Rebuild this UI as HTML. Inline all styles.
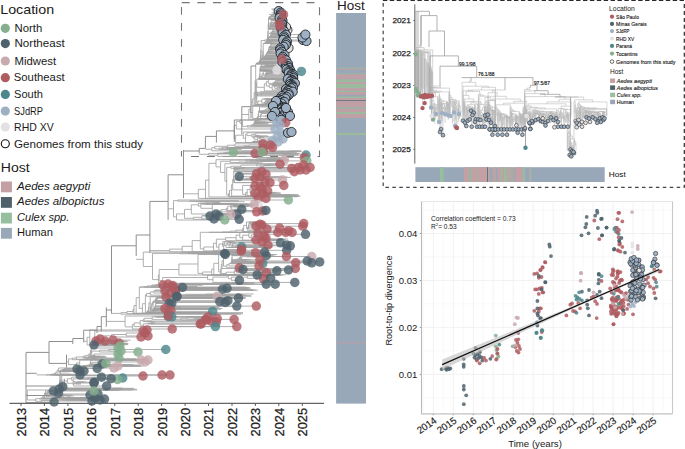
<!DOCTYPE html>
<html><head><meta charset="utf-8"><style>
html,body{margin:0;padding:0;background:#fff;overflow:hidden;width:685px;height:449px}
svg{display:block}
text{font-family:"Liberation Sans",sans-serif}
</style></head><body>
<svg width="685" height="449" viewBox="0 0 685 449">
<rect width="685" height="449" fill="#fff"/>
<text x="0.2" y="14" font-size="13.4" textLength="54" lengthAdjust="spacingAndGlyphs" fill="#1a1a1a">Location</text>
<circle cx="5.3" cy="28.3" r="4.6" fill="#84AE8E"/>
<text x="14.5" y="31.6" font-size="10.1" textLength="27.7" lengthAdjust="spacingAndGlyphs" fill="#1a1a1a">North</text>
<circle cx="5.3" cy="43.6" r="4.6" fill="#4E626C"/>
<text x="14.5" y="47.1" font-size="10.1" textLength="50.2" lengthAdjust="spacingAndGlyphs" fill="#1a1a1a">Northeast</text>
<circle cx="5.3" cy="61" r="4.6" fill="#C8A9AE"/>
<text x="14.5" y="64.5" font-size="10.1" textLength="41.6" lengthAdjust="spacingAndGlyphs" fill="#1a1a1a">Midwest</text>
<circle cx="5.3" cy="77.7" r="4.6" fill="#AF5C60"/>
<text x="13.8" y="81.3" font-size="10.1" textLength="50.9" lengthAdjust="spacingAndGlyphs" fill="#1a1a1a">Southeast</text>
<circle cx="5.3" cy="94.4" r="4.6" fill="#4D878C"/>
<text x="14.1" y="98.3" font-size="10.1" textLength="28.9" lengthAdjust="spacingAndGlyphs" fill="#1a1a1a">South</text>
<circle cx="5.3" cy="111.1" r="4.6" fill="#9DB0C4"/>
<text x="14.1" y="114.6" font-size="10.1" textLength="28.9" lengthAdjust="spacingAndGlyphs" fill="#1a1a1a">SJdRP</text>
<circle cx="5.3" cy="127" r="4.6" fill="#E4E1E5"/>
<text x="14.1" y="131.1" font-size="10.1" textLength="39.6" lengthAdjust="spacingAndGlyphs" fill="#1a1a1a">RHD XV</text>
<circle cx="5.3" cy="143.7" r="4.0" fill="none" stroke="#111" stroke-width="1.1"/>
<text x="14.1" y="147.6" font-size="10.1" textLength="128.9" lengthAdjust="spacingAndGlyphs" fill="#1a1a1a">Genomes from this study</text>
<text x="0.8" y="171.7" font-size="13.2" textLength="28.9" lengthAdjust="spacingAndGlyphs" fill="#1a1a1a">Host</text>
<rect x="0.9" y="181.5" width="11" height="10.8" fill="#C49FA3"/>
<text x="17" y="190.3" font-size="10.4" textLength="73.3" lengthAdjust="spacingAndGlyphs" font-style="italic" fill="#1a1a1a">Aedes aegypti</text>
<rect x="0.9" y="197" width="11" height="10.8" fill="#4E616B"/>
<text x="17" y="204.6" font-size="10.4" textLength="87.4" lengthAdjust="spacingAndGlyphs" font-style="italic" fill="#1a1a1a">Aedes albopictus</text>
<rect x="0.9" y="212.7" width="11" height="10.8" fill="#98BF9D"/>
<text x="17" y="221" font-size="10.4" textLength="52.3" lengthAdjust="spacingAndGlyphs" font-style="italic" fill="#1a1a1a">Culex spp.</text>
<rect x="0.9" y="227.9" width="11" height="10.8" fill="#98A8B8"/>
<text x="17" y="235.5" font-size="10.4" textLength="35.9" lengthAdjust="spacingAndGlyphs" fill="#1a1a1a">Human</text>
<text x="337" y="9.7" font-size="12.4" textLength="27.7" lengthAdjust="spacingAndGlyphs" fill="#1a1a1a">Host</text>
<rect x="336.1" y="13" width="29.9" height="390.6" fill="#98A8B8"/>
<rect x="336.1" y="67.6" width="29.9" height="1.1" fill="#9CBA9E"/>
<rect x="336.1" y="68.7" width="29.9" height="1.1" fill="#BEA0A6"/>
<rect x="336.1" y="73.4" width="29.9" height="0.9" fill="#9CBA9E"/>
<rect x="336.1" y="74.3" width="29.9" height="5.1" fill="#BEA0A6"/>
<rect x="336.1" y="79.4" width="29.9" height="2.6" fill="#9CBA9E"/>
<rect x="336.1" y="82" width="29.9" height="2" fill="#BEA0A6"/>
<rect x="336.1" y="84" width="29.9" height="4" fill="#9CBA9E"/>
<rect x="336.1" y="88" width="29.9" height="2.7" fill="#BEA0A6"/>
<rect x="336.1" y="90.7" width="29.9" height="1.3" fill="#9CBA9E"/>
<rect x="336.1" y="92" width="29.9" height="2.8" fill="#BEA0A6"/>
<rect x="336.1" y="96.5" width="29.9" height="1.5" fill="#9CBA9E"/>
<rect x="336.1" y="98" width="29.9" height="2" fill="#BEA0A6"/>
<rect x="336.1" y="100" width="29.9" height="0.9" fill="#6c727a"/>
<rect x="336.1" y="101" width="29.9" height="6.5" fill="#BEA0A6"/>
<rect x="336.1" y="107.5" width="29.9" height="1.3" fill="#9CBA9E"/>
<rect x="336.1" y="108.8" width="29.9" height="3.2" fill="#BEA0A6"/>
<rect x="336.1" y="112" width="29.9" height="2" fill="#9CBA9E"/>
<rect x="336.1" y="114" width="29.9" height="4" fill="#BEA0A6"/>
<rect x="336.1" y="132.8" width="29.9" height="2.4" fill="#9CBA9E"/>
<rect x="336.1" y="342.3" width="29.9" height="1" fill="#BEA0A6"/>
<path d="M9.5 403.4H324" stroke="#666" stroke-width="1.1" fill="none"/>
<path d="M21 403.4V405.9" stroke="#555" stroke-width="1" fill="none"/>
<text transform="translate(25.9 407.9) rotate(-90)" font-size="12.9" text-anchor="end" textLength="28.6" lengthAdjust="spacingAndGlyphs" fill="#1a1a1a" stroke="#1a1a1a" stroke-width="0.25">2013</text>
<path d="M44.4 403.4V405.9" stroke="#555" stroke-width="1" fill="none"/>
<text transform="translate(49.3 407.9) rotate(-90)" font-size="12.9" text-anchor="end" textLength="28.6" lengthAdjust="spacingAndGlyphs" fill="#1a1a1a" stroke="#1a1a1a" stroke-width="0.25">2014</text>
<path d="M67.9 403.4V405.9" stroke="#555" stroke-width="1" fill="none"/>
<text transform="translate(72.8 407.9) rotate(-90)" font-size="12.9" text-anchor="end" textLength="28.6" lengthAdjust="spacingAndGlyphs" fill="#1a1a1a" stroke="#1a1a1a" stroke-width="0.25">2015</text>
<path d="M91.3 403.4V405.9" stroke="#555" stroke-width="1" fill="none"/>
<text transform="translate(96.2 407.9) rotate(-90)" font-size="12.9" text-anchor="end" textLength="28.6" lengthAdjust="spacingAndGlyphs" fill="#1a1a1a" stroke="#1a1a1a" stroke-width="0.25">2016</text>
<path d="M114.8 403.4V405.9" stroke="#555" stroke-width="1" fill="none"/>
<text transform="translate(119.7 407.9) rotate(-90)" font-size="12.9" text-anchor="end" textLength="28.6" lengthAdjust="spacingAndGlyphs" fill="#1a1a1a" stroke="#1a1a1a" stroke-width="0.25">2017</text>
<path d="M138.2 403.4V405.9" stroke="#555" stroke-width="1" fill="none"/>
<text transform="translate(143.1 407.9) rotate(-90)" font-size="12.9" text-anchor="end" textLength="28.6" lengthAdjust="spacingAndGlyphs" fill="#1a1a1a" stroke="#1a1a1a" stroke-width="0.25">2018</text>
<path d="M161.6 403.4V405.9" stroke="#555" stroke-width="1" fill="none"/>
<text transform="translate(166.5 407.9) rotate(-90)" font-size="12.9" text-anchor="end" textLength="28.6" lengthAdjust="spacingAndGlyphs" fill="#1a1a1a" stroke="#1a1a1a" stroke-width="0.25">2019</text>
<path d="M185.1 403.4V405.9" stroke="#555" stroke-width="1" fill="none"/>
<text transform="translate(190 407.9) rotate(-90)" font-size="12.9" text-anchor="end" textLength="28.6" lengthAdjust="spacingAndGlyphs" fill="#1a1a1a" stroke="#1a1a1a" stroke-width="0.25">2020</text>
<path d="M208.5 403.4V405.9" stroke="#555" stroke-width="1" fill="none"/>
<text transform="translate(213.4 407.9) rotate(-90)" font-size="12.9" text-anchor="end" textLength="28.6" lengthAdjust="spacingAndGlyphs" fill="#1a1a1a" stroke="#1a1a1a" stroke-width="0.25">2021</text>
<path d="M232 403.4V405.9" stroke="#555" stroke-width="1" fill="none"/>
<text transform="translate(236.9 407.9) rotate(-90)" font-size="12.9" text-anchor="end" textLength="28.6" lengthAdjust="spacingAndGlyphs" fill="#1a1a1a" stroke="#1a1a1a" stroke-width="0.25">2022</text>
<path d="M255.4 403.4V405.9" stroke="#555" stroke-width="1" fill="none"/>
<text transform="translate(260.3 407.9) rotate(-90)" font-size="12.9" text-anchor="end" textLength="28.6" lengthAdjust="spacingAndGlyphs" fill="#1a1a1a" stroke="#1a1a1a" stroke-width="0.25">2023</text>
<path d="M278.8 403.4V405.9" stroke="#555" stroke-width="1" fill="none"/>
<text transform="translate(283.7 407.9) rotate(-90)" font-size="12.9" text-anchor="end" textLength="28.6" lengthAdjust="spacingAndGlyphs" fill="#1a1a1a" stroke="#1a1a1a" stroke-width="0.25">2024</text>
<path d="M302.3 403.4V405.9" stroke="#555" stroke-width="1" fill="none"/>
<text transform="translate(307.2 407.9) rotate(-90)" font-size="12.9" text-anchor="end" textLength="28.6" lengthAdjust="spacingAndGlyphs" fill="#1a1a1a" stroke="#1a1a1a" stroke-width="0.25">2025</text>
<path d="M181.7 2.6H320" stroke="#777" stroke-width="1.1" fill="none" stroke-dasharray="8 7.6"/>
<path d="M191.1 156.5H320" stroke="#777" stroke-width="1.1" fill="none" stroke-dasharray="7.9 7.9"/>
<path d="M181.5 6.9V156.5" stroke="#777" stroke-width="1.1" fill="none" stroke-dasharray="7.8 8.2"/>
<path d="M319.5 7.3V156.5" stroke="#777" stroke-width="1.1" fill="none" stroke-dasharray="8 7.9"/>
<path d="M278.4 9H271.4M278.4 9.9H272.3M278.4 9V9.9M278.1 9.5H278.4M278.1 10H282.6M278.1 9.5V10M277.8 9.7H278.1M277.8 10.2H278.2M277.8 9.7V10.2M277.5 9.9H277.8M277.5 10.6H277.6M277.5 9.9V10.6M277.2 10.3H277.5M277.2 10.7H275.4M277.2 10.3V10.7M276.9 10.5H277.2M276.9 11H278.2M276.9 10.5V11M276.6 10.7H276.9M276.6 11.1H283.4M276.6 10.7V11.1M276.3 10.9H276.6M276.3 12.7H280.4M276.3 10.9V12.7M276 11.8H276.3M276 12.8H271.7M276 11.8V12.8M275.7 12.3H276M275.7 13H278.1M275.7 12.3V13M275.4 12.7H275.7M275.4 13.1H276.7M275.4 12.7V13.1M275.1 12.9H275.4M275.1 13.4H278.2M275.1 12.9V13.4M274.8 13.2H275.1M274.8 13.6H280M274.8 13.2V13.6M274.5 13.4H274.8M274.5 13.8H273.3M274.5 13.4V13.8M274.2 13.6H274.5M274.2 14H277.3M274.2 13.6V14M273.9 13.8H274.2M273.9 14H281M273.9 13.8V14M273.6 13.9H273.9M273.6 14.2H272.9M273.6 13.9V14.2M273.3 14H273.6M273.3 14.4H280.4M273.3 14V14.4M273 14.2H273.3M273 14.5H283.8M273 14.2V14.5M272.7 14.4H273M272.7 14.6H269M272.7 14.4V14.6M272.4 14.5H272.7M272.4 14.7H283M272.4 14.5V14.7M272.1 14.6H272.4M272.1 15.4H274.7M272.1 14.6V15.4M271.8 15H272.1M271.8 15.5H271.9M271.8 15V15.5M271.5 15.2H271.8M271.5 16.1H280M271.5 15.2V16.1M271.2 15.7H271.5M271.2 16.2H278.3M271.2 15.7V16.2M270.9 15.9H271.2M270.9 16.5H275.9M270.9 15.9V16.5M270.6 16.2H270.9M270.6 16.7H268.6M270.6 16.2V16.7M270.3 16.5H270.6M270.3 17.7H268.2M270.3 16.5V17.7M270 17.1H270.3M270 17.8H279.1M270 17.1V17.8M269.7 17.4H270M269.7 18.6H279.5M269.7 17.4V18.6M269.4 18H269.7M269.4 18.7H273.9M269.4 18V18.7M269.1 18.4H269.4M269.1 19.1H270.5M269.1 18.4V19.1M268.8 18.7H269.1M268.8 19.2H276.2M268.8 18.7V19.2M272.1 19.5H271.9M272.1 19.5H279.7M272.1 19.5V19.5M271.8 19.5H272.1M271.8 19.5H281.6M271.8 19.5V19.5M271.5 19.5H271.8M271.5 19.8H283.2M271.5 19.5V19.8M277.8 19.9H274.9M277.8 20.1H270.7M277.8 19.9V20.1M277.5 20H277.8M277.5 20.6H274.3M277.5 20V20.6M277.2 20.3H277.5M277.2 20.7H272.3M277.2 20.3V20.7M276.9 20.5H277.2M276.9 20.7H272.1M276.9 20.5V20.7M276.6 20.6H276.9M276.6 20.8H274.6M276.6 20.6V20.8M276.3 20.7H276.6M276.3 21.2H282M276.3 20.7V21.2M276 20.9H276.3M276 22.1H279.3M276 20.9V22.1M275.7 21.5H276M275.7 22.4H277.6M275.7 21.5V22.4M275.4 21.9H275.7M275.4 22.7H271M275.4 21.9V22.7M275.1 22.3H275.4M275.1 22.9H281.3M275.1 22.3V22.9M274.8 22.6H275.1M274.8 23.1H268.2M274.8 22.6V23.1M274.5 22.8H274.8M274.5 23.1H281.2M274.5 22.8V23.1M274.2 23H274.5M274.2 23.4H278.9M274.2 23V23.4M273.9 23.2H274.2M273.9 24.2H270.7M273.9 23.2V24.2M273.6 23.7H273.9M273.6 24.6H281.7M273.6 23.7V24.6M273.3 24.2H273.6M273.3 24.9H269.1M273.3 24.2V24.9M273 24.5H273.3M273 25.3H269.2M273 24.5V25.3M272.7 24.9H273M272.7 25.6H278.9M272.7 24.9V25.6M272.4 25.2H272.7M272.4 25.7H282.2M272.4 25.2V25.7M272.1 25.5H272.4M272.1 26.3H281M272.1 25.5V26.3M271.8 25.9H272.1M271.8 26.3H271.7M271.8 25.9V26.3M271.5 26.1H271.8M271.5 26.3H281.4M271.5 26.1V26.3M271.2 19.6H271.5M271.2 26.2H271.5M271.2 19.6V26.2M270.9 22.9H271.2M270.9 26.5H279.5M270.9 22.9V26.5M270.6 24.7H270.9M270.6 26.5H284M270.6 24.7V26.5M270.3 25.6H270.6M270.3 27H278.7M270.3 25.6V27M270 26.3H270.3M270 27H285.5M270 26.3V27M269.7 26.7H270M269.7 28H280.5M269.7 26.7V28M269.4 27.3H269.7M269.4 28.4H279M269.4 27.3V28.4M269.1 27.8H269.4M269.1 28.9H282.3M269.1 27.8V28.9M268.8 28.4H269.1M268.8 29.4H275.3M268.8 28.4V29.4M268.5 18.9H268.8M268.5 28.9H268.8M268.5 18.9V28.9M273.3 29.7H282.4M273.3 30H286.9M273.3 29.7V30M273 29.8H273.3M273 31.4H283.7M273 29.8V31.4M272.7 30.6H273M272.7 31.9H280.6M272.7 30.6V31.9M272.4 31.3H272.7M272.4 32.2H269.7M272.4 31.3V32.2M272.1 31.7H272.4M272.1 33.1H282.1M272.1 31.7V33.1M271.8 32.4H272.1M271.8 33.2H281.4M271.8 32.4V33.2M273.6 33.2H281.5M273.6 33.3H282.3M273.6 33.2V33.3M273.3 33.3H273.6M273.3 33.5H269M273.3 33.3V33.5M273 33.4H273.3M273 33.8H272.4M273 33.4V33.8M272.7 33.6H273M272.7 33.9H277M272.7 33.6V33.9M272.4 33.7H272.7M272.4 34.2H272.5M272.4 33.7V34.2M272.1 33.9H272.4M272.1 34.6H304.9M272.1 33.9V34.6M271.8 34.3H272.1M271.8 34.8H285.4M271.8 34.3V34.8M271.5 32.8H271.8M271.5 34.5H271.8M271.5 32.8V34.5M271.2 33.7H271.5M271.2 35.5H271.7M271.2 33.7V35.5M270.9 34.6H271.2M270.9 35.5H279.7M270.9 34.6V35.5M270.6 35H270.9M270.6 36.5H278.6M270.6 35V36.5M270.3 35.8H270.6M270.3 36.5H283.4M270.3 35.8V36.5M270 36.1H270.3M270 36.9H277.4M270 36.1V36.9M269.7 36.5H270M269.7 37.5H302M269.7 36.5V37.5M269.4 37H269.7M269.4 37.6H278.2M269.4 37V37.6M269.1 37.3H269.4M269.1 38.1H269M269.1 37.3V38.1M268.8 37.7H269.1M268.8 38.2H283.4M268.8 37.7V38.2M268.5 37.9H268.8M268.5 39.8H275.2M268.5 37.9V39.8M268.2 23.9H268.5M268.2 38.8H268.5M268.2 23.9V38.8M267.9 31.4H268.2M267.9 39.8H281.6M267.9 31.4V39.8M267.6 35.6H267.9M267.6 39.9H282.7M267.6 35.6V39.9M267.3 37.7H267.6M267.3 40H302.5M267.3 37.7V40M267 38.9H267.3M267 40.5H270.1M267 38.9V40.5M266.7 39.7H267M266.7 40.6H281.9M266.7 39.7V40.6M264.2 40.1H266.7M264.2 41H306M264.2 40.1V41M267.1 41H277.7M267.1 41.1H273.1M267.1 41V41.1M266.8 41.1H267.1M266.8 41.6H286.5M266.8 41.1V41.6M266.5 41.3H266.8M266.5 41.8H272.7M266.5 41.3V41.8M266.2 41.6H266.5M266.2 42.8H272.5M266.2 41.6V42.8M265.9 42.2H266.2M265.9 42.8H282.7M265.9 42.2V42.8M265.6 42.5H265.9M265.6 43.3H285.5M265.6 42.5V43.3M265.3 42.9H265.6M265.3 43.4H274.1M265.3 42.9V43.4M263.7 43.1H265.3M263.7 43.4H275.9M263.7 43.1V43.4M271.3 43.6H280.7M271.3 45H277.8M271.3 43.6V45M271 44.3H271.3M271 45H285.3M271 44.3V45M270.7 44.7H271M270.7 46.7H283.2M270.7 44.7V46.7M270.4 45.7H270.7M270.4 47H277.4M270.4 45.7V47M270.1 46.3H270.4M270.1 47.1H268.7M270.1 46.3V47.1M269.8 46.7H270.1M269.8 47.4H276M269.8 46.7V47.4M269.5 47.1H269.8M269.5 47.6H283.4M269.5 47.1V47.6M269.2 47.3H269.5M269.2 48H288M269.2 47.3V48M271 48.1H283.2M271 48.4H279.7M271 48.1V48.4M270.7 48.3H271M270.7 49.1H274.2M270.7 48.3V49.1M270.4 48.7H270.7M270.4 49.4H277.3M270.4 48.7V49.4M270.1 49H270.4M270.1 49.5H282.4M270.1 49V49.5M269.8 49.3H270.1M269.8 49.5H279.3M269.8 49.3V49.5M269.8 49.7H283M269.8 50.1H279.8M269.8 49.7V50.1M269.5 49.4H269.8M269.5 49.9H269.8M269.5 49.4V49.9M269.2 49.6H269.5M269.2 51.1H274.4M269.2 49.6V51.1M268.9 47.7H269.2M268.9 50.4H269.2M268.9 47.7V50.4M268.6 49H268.9M268.6 51.5H273.3M268.6 49V51.5M268.3 50.3H268.6M268.3 51.8H281.1M268.3 50.3V51.8M268 51H268.3M268 51.8H272.3M268 51V51.8M267.7 51.4H268M267.7 52.6H282.6M267.7 51.4V52.6M267.4 52H267.7M267.4 52.8H270.8M267.4 52V52.8M267.1 52.4H267.4M267.1 53.3H282.6M267.1 52.4V53.3M266.8 52.9H267.1M266.8 53.5H280.1M266.8 52.9V53.5M266.5 53.2H266.8M266.5 55H281.6M266.5 53.2V55M266.2 54.1H266.5M266.2 55.2H284M266.2 54.1V55.2M265.9 54.7H266.2M265.9 55.2H279.3M265.9 54.7V55.2M265.6 54.9H265.9M265.6 55.6H274.2M265.6 54.9V55.6M265.3 55.2H265.6M265.3 56H278.3M265.3 55.2V56M265 55.6H265.3M265 56.5H277.2M265 55.6V56.5M264.7 56.1H265M264.7 56.9H282.2M264.7 56.1V56.9M264.4 56.5H264.7M264.4 57.4H274.2M264.4 56.5V57.4M264.1 56.9H264.4M264.1 57.5H277.7M264.1 56.9V57.5M263.8 57.2H264.1M263.8 58.5H281.9M263.8 57.2V58.5M263.5 57.9H263.8M263.5 58.6H281.9M263.5 57.9V58.6M263.2 43.3H263.7M263.2 58.2H263.5M263.2 43.3V58.2M262.9 50.8H263.2M262.9 58.8H278.6M262.9 50.8V58.8M262.6 54.8H262.9M262.6 59H281.1M262.6 54.8V59M262.3 56.9H262.6M262.3 59.1H275.5M262.3 56.9V59.1M262 58H262.3M262 59.3H281.5M262 58V59.3M261.7 58.6H262M261.7 59.5H271.3M261.7 58.6V59.5M261.4 59H261.7M261.4 59.8H275.5M261.4 59V59.8M261.1 40.6H264.2M261.1 59.4H261.4M261.1 40.6V59.4M260.8 50H261.1M260.8 60.3H285.6M260.8 50V60.3M260.5 55.2H260.8M260.5 61.7H281.6M260.5 55.2V61.7M260.2 58.4H260.5M260.2 61.8H275.7M260.2 58.4V61.8M259.9 60.1H260.2M259.9 62H282M259.9 60.1V62M259.6 61H259.9M259.6 62H280.1M259.6 61V62M259.3 61.5H259.6M259.3 62.4H280.9M259.3 61.5V62.4M259 62H259.3M259 62.9H274.4M259 62V62.9M258.7 62.4H259M258.7 62.9H278.5M258.7 62.4V62.9M258.4 62.7H258.7M258.4 63H275.2M258.4 62.7V63M257.2 62.8H258.4M257.2 63H283.4M257.2 62.8V63M256.9 62.9H257.2M256.9 63.6H282.1M256.9 62.9V63.6M256.6 63.3H256.9M256.6 63.7H287.4M256.6 63.3V63.7M256.3 63.5H256.6M256.3 63.9H283.9M256.3 63.5V63.9M256 63.7H256.3M266.2 64.5H268.8M266.2 64.7H266.4M266.2 64.5V64.7M266 64.6H266.2M266 65.1H276.1M266 64.6V65.1M265.9 64.8H266M265.9 65.4H285.2M265.9 64.8V65.4M272.4 65.4H275.4M272.4 65.7H274.3M272.4 65.4V65.7M270 65.6H272.4M270 65.7H274.4M270 65.6V65.7M268.3 65.6H270M268.3 66.2H287.8M268.3 65.6V66.2M265.3 65.1H265.9M265.3 65.9H268.3M265.3 65.1V65.9M264.6 65.5H265.3M264.6 66.6H285.5M264.6 65.5V66.6M262.8 66.1H264.6M262.8 66.7H263.8M262.8 66.1V66.7M262.5 66.4H262.8M262.5 66.7H291.2M262.5 66.4V66.7M261.9 64H274.6M261.9 66.5H262.5M261.9 64V66.5M261.5 65.3H261.9M261.5 66.9H265.8M261.5 65.3V66.9M260.5 67H260.5M260.5 67.1H285.3M260.5 67V67.1M279.7 67.9H288.2M279.7 68H286.1M279.7 67.9V68M278.1 67.9H279.7M278.1 68.3H282.7M278.1 67.9V68.3M277.3 68.7H284.5M277.3 68.8H285.1M277.3 68.7V68.8M272.9 68.1H278.1M272.9 68.7H277.3M272.9 68.1V68.7M262.5 68.4H272.9M262.5 69.2H263.6M262.5 68.4V69.2M261.9 68.8H262.5M261.9 69.6H286.2M261.9 68.8V69.6M261.1 67.3H291.8M261.1 69.2H261.9M261.1 67.3V69.2M260.5 67.1H260.5M260.5 68.3H261.1M260.5 67.1V68.3M264.6 69.7H267.3M264.6 70H276.5M264.6 69.7V70M261.3 69.7H266.5M261.3 69.9H264.6M261.3 69.7V69.9M260.5 67.7H260.5M260.5 69.8H261.3M260.5 67.7V69.8M260.4 68.7H260.5M260.4 70.2H269.3M260.4 68.7V70.2M260.4 69.4H260.4M260.4 70.5H268.1M260.4 69.4V70.5M260.3 66.1H261.5M260.3 70H260.4M260.3 66.1V70M260.2 68H260.3M260.2 70.5H289.8M260.2 68V70.5M260 69.3H260.2M260 71.3H288M260 69.3V71.3M268.9 71.5H276.6M268.9 71.5H275.2M268.9 71.5V71.5M270.8 72.1H274M270.8 72.2H289.7M270.8 72.1V72.2M268.2 71.5H268.9M268.2 72.1H270.8M268.2 71.5V72.1M270.6 72.9H272.5M270.6 73H271.8M270.6 72.9V73M269.5 72.9H272M269.5 72.9H270.6M269.5 72.9V72.9M267.1 73H288.3M267.1 73.1H267.2M267.1 73V73.1M267.1 73H267.1M267.1 73.5H270.3M267.1 73V73.5M267 72.9H269.5M267 73.3H267.1M267 72.9V73.3M266.9 73.1H267M266.9 73.9H291.3M266.9 73.1V73.9M266.5 73.5H266.9M266.5 74H266.9M266.5 73.5V74M266.4 71.8H268.2M266.4 73.8H266.5M266.4 71.8V73.8M265.9 72.8H266.4M265.9 74.3H268.6M265.9 72.8V74.3M265.9 74.3H267.7M265.9 74.7H292.8M265.9 74.3V74.7M265.5 73.5H265.9M265.5 74.5H265.9M265.5 73.5V74.5M265.3 74H265.5M265.3 75.6H290.4M265.3 74V75.6M264.7 74.8H265.3M264.7 76.4H292.5M264.7 74.8V76.4M263.4 71.4H300.9M263.4 75.6H264.7M263.4 71.4V75.6M262.2 73.5H263.4M262.2 77.3H289.8M262.2 73.5V77.3M261.8 75.4H262.2M261.8 78.1H292.7M261.8 75.4V78.1M260 70.3H260M260 76.8H261.8M260 70.3V76.8M259.8 73.5H260M259.8 78.1H267M259.8 73.5V78.1M259.4 75.8H259.8M259.4 78.3H264.7M259.4 75.8V78.3M259.3 77H259.4M259.3 78.7H273.6M259.3 77V78.7M271.7 78.7H288.8M271.7 78.8H288.9M271.7 78.7V78.8M264.9 78.8H271.7M264.9 79H287.4M264.9 78.8V79M259.1 77.9H259.3M259.1 78.9H264.9M259.1 77.9V78.9M258.8 78.4H259.1M258.8 79.4H287.2M258.8 78.4V79.4M258.3 78.9H258.8M258.3 79.4H288.4M258.3 78.9V79.4M282.5 79.8H291.5M282.5 80.2H285.3M282.5 79.8V80.2M282.1 80H282.5M282.1 80.3H286.5M282.1 80V80.3M278.2 80.2H282.1M278.2 80.4H279.5M278.2 80.2V80.4M278 80.3H278.2M278 80.7H291.8M278 80.3V80.7M286 81.5H292.9M286 81.5H290M286 81.5V81.5M282.2 81.5H286M282.2 82.2H286.8M282.2 81.5V82.2M277.5 80.5H278M277.5 81.9H282.2M277.5 80.5V81.9M276.3 79.8H280M276.3 81.2H277.5M276.3 79.8V81.2M275.7 80.5H276.3M275.7 82.4H292.6M275.7 80.5V82.4M274.8 81.4H275.7M274.8 82.8H278.1M274.8 81.4V82.8M274.4 82.1H274.8M274.4 83H276.7M274.4 82.1V83M273.8 82.5H274.4M273.8 83.2H294.4M273.8 82.5V83.2M272.5 82.9H273.8M272.5 83.7H282.9M272.5 82.9V83.7M268.3 79.6H278.5M268.3 83.3H272.5M268.3 79.6V83.3M277.7 84.2H285.2M277.7 84.6H281.7M277.7 84.2V84.6M276.5 84.1H289.7M276.5 84.4H277.7M276.5 84.1V84.4M271.8 84.2H276.5M271.8 84.9H275.7M271.8 84.2V84.9M276.9 84.9H291.5M276.9 85H278.7M276.9 84.9V85M275 84.9H276.9M275 85.4H284.5M275 84.9V85.4M276.7 85.8H277.2M276.7 85.8H290.2M276.7 85.8V85.8M276.2 85.8H276.7M276.2 85.8H282.1M276.2 85.8V85.8M275.4 85.8H276.2M275.4 86.2H276.4M275.4 85.8V86.2M278.8 86.6H291.8M278.8 86.7H279.8M278.8 86.6V86.7M278.3 86.7H278.8M278.3 87.5H292.5M278.3 86.7V87.5M277.4 87.1H278.3M277.4 88.3H290.8M277.4 87.1V88.3M276.8 87.7H277.4M276.8 89.2H285.5M276.8 87.7V89.2M274.8 86H275.4M274.8 88.4H276.8M274.8 86V88.4M274.6 85.6H275.9M274.6 87.2H274.8M274.6 85.6V87.2M273.8 85.2H275M273.8 86.4H274.6M273.8 85.2V86.4M272.8 84.9H276.4M272.8 85.8H273.8M272.8 84.9V85.8M272.2 85.3H272.8M272.2 90H287.9M272.2 85.3V90M269.3 84.6H271.8M269.3 87.7H272.2M269.3 84.6V87.7M266.3 81.5H268.3M266.3 86.1H269.3M266.3 81.5V86.1M264.3 83.8H266.3M264.3 90.9H288.5M264.3 83.8V90.9M256.8 79.1H258.3M256.8 87.3H264.3M256.8 79.1V87.3M260.4 91.7H292.2M260.4 92.6H286M260.4 91.7V92.6M257.3 92.2H260.4M257.3 92.7H258.5M257.3 92.2V92.7M261 94.3H285M261 94.7H262.1M261 94.3V94.7M259.7 93.4H288M259.7 94.5H261M259.7 93.4V94.5M258 93.9H259.7M258 95.1H288.1M258 93.9V95.1M257.6 93.3H257.9M257.6 94.5H258M257.6 93.3V94.5M257.5 93.9H257.6M257.5 96H281.6M257.5 93.9V96M257.1 92.4H257.3M257.1 95H257.5M257.1 92.4V95M279.5 97.7H282.3M279.5 98.5H284.7M279.5 97.7V98.5M278.3 96.8H286M278.3 98.1H279.5M278.3 96.8V98.1M276.7 97.5H278.3M276.7 98.8H283.8M276.7 97.5V98.8M274.2 98.1H276.7M274.2 98.8H289.3M274.2 98.1V98.8M265.9 98.5H274.2M265.9 99H285.8M265.9 98.5V99M263.9 98.7H265.9M263.9 99.3H288.8M263.9 98.7V99.3M274.6 99.6H284.5M274.6 100H278.5M274.6 99.6V100M272.4 99.5H278.3M272.4 99.8H274.6M272.4 99.5V99.8M270.6 99.4H278.7M270.6 99.6H272.4M270.6 99.4V99.6M274.2 100.3H282M274.2 100.9H281.1M274.2 100.3V100.9M270.7 101H275.5M270.7 101.1H278.3M270.7 101V101.1M268.1 101.1H270.7M268.1 101.9H268.2M268.1 101.1V101.9M268 101.5H268.1M268 101.9H283.8M268 101.5V101.9M268 101.7H268M268 102.1H270.6M268 101.7V102.1M267.9 101.9H268M267.9 102.7H272.6M267.9 101.9V102.7M267.6 100.6H274.2M267.6 102.3H267.9M267.6 100.6V102.3M267.2 100.2H280.6M267.2 101.5H267.6M267.2 100.2V101.5M267 100.8H267.2M267 102.8H277.7M267 100.8V102.8M266.4 99.5H270.6M266.4 101.8H267M266.4 99.5V101.8M265.4 100.7H266.4M265.4 103H272.1M265.4 100.7V103M264.6 101.8H265.4M264.6 103.2H269.1M264.6 101.8V103.2M266.5 103.3H272.2M266.5 103.4H267.2M266.5 103.3V103.4M266.2 103.4H266.5M266.2 103.5H268.2M266.2 103.4V103.5M265.6 103.4H266.2M265.6 103.6H281.2M265.6 103.4V103.6M265 103.5H265.6M265 104.1H271.7M265 103.5V104.1M264 102.5H264.6M264 103.8H265M264 102.5V103.8M261.9 99H263.9M261.9 103.2H264M261.9 99V103.2M257.8 101.1H261.9M257.8 104.4H275.1M257.8 101.1V104.4M256.8 93.7H257.1M256.8 102.7H257.8M256.8 93.7V102.7M256.3 83.2H256.8M256.3 98.2H256.8M256.3 83.2V98.2M256 90.7H256.3M256 104.4H272.1M256 90.7V104.4M255.7 64H272.8M255.7 97.6H256M255.7 64V97.6M255.1 80.8H255.7M255.1 104.5H277.8M255.1 80.8V104.5M254.1 92.6H255.1M254.1 105.3H278.5M254.1 92.6V105.3M252.3 99H254.1M252.3 105.3H271.3M252.3 99V105.3M251 102.2H252.3M274.7 107.9H281.1M274.7 108H285.5M274.7 107.9V108M273.4 108.7H280.7M273.4 109H274M273.4 108.7V109M272.9 108.4H278.2M272.9 108.9H273.4M272.9 108.4V108.9M272.7 108.6H272.9M272.7 109.3H273M272.7 108.6V109.3M272.3 108.9H272.7M272.3 109.4H278.9M272.3 108.9V109.4M272.1 109.2H272.3M272.1 109.4H277.7M272.1 109.2V109.4M271.5 109.3H272.1M271.5 109.6H280.9M271.5 109.3V109.6M271 108.3H272.4M271 109.5H271.5M271 108.3V109.5M269.7 108.9H271M269.7 109.6H271.3M269.7 108.9V109.6M273.7 109.7H275.4M273.7 109.9H275.1M273.7 109.7V109.9M271.6 109.8H273.7M271.6 110H274.2M271.6 109.8V110M271.4 109.9H271.6M271.4 110.4H282.8M271.4 109.9V110.4M269.4 110.2H271.4M269.4 110.5H270.5M269.4 110.2V110.5M268.4 109.2H269.7M268.4 110.3H269.4M268.4 109.2V110.3M267.8 108H274.7M267.8 109.8H268.4M267.8 108V109.8M266.1 108.9H267.8M266.1 110.6H280.9M266.1 108.9V110.6M264.9 109.7H266.1M264.9 111.1H272.3M264.9 109.7V111.1M261.8 110.4H264.9M261.8 111.3H282.4M261.8 110.4V111.3M259.7 110.9H261.8M259.7 111.5H259.9M259.7 110.9V111.5M259.7 111.2H259.7M259.7 112H274.5M259.7 111.2V112M259.7 111.6H259.7M259.7 112H287.5M259.7 111.6V112M259.5 107H283.1M259.5 111.8H259.7M259.5 107V111.8M259.4 109.4H259.5M259.4 112H269.2M259.4 109.4V112M259.1 110.7H259.4M259.1 112.1H284.8M259.1 110.7V112.1M258.7 111.4H259.1M258.7 112.1H263.9M258.7 111.4V112.1M262.1 113H279.8M262.1 113.6H267.1M262.1 113V113.6M261.5 112.3H263.5M261.5 113.3H262.1M261.5 112.3V113.3M267.3 114.7H283.2M267.3 116H271.5M267.3 114.7V116M273.3 116H289.5M273.3 116.4H282.3M273.3 116V116.4M273.5 117.1H274.5M273.5 117.6H277.7M273.5 117.1V117.6M272.5 117.4H273.5M272.5 117.9H276.8M272.5 117.4V117.9M274.2 118H284.6M274.2 118.1H279.4M274.2 118V118.1M272 117.6H272.5M272 118.1H274.2M272 117.6V118.1M269.8 116.2H273.3M269.8 117.9H272M269.8 116.2V117.9M265.5 115.4H267.3M265.5 117H269.8M265.5 115.4V117M261.2 112.8H261.5M261.2 116.2H265.5M261.2 112.8V116.2M260.5 114.5H261.2M260.5 118.5H276.9M260.5 114.5V118.5M258.6 111.8H258.7M258.6 116.5H260.5M258.6 111.8V116.5M258.2 114.1H258.6M258.2 118.6H276.8M258.2 114.1V118.6M257.8 116.3H258.2M257.8 118.7H281M257.8 116.3V118.7M257.2 117.5H257.8M257.2 118.8H283.2M257.2 117.5V118.8M256 118.1H257.2M256 118.9H279.1M256 118.1V118.9M253.3 118.5H256M253.3 119.1H285.9M253.3 118.5V119.1M252.7 106.2H276.6M252.7 118.8H253.3M252.7 106.2V118.8M250.3 106H272.5M250.3 112.5H252.7M250.3 106V112.5M248.8 109.3H250.3M248.8 119.8H280.8M248.8 109.3V119.8M242 114.5H248.8M256.5 120.1H259.4M256.5 121H275.5M256.5 120.1V121M255.8 120.6H256.5M255.8 121H258.7M255.8 120.6V121M255.4 120.8H255.8M255.4 121.2H257M255.4 120.8V121.2M254.9 121H255.4M254.9 121.2H255.9M254.9 121V121.2M254.8 121.1H254.9M254.8 121.7H255.1M254.8 121.1V121.7M255.6 122.1H256.9M255.6 122.3H270.6M255.6 122.1V122.3M259.4 122.6H285.2M259.4 122.6H267.9M259.4 122.6V122.6M256.5 122.6H259.4M256.5 122.9H264.3M256.5 122.6V122.9M255.4 122.2H255.6M255.4 122.8H256.5M255.4 122.2V122.8M255.2 121.8H265.5M255.2 122.5H255.4M255.2 121.8V122.5M255 122.1H255.2M255 123.3H268.1M255 122.1V123.3M254.7 121.4H254.8M254.7 122.7H255M254.7 121.4V122.7M254.4 122.1H254.7M254.4 123.4H260.9M254.4 122.1V123.4M254.3 122.7H254.4M254.3 124H268.5M254.3 122.7V124M253.7 123.4H254.3M253.7 125H279.5M253.7 123.4V125M253.2 124.2H253.7M253.2 125.1H283M253.2 124.2V125.1M252.1 124.6H253.2M252.1 125.9H282.4M252.1 124.6V125.9M250.8 125.2H252.1M250.8 126.2H283.2M250.8 125.2V126.2M247.2 125.7H250.8M247.2 127H277.6M247.2 125.7V127M242.3 120H261.5M242.3 126.3H247.2M242.3 120V126.3M240 120H256.2M240 123.2H242.3M240 120V123.2M236.3 121.6H240M236.3 129H274.5M236.3 121.6V129M234.3 125.3H236.3M255.8 133H280.5M255.8 135.6H259.7M255.8 133V135.6M257.5 136.3H261M257.5 136.6H259.3M257.5 136.3V136.6M256.4 135.9H257.8M256.4 136.5H257.5M256.4 135.9V136.5M256.3 136.2H256.4M256.3 136.7H268.9M256.3 136.2V136.7M254.7 136.4H256.3M254.7 137H258.3M254.7 136.4V137M260.5 137H263.3M260.5 137.4H264.1M260.5 137V137.4M259.9 137.2H260.5M259.9 138H261M259.9 137.2V138M259.5 137.6H259.9M259.5 139H282.5M259.5 137.6V139M259.1 137H276.5M259.1 138.3H259.5M259.1 137V138.3M259.1 141H260.8M259.1 141H271.5M259.1 141V141M257.7 137.7H259.1M257.7 141H259.1M257.7 137.7V141M254.2 136.7H254.7M254.2 139.3H257.7M254.2 136.7V139.3M253.2 135.8H267.7M253.2 138H254.2M253.2 135.8V138M251.8 134.3H255.8M251.8 136.9H253.2M251.8 134.3V136.9M246.9 132.8H287.5M246.9 135.6H251.8M246.9 132.8V135.6M253.7 141.2H264.6M253.7 141.4H254.3M253.7 141.2V141.4M253.4 141.3H253.7M253.4 141.6H253.5M253.4 141.3V141.6M253.4 141.4H253.4M253.4 141.6H264.2M253.4 141.4V141.6M253.2 141.5H253.4M253.2 141.7H256.2M253.2 141.5V141.7M253.1 141.6H253.2M253.1 142H259.3M253.1 141.6V142M255 142H255.6M255 142H277.5M255 142V142M255 142H255M255 142.1H267.1M255 142V142.1M254.6 142H255M254.6 142.1H261M254.6 142V142.1M254 142.1H254.6M254 142.2H259M254 142.1V142.2M252.9 141.8H253.1M252.9 142.1H254M252.9 141.8V142.1M252.7 142H252.9M252.7 142.3H258.6M252.7 142V142.3M252 142.1H252.7M252 142.5H254.4M252 142.1V142.5M251.8 142.3H252M251.8 142.5H254.8M251.8 142.3V142.5M251.2 142.4H251.8M251.2 142.5H258.3M251.2 142.4V142.5M248.9 142.5H251.2M248.9 142.5H260.3M248.9 142.5V142.5M246.6 142.5H248.9M246.6 142.5H262.1M246.6 142.5V142.5M245.6 134.2H246.9M245.6 142.5H246.6M245.6 134.2V142.5M243.3 132H291M243.3 138.3H245.6M243.3 132V138.3M235.6 135.2H243.3M235.6 142.5H264M235.6 135.2V142.5M234.3 138.8H235.6M248.8 145H269.9M248.8 146.5H255M248.8 145V146.5M244.1 145.7H248.8M244.1 146.5H261.4M244.1 145.7V146.5M236.7 146.1H244.1M236.7 147.2H259.3M236.7 146.1V147.2M235 143.8H262.5M235 146.7H236.7M235 143.8V146.7M236.6 147.3H254.7M236.6 147.4H272M236.6 147.3V147.4M227.4 145.2H235M227.4 147.4H236.6M227.4 145.2V147.4M228.7 147.8H257.2M228.7 147.8H235.3M228.7 147.8V147.8M238.9 148H262.5M238.9 148.4H260.9M238.9 148V148.4M235.2 148.2H238.9M235.2 148.5H241.4M235.2 148.2V148.5M231.6 148.3H235.2M231.6 148.5H235.4M231.6 148.3V148.5M231.1 148.4H231.6M231.1 148.6H238.2M231.1 148.4V148.6M227.4 148.5H231.1M227.4 149.4H230M227.4 148.5V149.4M227 147.9H239.7M227 148.9H227.4M227 147.9V148.9M226.5 147.8H228.7M226.5 148.4H227M226.5 147.8V148.4M222.6 148.1H226.5M222.6 149.4H241.7M222.6 148.1V149.4M221.5 147.7H237.8M221.5 148.8H222.6M221.5 147.7V148.8M218.8 148.2H221.5M218.8 149.5H230.6M218.8 148.2V149.5M214.8 146.3H227.4M214.8 148.9H218.8M214.8 146.3V148.9M211.8 147.6H214.8M211.8 150.8H262.9M211.8 147.6V150.8M205.4 149.2H211.8M290.4 151.1H301.8M290.4 151.2H299.3M290.4 151.1V151.2M288.2 151.2H290.4M288.2 151.4H301.5M288.2 151.2V151.4M272.8 151.3H288.2M272.8 151.8H295.5M272.8 151.3V151.8M256 151.1H300.8M256 151.5H272.8M256 151.1V151.5M241.7 151.3H256M241.7 152H261.5M241.7 151.3V152M232 151.6H241.7M232 152.4H296.8M232 151.6V152.4M228.9 152H232M228.9 152.5H232.8M228.9 152V152.5M225.6 152.3H228.9M225.6 153.3H292.8M225.6 152.3V153.3M224.3 152.8H225.6M224.3 153.3H300.5M224.3 152.8V153.3M223 153H224.3M223 153.3H254.5M223 153V153.3M219.8 153.2H223M219.8 153.4H291M219.8 153.2V153.4M217 153.3H219.8M217 153.4H298.9M217 153.3V153.4M284 154.8H298M284 154.9H298.5M284 154.8V154.9M281.9 154.8H284M281.9 155H305.5M281.9 154.8V155M260.6 154.9H281.9M260.6 155.6H294.7M260.6 154.9V155.6M252.6 155.3H260.6M252.6 157.5H303.8M252.6 155.3V157.5M217.7 154H293.7M217.7 156.4H252.6M217.7 154V156.4M208.6 153.4H217M208.6 155.2H217.7M208.6 153.4V155.2M199.2 154.3H208.6M271.9 158.7H285.7M271.9 159.1H273.7M271.9 158.7V159.1M271.6 158.9H271.9M271.6 159.5H288.2M271.6 158.9V159.5M270.5 159.2H271.6M270.5 159.9H289M270.5 159.2V159.9M268.1 159.5H270.5M268.1 160H273.6M268.1 159.5V160M267.5 158.3H285.3M267.5 159.7H268.1M267.5 158.3V159.7M266.7 159H267.5M266.7 160H282.5M266.7 159V160M258.3 158.3H281.7M258.3 159.5H266.7M258.3 158.3V159.5M256.1 158.9H258.3M256.1 160H283.8M256.1 158.9V160M245.3 159.4H256.1M245.3 160.1H287.1M245.3 159.4V160.1M268 160.4H274.9M268 160.5H272.1M268 160.4V160.5M265.1 160.3H280.6M265.1 160.4H268M265.1 160.3V160.4M263.3 160.9H306.3M263.3 160.9H263.9M263.3 160.9V160.9M262.8 160.9H263.3M262.8 161H282.4M262.8 160.9V161M262.3 160.8H271.7M262.3 161H262.8M262.3 160.8V161M262.1 160.6H277M262.1 160.9H262.3M262.1 160.6V160.9M261.7 160.7H262.1M261.7 161.2H278.9M261.7 160.7V161.2M261 161H261.7M261 161.3H275M261 161V161.3M257.4 160.4H265.1M257.4 161.2H261M257.4 160.4V161.2M250.3 160.8H257.4M250.3 161.6H264.6M250.3 160.8V161.6M246.3 161.2H250.3M246.3 162.8H262.5M246.3 161.2V162.8M238.5 162H246.3M238.5 162.9H258.7M238.5 162V162.9M230.3 160.1H279.5M230.3 162.5H238.5M230.3 160.1V162.5M265.9 164.9H274.1M265.9 165H303M265.9 164.9V165M264.1 164.9H265.9M264.1 165.4H271.6M264.1 164.9V165.4M263.8 165.8H275.3M263.8 167.5H297.9M263.8 165.8V167.5M260.6 165.2H264.1M260.6 166.6H263.8M260.6 165.2V166.6M256.6 164.2H279.5M256.6 165.9H260.6M256.6 164.2V165.9M240.9 165.1H256.6M240.9 167.5H309.6M240.9 165.1V167.5M234.4 167.7H235.3M234.4 167.9H245.1M234.4 167.7V167.9M235.4 168.1H244.1M235.4 168.2H236.1M235.4 168.1V168.2M234.8 168H240.6M234.8 168.1H235.4M234.8 168V168.1M234.1 167.8H234.4M234.1 168H234.8M234.1 167.8V168M233.8 167.9H234.1M233.8 168.4H291.3M233.8 167.9V168.4M232.8 168.2H233.8M232.8 168.4H235.1M232.8 168.2V168.4M230.9 166.3H240.9M230.9 168.3H232.8M230.9 166.3V168.3M235.8 168.6H239.5M235.8 169.3H239.2M235.8 168.6V169.3M234.9 168.9H235.8M234.9 170H299.6M234.9 168.9V170M234.3 168.5H234.6M234.3 169.5H234.9M234.3 168.5V169.5M234.3 169H234.3M234.3 170H305.5M234.3 169V170M234.2 169.5H234.3M234.2 171.7H261.2M234.2 169.5V171.7M234 170.6H234.2M234 171.7H293.8M234 170.6V171.7M243.2 173.4H256.2M243.2 174.2H265.4M243.2 173.4V174.2M238.4 173.8H243.2M238.4 176.4H238.7M238.4 173.8V176.4M260.5 177.4H290.9M260.5 177.8H267.2M260.5 177.4V177.8M257.1 177.6H260.5M257.1 178H286M257.1 177.6V178M252.3 177.8H257.1M252.3 178.4H254.5M252.3 177.8V178.4M251.7 177H259.5M251.7 178.1H252.3M251.7 177V178.1M251.1 177.6H251.7M251.1 178.9H262.3M251.1 177.6V178.9M250.1 177H287.5M250.1 178.2H251.1M250.1 177V178.2M249.5 177.6H250.1M249.5 179.3H267.8M249.5 177.6V179.3M245.7 178.4H249.5M245.7 179.3H263.4M245.7 178.4V179.3M241.6 176.7H282.2M241.6 178.9H245.7M241.6 176.7V178.9M238 175.1H238.4M238 177.8H241.6M238 175.1V177.8M237.5 176.5H238M237.5 179.4H262M237.5 176.5V179.4M236.6 177.9H237.5M236.6 179.8H270M236.6 177.9V179.8M235.3 178.8H236.6M235.3 180H282.1M235.3 178.8V180M234.4 179.4H235.3M234.4 182.6H264.5M234.4 179.4V182.6M233.8 171.1H234M233.8 181H234.4M233.8 171.1V181M233.6 176.1H233.8M233.6 182.6H269.5M233.6 176.1V182.6M257.5 189H261.5M257.5 190.9H267.1M257.5 189V190.9M267.5 192.4H277.2M267.5 192.6H274M267.5 192.4V192.6M265.8 192.5H267.5M265.8 192.8H280.6M265.8 192.5V192.8M255.6 189.9H257.5M255.6 192.6H265.8M255.6 189.9V192.6M254.1 191.3H255.6M254.1 193.4H254.5M254.1 191.3V193.4M254 192.3H254.1M254 193.4H262.1M254 192.3V193.4M253.7 192.9H254M253.7 193.4H273.7M253.7 192.9V193.4M253.4 193.1H253.7M253.4 193.6H280.7M253.4 193.1V193.6M267 194.2H274.2M267 194.6H298.4M267 194.2V194.6M263.4 194H273.5M263.4 194.4H267M263.4 194V194.4M272.4 195.2H290M272.4 195.2H295.8M272.4 195.2V195.2M256.3 194.2H263.4M256.3 195.2H272.4M256.3 194.2V195.2M253.1 193.4H253.4M253.1 194.7H256.3M253.1 193.4V194.7M252.6 194H253.1M252.6 195.3H290.4M252.6 194V195.3M252.1 186.7H259.5M252.1 194.7H252.6M252.1 186.7V194.7M268.2 195.4H298.8M268.2 195.4H291.1M268.2 195.4V195.4M250.9 190.7H252.1M250.9 195.4H268.2M250.9 190.7V195.4M250.2 186H254.5M250.2 193H250.9M250.2 186V193M247.2 189.5H250.2M247.2 195.6H297.8M247.2 189.5V195.6M245.6 192.6H247.2M245.6 196.1H299M245.6 192.6V196.1M242.6 185.4H283.3M242.6 194.3H245.6M242.6 185.4V194.3M232.7 179.3H233.6M232.7 189.9H242.6M232.7 179.3V189.9M231.6 184.6H232.7M231.6 196.1H300.6M231.6 184.6V196.1M229.5 190.4H231.6M229.5 196.5H298.7M229.5 190.4V196.5M228.6 193.4H229.5M228.6 196.8H297.1M228.6 193.4V196.8M226.7 167.3H230.9M226.7 195.1H228.6M226.7 167.3V195.1M224.9 163.7H277M224.9 181.2H226.7M224.9 163.7V181.2M220.6 161.3H230.3M220.6 172.5H224.9M220.6 161.3V172.5M216 159.7H245.3M216 166.9H220.6M216 159.7V166.9M208.9 163.3H216M208.9 197H290.4M208.9 163.3V197M205.5 180.2H208.9M205.5 198.4H257.9M205.5 180.2V198.4M198.3 189.3H205.5M198.3 198.4H265.4M198.3 189.3V198.4M183.5 193.8H198.3M200 201.1H238.4M200 201.6H215.4M200 201.1V201.6M195.7 201.4H200M195.7 201.7H244.7M195.7 201.4V201.7M189.8 200.8H238.8M189.8 201.5H195.7M189.8 200.8V201.5M177.7 200H287.9M177.7 201.2H189.8M177.7 200V201.2M215.2 202.1H220.3M215.2 202.4H218.8M215.2 202.1V202.4M213.4 203.1H220.2M213.4 203.4H219M213.4 203.1V203.4M212.8 202.3H215.2M212.8 203.2H213.4M212.8 202.3V203.2M205.3 202.8H212.8M205.3 203.6H211.4M205.3 202.8V203.6M200.2 203.2H205.3M200.2 203.6H212.9M200.2 203.2V203.6M215.2 203.9H217M215.2 204H247.7M215.2 203.9V204M214.6 203.9H235.8M214.6 204H215.2M214.6 203.9V204M211.7 203.9H214.6M211.7 204H238.5M211.7 203.9V204M210.9 204H211.7M210.9 204H236.4M210.9 204V204M206.3 203.9H234.8M206.3 204H210.9M206.3 203.9V204M239.1 204H255.7M239.1 204.3H249.2M239.1 204V204.3M228.3 204.1H239.1M228.3 204.3H253.7M228.3 204.1V204.3M215.6 204.2H228.3M215.6 204.4H243.8M215.6 204.2V204.4M203.4 203.9H206.3M203.4 204.3H215.6M203.4 203.9V204.3M244.5 204.6H248.3M244.5 204.6H253.4M244.5 204.6V204.6M239.9 204.6H244.5M239.9 204.8H246.1M239.9 204.6V204.8M234.7 204.7H239.9M234.7 204.8H246.6M234.7 204.7V204.8M237.9 205.1H257.9M237.9 205.1H241.5M237.9 205.1V205.1M234.8 205.5H246.6M234.8 205.5H234.8M234.8 205.5V205.5M234.8 205.5H234.8M234.8 205.6H251.4M234.8 205.5V205.6M234.8 205.6H234.8M234.8 205.7H250.8M234.8 205.6V205.7M234.8 205.4H238.2M234.8 205.6H234.8M234.8 205.4V205.6M234.8 205.5H234.8M234.8 205.7H242.5M234.8 205.5V205.7M234.7 205.6H234.8M234.7 206.3H253.2M234.7 205.6V206.3M234.6 205.1H237.9M234.6 205.9H234.7M234.6 205.1V205.9M234.4 205.5H234.6M234.4 206.5H247.3M234.4 205.5V206.5M234.1 206H234.4M234.1 206.7H244.7M234.1 206V206.7M233.6 204.9H247.5M233.6 206.4H234.1M233.6 204.9V206.4M232.6 204.9H240.1M232.6 205.6H233.6M232.6 204.9V205.6M231.8 205.2H232.6M231.8 206.9H245.6M231.8 205.2V206.9M231.2 206.1H231.8M231.2 209.3H241.2M231.2 206.1V209.3M230.8 204.7H234.7M230.8 207.7H231.2M230.8 204.7V207.7M227.7 206.2H230.8M227.7 210.4H265.4M227.7 206.2V210.4M226.3 208.3H227.7M226.3 210.9H262.1M226.3 208.3V210.9M221.2 209.6H226.3M221.2 211.8H256.2M221.2 209.6V211.8M217.1 210.7H221.2M217.1 213.5H228.5M217.1 210.7V213.5M212.3 204.5H240.1M212.3 212.1H217.1M212.3 204.5V212.1M200.9 204.1H203.4M200.9 208.3H212.3M200.9 204.1V208.3M198.4 203.4H200.2M198.4 206.2H200.9M198.4 203.4V206.2M191.3 204.8H198.4M191.3 214H215.5M191.3 204.8V214M218.1 214.3H236.2M218.1 214.5H219.9M218.1 214.3V214.5M217.5 214H224.2M217.5 214.4H218.1M217.5 214V214.4M216.7 214.2H217.5M216.7 214.5H230.3M216.7 214.2V214.5M216.4 214.3H216.7M216.4 214.6H224.6M216.4 214.3V214.6M213.8 214.5H216.4M213.8 214.8H226.4M213.8 214.5V214.8M211.7 214.6H213.8M211.7 214.9H230.5M211.7 214.6V214.9M205.9 214.8H211.7M205.9 216H209.5M205.9 214.8V216M202.7 215.4H205.9M202.7 216H218.5M202.7 215.4V216M201.9 215.7H202.7M201.9 219H213.5M201.9 215.7V219M193.3 217.3H201.9M193.3 219.3H238.7M193.3 217.3V219.3M184.5 209.4H191.3M184.5 218.3H193.3M184.5 209.4V218.3M176.5 213.9H184.5M176.5 220H224.3M176.5 213.9V220M173.5 200.6H177.7M173.5 216.9H176.5M173.5 200.6V216.9M168.1 208.8H173.5M252.4 223H252.7M252.4 223.1H260.2M252.4 223V223.1M252.1 222.9H264.7M252.1 223H252.4M252.1 222.9V223M251.3 223H252.1M251.3 223.1H262.8M251.3 223V223.1M250.4 223H251.3M250.4 223.1H250.5M250.4 223V223.1M250.4 223.1H250.4M250.4 223.1H259.7M250.4 223.1V223.1M250.3 222.5H259.7M250.3 223.1H250.4M250.3 222.5V223.1M255.5 223.6H303.2M255.5 223.9H266.3M255.5 223.6V223.9M253.4 223.8H255.5M253.4 224.1H257.3M253.4 223.8V224.1M252.9 223.2H253.7M252.9 223.9H253.4M252.9 223.2V223.9M252 223.6H252.9M252 224.3H259.5M252 223.6V224.3M257.4 224.6H260.6M257.4 224.7H263.2M257.4 224.6V224.7M252.7 224.7H257.4M252.7 225H261.5M252.7 224.7V225M251.8 223.9H252M251.8 224.8H252.7M251.8 223.9V224.8M251.4 224.4H251.8M251.4 226H255.5M251.4 224.4V226M250.1 222.8H250.3M250.1 225.2H251.4M250.1 222.8V225.2M249.9 222H261.1M249.9 224H250.1M249.9 222V224M249.7 222H257.2M249.7 223H249.9M249.7 222V223M255.7 226.2H302.3M255.7 228H279.1M255.7 226.2V228M249 222.5H249.7M249 227.1H255.7M249 222.5V227.1M248.5 224.8H249M248.5 229H266.5M248.5 224.8V229M247.7 226.9H248.5M247.7 230.7H288M247.7 226.9V230.7M246.5 222H250.5M246.5 228.8H247.7M246.5 222V228.8M243.6 225.4H246.5M243.6 231.8H277.5M243.6 225.4V231.8M242.4 228.6H243.6M242.4 231.9H271.5M242.4 228.6V231.9M235.9 230.2H242.4M235.9 232.1H275M235.9 230.2V232.1M230 231.2H235.9M230 232.4H271.8M230 231.2V232.4M222.3 231.8H230M222.3 232.5H277.3M222.3 231.8V232.5M209.1 232.1H222.3M209.1 232.5H285.3M209.1 232.1V232.5M262.2 236H263.5M262.2 237.8H264.5M262.2 236V237.8M261.8 236.9H262.2M261.8 238H265.5M261.8 236.9V238M259.5 237.5H261.8M259.5 238.3H259.8M259.5 237.5V238.3M259.4 237.9H259.5M259.4 238.9H270.3M259.4 237.9V238.9M259 238.4H259.4M259 238.9H268.2M259 238.4V238.9M258.9 238.7H259M258.9 239H288.1M258.9 238.7V239M257.8 238.9H258.9M257.8 239.4H285.9M257.8 238.9V239.4M256.6 239.1H257.8M256.6 239.4H280.2M256.6 239.1V239.4M255.8 234.3H305M255.8 239.3H256.6M255.8 234.3V239.3M254.4 233H257.5M254.4 236.8H255.8M254.4 233V236.8M251.3 234.9H254.4M251.3 240H255.5M251.3 234.9V240M248.9 232.9H270.3M248.9 237.4H251.3M248.9 232.9V237.4M242.7 235.2H248.9M242.7 240.3H278.2M242.7 235.2V240.3M239.8 232.5H291.6M239.8 237.7H242.7M239.8 232.5V237.7M236.1 235.1H239.8M236.1 240.3H278M236.1 235.1V240.3M225.6 237.7H236.1M225.6 240.7H280.2M225.6 237.7V240.7M228.4 241.8H229.1M228.4 241.8H234.5M228.4 241.8V241.8M228.3 241.8H228.4M228.3 241.9H234.9M228.3 241.8V241.9M227.9 241.8H228.3M227.9 242H232.1M227.9 241.8V242M233.1 243.3H233.4M233.1 243.4H236.8M233.1 243.3V243.4M232.6 243.3H233.1M232.6 245H267.5M232.6 243.3V245M250.1 245.8H289.8M250.1 246H265.9M250.1 245.8V246M239.6 246H263.9M239.6 246.8H241.1M239.6 246V246.8M239.3 246.4H239.6M239.3 246.9H271.5M239.3 246.4V246.9M238.7 245.9H250.1M238.7 246.7H239.3M238.7 245.9V246.7M236.9 245H286.2M236.9 246.3H238.7M236.9 245V246.3M235.8 245.6H236.9M235.8 247H272.9M235.8 245.6V247M232.5 244.2H232.6M232.5 246.3H235.8M232.5 244.2V246.3M232.1 245.2H232.5M232.1 247.2H268.4M232.1 245.2V247.2M230.9 242.8H280M230.9 246.2H232.1M230.9 242.8V246.2M230.4 242.4H231.5M230.4 244.5H230.9M230.4 242.4V244.5M230.1 242H261.5M230.1 243.5H230.4M230.1 242V243.5M229.2 242.7H230.1M229.2 247.5H271.2M229.2 242.7V247.5M227.6 241.9H227.9M227.6 245.1H229.2M227.6 241.9V245.1M226.1 243.5H227.6M226.1 247.5H268.7M226.1 243.5V247.5M224.4 241.7H228M224.4 245.5H226.1M224.4 241.7V245.5M223.7 243.6H224.4M223.7 249.5H241.1M223.7 243.6V249.5M222.7 241.7H231.3M222.7 246.6H223.7M222.7 241.7V246.6M218.9 244.1H222.7M218.9 250.3H286.2M218.9 244.1V250.3M216.4 239.2H225.6M216.4 247.2H218.9M216.4 239.2V247.2M213.5 243.2H216.4M213.5 250.8H241.8M213.5 243.2V250.8M203.8 247H213.5M203.8 250.9H240.7M203.8 247V250.9M200.3 232.3H209.1M200.3 248.9H203.8M200.3 232.3V248.9M192.2 240.6H200.3M192.2 251.9H243.5M192.2 240.6V251.9M182.2 246.3H192.2M182.2 252H250.7M182.2 246.3V252M169.7 249.1H182.2M169.7 252H250.3M169.7 249.1V252M149.9 250.6H169.7M224.5 252.7H255M224.5 252.8H231.2M224.5 252.7V252.8M215.7 252.5H260.2M215.7 252.8H224.5M215.7 252.5V252.8M220.9 253.5H224.3M220.9 253.6H225M220.9 253.5V253.6M218.9 253.2H263.8M218.9 253.5H220.9M218.9 253.2V253.5M211.5 253.2H261.7M211.5 253.4H218.9M211.5 253.2V253.4M191.6 253.3H211.5M191.6 253.7H227.2M191.6 253.3V253.7M187.8 252.6H215.7M187.8 253.5H191.6M187.8 252.6V253.5M179.9 253.1H187.8M179.9 253.8H260.6M179.9 253.1V253.8M217.9 254.1H260.1M217.9 254.5H224.7M217.9 254.1V254.5M213.3 254.3H217.9M213.3 254.6H277.2M213.3 254.3V254.6M232.1 255H268.4M232.1 255.1H232.1M232.1 255V255.1M232 255H232.1M232 255.1H232.6M232 255V255.1M232.1 255.1H232.1M232.1 255.4H271M232.1 255.1V255.4M232.1 255.2H232.1M232.1 255.7H273.8M232.1 255.2V255.7M232 255.1H232M232 255.5H232.1M232 255.1V255.5M261.2 256.5H285.9M261.2 256.5H311.2M261.2 256.5V256.5M251.5 256.5H261.2M251.5 256.6H272M251.5 256.5V256.6M246.7 256.5H251.5M246.7 256.9H269.2M246.7 256.5V256.9M241.6 256.7H246.7M241.6 259.4H242.5M241.6 256.7V259.4M241.4 258H241.6M241.4 259.5H251.1M241.4 258V259.5M240.5 255.7H265.7M240.5 258.8H241.4M240.5 255.7V258.8M239.5 257.2H240.5M239.5 259.8H259.4M239.5 257.2V259.8M237.9 258.5H239.5M237.9 260H248.3M237.9 258.5V260M235.2 259.3H237.9M235.2 260.2H245.8M235.2 259.3V260.2M232 255.3H232M232 259.7H235.2M232 255.3V259.7M232 257.5H232M232 260.3H242.5M232 257.5V260.3M232 258.9H232M232 261H306.7M232 258.9V261M232 259.9H232M232 261.3H252.8M232 259.9V261.3M231.9 260.6H232M231.9 261.8H265.6M231.9 260.6V261.8M231.7 261.2H231.9M231.7 261.9H319.2M231.7 261.2V261.9M231.7 261.6H231.7M231.7 262H250.2M231.7 261.6V262M243.9 262H267.5M243.9 262.8H295.2M243.9 262V262.8M241 262.4H243.9M241 262.8H311.2M241 262.4V262.8M231.7 261.8H231.7M231.7 262.6H241M231.7 261.8V262.6M231.3 262.2H231.7M231.3 262.9H266M231.3 262.2V262.9M230.9 262.6H231.3M230.9 263.6H259.9M230.9 262.6V263.6M230.5 263.1H230.9M230.5 263.7H262.2M230.5 263.1V263.7M229 263.4H230.5M229 266H258.5M229 263.4V266M226.8 264.7H229M226.8 267.8H238.9M226.8 264.7V267.8M223.5 254.9H224.8M223.5 266.2H226.8M223.5 254.9V266.2M222.1 260.6H223.5M222.1 268.5H294.8M222.1 260.6V268.5M240.9 269.6H242.5M240.9 269.7H279.3M240.9 269.6V269.7M239.9 269.6H240.9M239.9 269.9H288M239.9 269.6V269.9M239.5 269.8H239.9M239.5 270.5H283.9M239.5 269.8V270.5M237.3 270.1H239.5M237.3 270.6H270.9M237.3 270.1V270.6M274.4 270.8H276.4M274.4 271H280.1M274.4 270.8V271M272.7 270.9H274.4M272.7 271.2H278.9M272.7 270.9V271.2M265.5 271.1H272.7M265.5 271.5H267.6M265.5 271.1V271.5M264 271.3H265.5M264 272.2H277M264 271.3V272.2M262 270.6H266.6M262 271.8H264M262 270.6V271.8M259.9 271.2H262M259.9 272.4H272.3M259.9 271.2V272.4M258.4 271.8H259.9M258.4 272.6H265.7M258.4 271.8V272.6M252.9 272.2H258.4M252.9 272.6H273.6M252.9 272.2V272.6M236.4 270.3H237.3M236.4 272.4H252.9M236.4 270.3V272.4M235.3 269H285.2M235.3 271.4H236.4M235.3 269V271.4M246.9 273.6H263.1M246.9 274.7H259.9M246.9 273.6V274.7M234.3 270.2H235.3M234.3 274.2H246.9M234.3 270.2V274.2M226.1 272.2H234.3M226.1 274.8H269M226.1 272.2V274.8M221.3 264.5H222.1M221.3 273.5H226.1M221.3 264.5V273.5M220.3 269H221.3M220.3 274.8H283.6M220.3 269V274.8M218.6 254.8H274.8M218.6 271.9H220.3M218.6 254.8V271.9M213.8 263.3H218.6M213.8 274.8H286.3M213.8 263.3V274.8M211.7 269.1H213.8M211.7 274.9H256.7M211.7 269.1V274.9M202.6 272H211.7M202.6 274.9H261.7M202.6 272V274.9M198 254.5H213.3M198 273.4H202.6M198 254.5V273.4M178.9 264H198M178.9 275H269.8M178.9 264V275M261.6 275.8H269.1M261.6 275.9H268.4M261.6 275.8V275.9M256.2 277.9H270.2M256.2 278.8H263.1M256.2 277.9V278.8M247.3 275.8H261.6M247.3 278.4H256.2M247.3 275.8V278.4M231.3 277.1H247.3M231.3 280.3H238.9M231.3 277.1V280.3M228.3 275.5H281.4M228.3 278.7H231.3M228.3 275.5V278.7M212.9 277.1H228.3M212.9 282.4H294.3M212.9 277.1V282.4M207.6 275.3H259M207.6 279.7H212.9M207.6 275.3V279.7M231.9 283H253M231.9 283H248.5M231.9 283V283M220.3 283H231.9M220.3 283.4H254.9M220.3 283V283.4M167 283.9H253.4M167 284H167.5M167 283.9V284M166.9 284H167M166.9 284.1H247.1M166.9 284V284.1M166.4 284H166.9M166.4 284.2H265.7M166.4 284V284.2M164.4 283.2H220.3M164.4 284.1H166.4M164.4 283.2V284.1M162.7 277.5H207.6M162.7 283.7H164.4M162.7 277.5V283.7M159.2 269.5H178.9M159.2 280.6H162.7M159.2 269.5V280.6M158.4 275H159.2M158.4 284.2H274.7M158.4 275V284.2M152.5 253.4H179.9M152.5 279.6H158.4M152.5 253.4V279.6M143.3 252.1H264M143.3 266.5H152.5M143.3 252.1V266.5M136.2 259.3H143.3M155.6 285H162.5M155.6 285H203.3M155.6 285V285M154.9 285H155.6M154.9 285H201.9M154.9 285V285M152 285H154.9M152 285.6H172.2M152 285V285.6M151.4 285.3H152M151.4 286.5H197.2M151.4 285.3V286.5M147.5 285.9H151.4M147.5 287H172.5M147.5 285.9V287M144.3 286.5H147.5M144.3 287.2H245.4M144.3 286.5V287.2M140.2 286.8H144.3M140.2 287.3H246.7M140.2 286.8V287.3M182.4 287.5H230.6M182.4 287.6H249.5M182.4 287.5V287.6M179.3 287.4H182M179.3 287.6H182.4M179.3 287.4V287.6M178.5 287.5H179.3M178.5 288H247.1M178.5 287.5V288M177.9 287.7H178.5M177.9 288H247.5M177.9 287.7V288M177.2 287.9H177.9M177.2 288H250.8M177.2 287.9V288M176.3 288H177.2M176.3 288.1H248.5M176.3 288V288.1M175.8 288H176.3M175.8 288.2H232.5M175.8 288V288.2M175.1 288.1H175.8M175.1 288.3H226.5M175.1 288.1V288.3M174.1 288.2H175.1M174.1 288.8H240.5M174.1 288.2V288.8M196 288.9H249.9M196 289.2H222M196 288.9V289.2M191.5 289H196M191.5 289.4H252.6M191.5 289V289.4M180.2 289.2H191.5M180.2 289.4H247.8M180.2 289.2V289.4M172.9 288.5H174.1M172.9 289.3H180.2M172.9 288.5V289.3M170.3 288.9H172.9M170.3 290H253.1M170.3 288.9V290M169.4 290H175.5M169.4 290.1H253.5M169.4 290V290.1M168.1 289.4H170.3M168.1 290H169.4M168.1 289.4V290M165.5 289.7H168.1M165.5 290.1H255.7M165.5 289.7V290.1M161.4 289.9H165.5M161.4 290.2H257.9M161.4 289.9V290.2M155.1 290H161.4M155.1 291H164.5M155.1 290V291M154.6 290.5H155.1M154.6 291H174.8M154.6 290.5V291M153.9 290.8H154.6M153.9 293H169.5M153.9 290.8V293M206 294H253.6M206 294.6H243.3M206 294V294.6M185.4 294.3H206M185.4 295.1H246.4M185.4 294.3V295.1M188.1 295.2H242.8M188.1 295.7H251.1M188.1 295.2V295.7M163.3 294.7H185.4M163.3 295.5H188.1M163.3 294.7V295.5M150.3 291.9H153.9M150.3 295.1H163.3M150.3 291.9V295.1M161.1 296.2H251.7M161.1 296.3H176.6M161.1 296.2V296.3M158 296.2H161.1M158 296.3H216.7M158 296.2V296.3M146.5 293.5H150.3M146.5 296.3H158M146.5 293.5V296.3M159.6 297H165.5M159.6 297.4H239.9M159.6 297V297.4M156.5 297.2H159.6M156.5 297.5H245.6M156.5 297.2V297.5M172 297.5H242.7M172 297.9H241.3M172 297.5V297.9M200.7 298.1H241.8M200.7 298.2H245.8M200.7 298.1V298.2M175.4 298.1H238M175.4 298.2H200.7M175.4 298.1V298.2M194.8 298.4H236.4M194.8 298.5H244.5M194.8 298.4V298.5M168.5 298.1H175.4M168.5 298.4H194.8M168.5 298.1V298.4M157 298.3H168.5M157 300.3H157.9M157 298.3V300.3M156.9 297.7H172M156.9 299.3H157M156.9 297.7V299.3M156.6 298.5H156.9M156.6 300.7H165.3M156.6 298.5V300.7M156.4 299.6H156.6M156.4 300.7H227.4M156.4 299.6V300.7M156.3 300.1H156.4M156.3 300.9H159.5M156.3 300.1V300.9M156 297.4H156.5M156 300.5H156.3M156 297.4V300.5M155.5 299H156M155.5 300.9H159.8M155.5 299V300.9M154.8 299.9H155.5M154.8 301.6H219.3M154.8 299.9V301.6M153.7 300.8H154.8M153.7 302.2H155.9M153.7 300.8V302.2M157.9 302.5H224.7M157.9 302.6H161.6M157.9 302.5V302.6M156.5 302.6H157.9M156.5 302.7H156.9M156.5 302.6V302.7M156.3 302.6H156.5M156.3 303.3H168.8M156.3 302.6V303.3M156.2 302.4H160.6M156.2 303H156.3M156.2 302.4V303M156.1 302.7H156.2M156.1 303.4H171.3M156.1 302.7V303.4M155.7 303H156.1M155.7 306.1H236.3M155.7 303V306.1M155.6 304.6H155.7M155.6 306.1H255.8M155.6 304.6V306.1M155.3 305.3H155.6M155.3 307H218.8M155.3 305.3V307M164.9 307.7H181M164.9 307.9H173.9M164.9 307.7V307.9M161.8 307.3H219.4M161.8 307.8H164.9M161.8 307.3V307.8M162 308.2H173.5M162 308.5H222.4M162 308.2V308.5M161.2 307.6H161.8M161.2 308.3H162M161.2 307.6V308.3M154.9 306.2H155.3M154.9 307.9H161.2M154.9 306.2V307.9M154.7 307.1H154.9M154.7 308.6H213.4M154.7 307.1V308.6M154.3 307.8H154.7M154.3 308.6H164.4M154.3 307.8V308.6M154.1 308.2H154.3M154.1 308.6H170.5M154.1 308.2V308.6M153.8 308.4H154.1M153.8 308.7H170.5M153.8 308.4V308.7M153 302.3H162.7M153 308.6H153.8M153 302.3V308.6M152.8 301.5H153.7M152.8 305.4H153M152.8 301.5V305.4M160.3 309.1H217M160.3 309.3H220.9M160.3 309.1V309.3M163.6 309.3H215M163.6 309.6H180.7M163.6 309.3V309.6M158.6 309.2H160.3M158.6 309.4H163.6M158.6 309.2V309.4M154.2 309.6H169.9M154.2 309.8H155.3M154.2 309.6V309.8M153.9 309.7H154.2M153.9 309.9H170.2M153.9 309.7V309.9M153.5 309.8H153.9M153.5 310.2H159M153.5 309.8V310.2M153.3 310H153.5M153.3 310.2H157.8M153.3 310V310.2M152.2 309.3H158.6M152.2 310.1H153.3M152.2 309.3V310.1M151.8 309.7H152.2M151.8 310.5H170.4M151.8 309.7V310.5M151.6 303.5H152.8M151.6 310.1H151.8M151.6 303.5V310.1M150.5 306.8H151.6M150.5 311.1H155.5M150.5 306.8V311.1M150.2 296.7H176M150.2 309H150.5M150.2 296.7V309M148.9 302.8H150.2M148.9 311.4H212.2M148.9 302.8V311.4M148.7 307.1H148.9M148.7 312.4H211.3M148.7 307.1V312.4M147.9 309.8H148.7M147.9 312.5H206.8M147.9 309.8V312.5M147.6 311.1H147.9M147.6 312.6H243M147.6 311.1V312.6M146.2 311.9H147.6M146.2 313H167.9M146.2 311.9V313M145.4 294.9H146.5M145.4 312.4H146.2M145.4 294.9V312.4M142.4 303.7H145.4M142.4 313.2H204.6M142.4 303.7V313.2M139.3 287H140.2M139.3 308.4H142.4M139.3 287V308.4M136.2 297.7H139.3M136.2 313.3H209.1M136.2 297.7V313.3M134 305.5H136.2M134 313.4H206.5M134 305.5V313.4M133.1 309.4H134M133.1 313.7H243.1M133.1 309.4V313.7M127 311.5H133.1M127 313.7H237.6M127 311.5V313.7M121 312.6H127M121 314.2H241M121 312.6V314.2M111.5 313.4H121M163.1 316.6H209.5M163.1 316.6H167.9M163.1 316.6V316.6M157.9 316.6H163.1M157.9 316.8H171.3M157.9 316.6V316.8M156.4 316.7H157.9M156.4 317H207.5M156.4 316.7V317M154.4 316.8H156.4M154.4 317H209.8M154.4 316.8V317M203.8 317.6H212.8M203.8 317.8H216.1M203.8 317.6V317.8M202.7 317.3H214.3M202.7 317.7H203.8M202.7 317.3V317.7M200.4 317.5H202.7M200.4 318.5H216.7M200.4 317.5V318.5M193.3 317.1H204.4M193.3 318H200.4M193.3 317.1V318M204.9 318.7H212.6M204.9 318.8H207.9M204.9 318.7V318.8M203.1 318.7H204.9M203.1 318.9H204.3M203.1 318.7V318.9M202.8 318.8H203.1M202.8 318.9H207M202.8 318.8V318.9M202.5 318.9H202.8M202.5 319.1H204.4M202.5 318.9V319.1M204.9 319.4H205.1M204.9 319.4H233.6M204.9 319.4V319.4M204.6 319.4H204.9M204.6 319.4H207.4M204.6 319.4V319.4M204.1 319.4H204.6M204.1 319.5H206.7M204.1 319.4V319.5M203.9 319.4H204.1M203.9 319.6H209.5M203.9 319.4V319.6M202.9 319.5H203.9M202.9 319.8H209M202.9 319.5V319.8M201 319H202.5M201 319.7H202.9M201 319V319.7M197.9 319.3H201M197.9 320H205.7M197.9 319.3V320M194.8 318.6H209.1M194.8 319.7H197.9M194.8 318.6V319.7M186.8 317.6H193.3M186.8 319.1H194.8M186.8 317.6V319.1M180.8 318.3H186.8M180.8 320H212.6M180.8 318.3V320M169.1 319.2H180.8M169.1 320.2H211.9M169.1 319.2V320.2M152.2 316.9H154.4M152.2 319.7H169.1M152.2 316.9V319.7M144.1 318.3H152.2M144.1 321H152.3M144.1 318.3V321M150.9 322H154.6M150.9 322.1H215.8M150.9 322V322.1M148.5 321.6H151.6M148.5 322H150.9M148.5 321.6V322M146.5 321.2H210.5M146.5 321.8H148.5M146.5 321.2V321.8M143.1 319.7H144.1M143.1 321.5H146.5M143.1 319.7V321.5M151 323.1H155.3M151 323.4H153.2M151 323.1V323.4M150.6 323.3H151M150.6 323.9H200.7M150.6 323.3V323.9M147.5 323.6H150.6M147.5 324H199.7M147.5 323.6V324M143.6 323.8H147.5M143.6 326.6H214.9M143.6 323.8V326.6M140.1 320.6H143.1M140.1 325.2H143.6M140.1 320.6V325.2M134.1 322.9H140.1M134.1 326.6H236.3M134.1 322.9V326.6M132.4 324.7H134.1M132.4 329H171.7M132.4 324.7V329M125.1 316H167.7M125.1 326.9H132.4M125.1 316V326.9M106.3 321.4H125.1M126.2 333H144.5M126.2 336H147.5M126.2 333V336M111.5 334.5H126.2M111.5 337H140.5M111.5 334.5V337M98.9 335.8H111.5M98.9 339H99.5M98.9 335.8V339M98.3 337.4H98.9M98.3 340H112.5M98.3 337.4V340M97.2 338.7H98.3M97.2 340.2H130.6M97.2 338.7V340.2M100.7 340.7H124.3M100.7 340.8H106.5M100.7 340.7V340.8M95.5 340.8H100.7M95.5 341H95.5M95.5 340.8V341M95.5 340.9H95.5M95.5 341H104.5M95.5 340.9V341M95.5 340.9H95.5M95.5 341.1H112.9M95.5 340.9V341.1M103.8 341.7H122.6M103.8 342.3H105.5M103.8 341.7V342.3M103.6 341.6H127.8M103.6 342H103.8M103.6 341.6V342M103.4 341.8H103.6M103.4 342.3H105.2M103.4 341.8V342.3M103 341.3H125.7M103 342.1H103.4M103 341.3V342.1M100.9 341.2H111.1M100.9 341.7H103M100.9 341.2V341.7M95.5 341H95.5M95.5 341.5H100.9M95.5 341V341.5M95.5 341.2H95.5M95.5 342.9H102.1M95.5 341.2V342.9M95.5 342.1H95.5M95.5 343H118.5M95.5 342.1V343M95.4 342.5H95.5M95.4 343.2H107.4M95.4 342.5V343.2M95.4 342.9H95.4M95.4 343.3H127M95.4 342.9V343.3M104.9 343.5H128.4M104.9 343.6H123M104.9 343.5V343.6M95.3 343.1H95.4M95.3 343.5H104.9M95.3 343.1V343.5M95.3 343.3H95.3M95.3 343.6H124M95.3 343.3V343.6M95.2 343.5H95.3M95.2 343.7H113.9M95.2 343.5V343.7M95.2 343.6H95.2M95.2 343.8H126.3M95.2 343.6V343.8M95 339.4H97.2M95 343.7H95.2M95 339.4V343.7M95 341.6H95M95 344.3H128M95 341.6V344.3M94.8 331H142.5M94.8 342.9H95M94.8 331V342.9M94.7 337H94.8M94.7 344.6H122.6M94.7 337V344.6M94.5 340.8H94.7M94.5 344.6H128.2M94.5 340.8V344.6M93.9 342.7H94.5M93.9 344.8H123.3M93.9 342.7V344.8M93.3 343.8H93.9M93.3 345H122.4M93.3 343.8V345M91.6 344.4H93.3M91.6 345H118.3M91.6 344.4V345M89.8 330H146.5M89.8 344.7H91.6M89.8 330V344.7M87.1 337.3H89.8M87.1 345H123.1M87.1 337.3V345M83.7 341.2H87.1M92.5 345H93.5M92.5 346H119.5M92.5 345V346M92.2 345.5H92.5M92.2 348H117.5M92.2 345.5V348M108.7 349.5H165.3M108.7 351H120.5M108.7 349.5V351M99.6 350.2H108.7M99.6 352H137.5M99.6 350.2V352M94.4 355.5H95M94.4 356H95.2M94.4 355.5V356M94.1 354H117.5M94.1 355.8H94.4M94.1 354V355.8M93.3 354.9H94.1M93.3 356H95.2M93.3 354.9V356M91.7 351.1H99.6M91.7 355.5H93.3M91.7 351.1V355.5M91.4 346.8H92.2M91.4 353.3H91.7M91.4 346.8V353.3M90.5 350H91.4M90.5 356.2H100M90.5 350V356.2M89.9 353.1H90.5M89.9 356.3H106.1M89.9 353.1V356.3M88.1 354.7H89.9M88.1 356.4H104.3M88.1 354.7V356.4M84.9 355.6H88.1M84.9 357.3H103.2M84.9 355.6V357.3M83 356.4H84.9M83 357.4H106.6M83 356.4V357.4M94.5 357.6H96M94.5 357.9H98.2M94.5 357.6V357.9M92.8 357.8H94.5M92.8 358H118.5M92.8 357.8V358M91.4 357.9H92.8M91.4 358.4H95.6M91.4 357.9V358.4M88.6 358.1H91.4M88.6 358.9H135.7M88.6 358.1V358.9M93.5 359.1H95.5M93.5 359.2H137.2M93.5 359.1V359.2M93.2 359.2H93.5M93.2 359.2H136M93.2 359.2V359.2M90.3 359.2H93.2M90.3 359.3H96.3M90.3 359.2V359.3M85.1 358.5H88.6M85.1 359.3H90.3M85.1 358.5V359.3M82.8 358.9H85.1M82.8 359.5H143.9M82.8 358.9V359.5M76.4 356.9H83M76.4 359.2H82.8M76.4 356.9V359.2M72.4 358.1H76.4M72.4 359.7H140.4M72.4 358.1V359.7M106.1 360H140.5M106.1 360H147.5M106.1 360V360M94.3 360H106.1M94.3 360.2H141M94.3 360V360.2M90.8 360.4H91.3M90.8 360.4H92.8M90.8 360.4V360.4M109.4 360.6H141.1M109.4 362H144.5M109.4 360.6V362M97.7 361.3H109.4M97.7 363.4H105.4M97.7 361.3V363.4M92.1 362.3H97.7M92.1 364H101.8M92.1 362.3V364M90.7 360.4H90.8M90.7 363.2H92.1M90.7 360.4V363.2M90.5 361.8H90.7M90.5 364.5H133.2M90.5 361.8V364.5M90.2 363.1H90.5M90.2 364.9H141.1M90.2 363.1V364.9M89.8 364H90.2M89.8 365.4H133.5M89.8 364V365.4M88.9 364.7H89.8M88.9 365.6H140.1M88.9 364.7V365.6M97.6 365.9H137M97.6 366H117.5M97.6 365.9V366M86.3 365.2H88.9M86.3 365.9H97.6M86.3 365.2V365.9M82.8 365.5H86.3M82.8 366H143.6M82.8 365.5V366M79.7 360.1H94.3M79.7 365.8H82.8M79.7 360.1V365.8M76.4 362.9H79.7M76.4 366.4H141.1M76.4 362.9V366.4M68.6 358.9H72.4M68.6 364.7H76.4M68.6 358.9V364.7M66.5 361.8H68.6M65.2 369H76.5M65.2 369.7H65.8M65.2 369V369.7M64.7 368.5H96.7M64.7 369.4H65.2M64.7 368.5V369.4M65.7 369.8H70M65.7 370H81.3M65.7 369.8V370M63.9 368.9H64.7M63.9 369.9H65.7M63.9 368.9V369.9M62.7 369.4H63.9M62.7 370.2H74.5M62.7 369.4V370.2M62.6 370.3H63.1M62.6 370.3H65.2M62.6 370.3V370.3M62.1 370.3H62.6M62.1 370.3H75.2M62.1 370.3V370.3M61.7 369.8H62.7M61.7 370.3H62.1M61.7 369.8V370.3M61.3 370.1H61.7M61.3 370.4H62.3M61.3 370.1V370.4M60.3 370.2H61.3M60.3 370.8H76.8M60.3 370.2V370.8M70.5 370.9H71.7M70.5 371H79.5M70.5 370.9V371M70.2 370.9H70.5M70.2 371H83.5M70.2 370.9V371M68.6 371H70.2M68.6 371.1H69.1M68.6 371V371.1M68.2 371H68.6M68.2 371.2H79.9M68.2 371V371.2M67.1 371.1H68.2M67.1 371.3H68.5M67.1 371.1V371.3M66.2 371.2H67.1M66.2 371.3H82.2M66.2 371.2V371.3M64.6 371.3H66.2M64.6 371.4H76.6M64.6 371.3V371.4M63.9 371.3H64.6M63.9 371.4H78.8M63.9 371.3V371.4M61.9 371.4H63.9M61.9 371.5H64.1M61.9 371.4V371.5M59.8 370.5H60.3M59.8 371.5H61.9M59.8 370.5V371.5M62.1 371.7H65.4M62.1 371.8H69.4M62.1 371.7V371.8M60.5 371.7H62.1M60.5 374.2H70.7M60.5 371.7V374.2M59.5 371H59.8M59.5 373H60.5M59.5 371V373M58.6 368H113.5M58.6 372H59.5M58.6 368V372M57.2 370H58.6M57.2 374.2H82.7M57.2 370V374.2M55.7 372.1H57.2M55.7 374.9H67.1M55.7 372.1V374.9M53.6 373.5H55.7M53.6 375H64.6M53.6 373.5V375M51.2 374.2H53.6M51.2 375H71.8M51.2 374.2V375M49.9 374.6H51.2M49.9 375H76.5M49.9 374.6V375M46.1 374.8H49.9M46.1 375H85M46.1 374.8V375M36.6 374.9H46.1M97.1 375H169.5M97.1 376H142.5M97.1 375V376M87.3 378H122.2M87.3 378.7H110.5M87.3 378V378.7M82.1 378.4H87.3M82.1 379.4H117.1M82.1 378.4V379.4M73.2 378.9H82.1M73.2 381.7H75.3M73.2 378.9V381.7M71.7 377.2H101M71.7 380.3H73.2M71.7 377.2V380.3M77.5 381.8H86.1M77.5 382H83.7M77.5 381.8V382M78 382.3H93.7M78 382.4H79.2M78 382.3V382.4M76.2 382.4H78M76.2 382.9H78M76.2 382.4V382.9M76.1 382.7H76.2M76.1 383H93.5M76.1 382.7V383M75.6 383.7H80.8M75.6 384H81.1M75.6 383.7V384M74.6 382.8H76.1M74.6 383.8H75.6M74.6 382.8V383.8M73.7 383.3H74.6M73.7 386H106.1M73.7 383.3V386M73 381.9H77.5M73 384.7H73.7M73 381.9V384.7M67.4 378.7H71.7M67.4 383.3H73M67.4 378.7V383.3M62.2 381H67.4M62.2 386.7H62.3M62.2 381V386.7M62 383.9H62.2M62 388.1H122.6M62 383.9V388.1M61.8 375.5H97.1M61.8 386H62M61.8 375.5V386M61.6 380.7H61.8M61.6 388.3H133.5M61.6 380.7V388.3M61.4 384.5H61.6M61.4 388.4H121.8M61.4 384.5V388.4M60.8 375H161.5M60.8 386.5H61.4M60.8 375V386.5M58.8 389H58.7M58.8 389.3H136.9M58.8 389V389.3M58.8 389.1H58.8M58.8 389.4H123.5M58.8 389.1V389.4M58.9 389H119.9M58.9 389.3H58.8M58.9 389V389.3M59.1 388.9H134.5M59.1 389.1H58.9M59.1 388.9V389.1M59.5 380.7H60.8M59.5 389H59.1M59.5 380.7V389M59.8 375H79.5M59.8 384.9H59.5M59.8 375V384.9M60.5 379.9H59.8M60.5 389.6H120.7M60.5 379.9V389.6M61 384.8H60.5M61 389.9H119.3M61 384.8V389.9M62 387.3H61M62 390H117.6M62 387.3V390M98.8 390H118.7M98.8 390H132.5M98.8 390V390M89.1 390H98.8M89.1 390H137.1M89.1 390V390M62.4 388.6H62M62.4 390H89.1M62.4 388.6V390M64.3 389.3H62.4M48.5 390.6H57.5M48.5 390.8H48.7M48.5 390.6V390.8M48.3 390.7H48.5M48.3 391H52.1M48.3 390.7V391M48.1 390.8H48.3M48.1 391H52.9M48.1 390.8V391M47.5 390.9H48.1M47.5 391H93.5M47.5 390.9V391M47.3 391H47.5M47.3 391.9H47.9M47.3 391V391.9M49 391.9H51.4M49 393.3H58M49 391.9V393.3M47.8 392.6H49M47.8 394H97.5M47.8 392.6V394M47.2 391.4H47.3M47.2 393.3H47.8M47.2 391.4V393.3M46.9 392.4H47.2M46.9 395H89.5M46.9 392.4V395M46.1 393.7H46.9M46.1 395.1H68.4M46.1 393.7V395.1M67.4 396.8H70.7M67.4 397.6H99.2M67.4 396.8V397.6M67 397.2H67.4M67 397.8H92.9M67 397.2V397.8M66.3 397.5H67M66.3 398H102M66.3 397.5V398M63.6 395.9H73.8M63.6 397.7H66.3M63.6 395.9V397.7M62.6 396.8H63.6M62.6 398H94.5M62.6 396.8V398M61.8 397.4H62.6M61.8 398.1H100M61.8 397.4V398.1M54.5 395.3H72.2M54.5 397.8H61.8M54.5 395.3V397.8M45.9 394.4H46.1M45.9 396.5H54.5M45.9 394.4V396.5M45.5 390.5H46.6M45.5 395.5H45.9M45.5 390.5V395.5M44.5 393H45.5M44.5 398.1H89M44.5 393V398.1M43.6 395.6H44.5M43.6 398.1H93.3M43.6 395.6V398.1M42.3 396.8H43.6M42.3 398.6H101M42.3 396.8V398.6M41.5 397.7H42.3M41.5 398.8H97.3M41.5 397.7V398.8M39.7 398.3H41.5M39.7 399.1H104M39.7 398.3V399.1M92.1 399.1H100.2M92.1 399.2H96.6M92.1 399.1V399.2M89.3 399.2H92.1M89.3 399.4H95.3M89.3 399.2V399.4M81.8 399.3H89.3M81.8 399.4H93.7M81.8 399.3V399.4M83.8 399.8H103.3M83.8 400H105.7M83.8 399.8V400M79.3 399.4H81.8M79.3 399.9H83.8M79.3 399.4V399.9M69.1 399.6H79.3M69.1 400H99.5M69.1 399.6V400M66.5 399.8H69.1M66.5 400.1H99.1M66.5 399.8V400.1M61.9 399.9H66.5M61.9 400.1H106.1M61.9 399.9V400.1M58.3 400H61.9M58.3 401H91.5M58.3 400V401M41 400.5H58.3M41 402H53.6M41 400.5V402M35.6 398.7H39.7M35.6 401.3H41M35.6 398.7V401.3M27.3 390H52.2M27.3 400H35.6M27.3 390V400M26 395H27.3" stroke="#a2a2a2" stroke-width="0.85" fill="none"/>
<path d="M26 352.4V403M26 352.4H49M26 373.3H36.6M26 395.5H50.4M26 402.5H52M49 341.5V363.4M49 341.5H72.8M49 363.4H66.5M66.5 354.6V367.7M72.8 338.5V344M72.8 338.5H83.7M83.7 330.2V342.4M83.7 330.2H97M97 326.5V333M97 326.5H101.3M101.3 316.7V331.5M101.3 316.7H106.3M106.3 307.3V326.8M106.3 310H111.5M111.5 245.8V313.5M111.5 245.8H136.2M136.2 235V256M136.2 235H149.9M149.9 201.4V253M149.9 201.4H168.1M168.1 174.8V219.7M168.1 174.8H183.5M183.5 150V198M183.5 151H199.2M199.2 148.4V153.4M199.2 148.4H205.4M205.4 136.4V148.4M205.4 136.4H216.4M216.4 130.9V142.6M216.4 130.9H234.3M234.3 120V141.8M234.3 120H241.8M241.8 106.7V134.2M241.8 106.7H250.1M251 66V118.4M251 66H256M64.3 378.7V386.7M26 386H64.3M256 63.7V63.7M251 102.2V102.2M242 114.5V114.5M234.3 125.3V138.8M205.4 149.2V149.2M199.2 154.3V154.3M183.5 193.8V193.8M168.1 208.8V208.8M149.9 250.6V250.6M136.2 259.3V259.3M111.5 313.4V313.4M106.3 321.4V321.4M83.7 341.2V341.2M66.5 361.8V361.8M36.6 374.9V374.9M64.3 389.3V389.3M26 395V395" stroke="#8f8f8f" stroke-width="1" fill="none"/>
<circle cx="287.4" cy="30" r="4.6" fill="#E4E1E5" stroke="#111" stroke-width="0.8"/>
<circle cx="288.5" cy="48" r="4.6" fill="#E4E1E5" stroke="#111" stroke-width="0.8"/>
<circle cx="286" cy="27" r="4.6" fill="#E4E1E5" stroke="#111" stroke-width="0.8"/>
<circle cx="278.7" cy="11" r="4.6" fill="#9DB0C4" stroke="#111" stroke-width="0.8"/>
<circle cx="280.9" cy="12.7" r="4.6" fill="#9DB0C4" stroke="#111" stroke-width="0.8"/>
<circle cx="280.9" cy="14.4" r="4.6" fill="#9DB0C4" stroke="#111" stroke-width="0.8"/>
<circle cx="280.5" cy="16.1" r="4.6" fill="#9DB0C4" stroke="#111" stroke-width="0.8"/>
<circle cx="279.6" cy="17.8" r="4.6" fill="#9DB0C4" stroke="#111" stroke-width="0.8"/>
<circle cx="282.1" cy="19.5" r="4.6" fill="#9DB0C4" stroke="#111" stroke-width="0.8"/>
<circle cx="282.5" cy="21.2" r="4.6" fill="#9DB0C4" stroke="#111" stroke-width="0.8"/>
<circle cx="281.8" cy="22.9" r="4.6" fill="#9DB0C4" stroke="#111" stroke-width="0.8"/>
<circle cx="282.2" cy="24.6" r="4.6" fill="#9DB0C4" stroke="#111" stroke-width="0.8"/>
<circle cx="281.5" cy="26.3" r="4.6" fill="#9DB0C4" stroke="#111" stroke-width="0.8"/>
<circle cx="281" cy="28" r="4.6" fill="#9DB0C4" stroke="#111" stroke-width="0.8"/>
<circle cx="282.9" cy="29.7" r="4.6" fill="#9DB0C4" stroke="#111" stroke-width="0.8"/>
<circle cx="284.2" cy="31.4" r="4.6" fill="#9DB0C4" stroke="#111" stroke-width="0.8"/>
<circle cx="282.6" cy="33.1" r="4.6" fill="#9DB0C4" stroke="#111" stroke-width="0.8"/>
<circle cx="285.9" cy="34.8" r="4.6" fill="#9DB0C4" stroke="#111" stroke-width="0.8"/>
<circle cx="283.9" cy="36.5" r="4.6" fill="#9DB0C4" stroke="#111" stroke-width="0.8"/>
<circle cx="283.9" cy="38.2" r="4.6" fill="#9DB0C4" stroke="#111" stroke-width="0.8"/>
<circle cx="283.2" cy="39.9" r="4.6" fill="#9DB0C4" stroke="#111" stroke-width="0.8"/>
<circle cx="287" cy="41.6" r="4.6" fill="#9DB0C4" stroke="#111" stroke-width="0.8"/>
<circle cx="286" cy="43.3" r="4.6" fill="#9DB0C4" stroke="#111" stroke-width="0.8"/>
<circle cx="285.8" cy="45" r="4.6" fill="#9DB0C4" stroke="#111" stroke-width="0.8"/>
<circle cx="283.7" cy="46.7" r="4.6" fill="#9DB0C4" stroke="#111" stroke-width="0.8"/>
<circle cx="280.2" cy="48.4" r="4.6" fill="#9DB0C4" stroke="#111" stroke-width="0.8"/>
<circle cx="280.3" cy="50.1" r="4.6" fill="#9DB0C4" stroke="#111" stroke-width="0.8"/>
<circle cx="281.6" cy="51.8" r="4.6" fill="#9DB0C4" stroke="#111" stroke-width="0.8"/>
<circle cx="280.6" cy="53.5" r="4.6" fill="#9DB0C4" stroke="#111" stroke-width="0.8"/>
<circle cx="284.5" cy="55.2" r="4.6" fill="#9DB0C4" stroke="#111" stroke-width="0.8"/>
<circle cx="282.7" cy="56.9" r="4.6" fill="#9DB0C4" stroke="#111" stroke-width="0.8"/>
<circle cx="282.4" cy="58.6" r="4.6" fill="#9DB0C4" stroke="#111" stroke-width="0.8"/>
<circle cx="286.1" cy="60.3" r="4.6" fill="#9DB0C4" stroke="#111" stroke-width="0.8"/>
<circle cx="282.5" cy="62" r="4.6" fill="#9DB0C4" stroke="#111" stroke-width="0.8"/>
<circle cx="287.9" cy="63.7" r="4.6" fill="#9DB0C4" stroke="#111" stroke-width="0.8"/>
<circle cx="285.7" cy="65.4" r="4.6" fill="#9DB0C4" stroke="#111" stroke-width="0.8"/>
<circle cx="288.3" cy="66.2" r="4.6" fill="#9DB0C4" stroke="#111" stroke-width="0.8"/>
<circle cx="285.8" cy="67.1" r="4.6" fill="#9DB0C4" stroke="#111" stroke-width="0.8"/>
<circle cx="288.7" cy="67.9" r="4.6" fill="#9DB0C4" stroke="#111" stroke-width="0.8"/>
<circle cx="285.6" cy="68.8" r="4.6" fill="#9DB0C4" stroke="#111" stroke-width="0.8"/>
<circle cx="286.7" cy="69.6" r="4.6" fill="#9DB0C4" stroke="#111" stroke-width="0.8"/>
<circle cx="290.3" cy="70.5" r="4.6" fill="#9DB0C4" stroke="#111" stroke-width="0.8"/>
<circle cx="288.5" cy="71.3" r="4.6" fill="#9DB0C4" stroke="#111" stroke-width="0.8"/>
<circle cx="290.2" cy="72.2" r="4.6" fill="#9DB0C4" stroke="#111" stroke-width="0.8"/>
<circle cx="288.8" cy="73" r="4.6" fill="#9DB0C4" stroke="#111" stroke-width="0.8"/>
<circle cx="291.8" cy="73.9" r="4.6" fill="#9DB0C4" stroke="#111" stroke-width="0.8"/>
<circle cx="293.3" cy="74.7" r="4.6" fill="#9DB0C4" stroke="#111" stroke-width="0.8"/>
<circle cx="290.9" cy="75.6" r="4.6" fill="#9DB0C4" stroke="#111" stroke-width="0.8"/>
<circle cx="293" cy="76.4" r="4.6" fill="#9DB0C4" stroke="#111" stroke-width="0.8"/>
<circle cx="290.3" cy="77.3" r="4.6" fill="#9DB0C4" stroke="#111" stroke-width="0.8"/>
<circle cx="293.2" cy="78.1" r="4.6" fill="#9DB0C4" stroke="#111" stroke-width="0.8"/>
<circle cx="287.9" cy="79" r="4.6" fill="#9DB0C4" stroke="#111" stroke-width="0.8"/>
<circle cx="292" cy="79.8" r="4.6" fill="#9DB0C4" stroke="#111" stroke-width="0.8"/>
<circle cx="292.3" cy="80.7" r="4.6" fill="#9DB0C4" stroke="#111" stroke-width="0.8"/>
<circle cx="290.5" cy="81.5" r="4.6" fill="#9DB0C4" stroke="#111" stroke-width="0.8"/>
<circle cx="293.1" cy="82.4" r="4.6" fill="#9DB0C4" stroke="#111" stroke-width="0.8"/>
<circle cx="294.9" cy="83.2" r="4.6" fill="#9DB0C4" stroke="#111" stroke-width="0.8"/>
<circle cx="290.2" cy="84.1" r="4.6" fill="#9DB0C4" stroke="#111" stroke-width="0.8"/>
<circle cx="292" cy="84.9" r="4.6" fill="#9DB0C4" stroke="#111" stroke-width="0.8"/>
<circle cx="290.7" cy="85.8" r="4.6" fill="#9DB0C4" stroke="#111" stroke-width="0.8"/>
<circle cx="292.3" cy="86.6" r="4.6" fill="#9DB0C4" stroke="#111" stroke-width="0.8"/>
<circle cx="293" cy="87.5" r="4.6" fill="#9DB0C4" stroke="#111" stroke-width="0.8"/>
<circle cx="291.3" cy="88.3" r="4.6" fill="#9DB0C4" stroke="#111" stroke-width="0.8"/>
<circle cx="286" cy="89.2" r="4.6" fill="#9DB0C4" stroke="#111" stroke-width="0.8"/>
<circle cx="288.4" cy="90" r="4.6" fill="#9DB0C4" stroke="#111" stroke-width="0.8"/>
<circle cx="289" cy="90.9" r="4.6" fill="#9DB0C4" stroke="#111" stroke-width="0.8"/>
<circle cx="292.7" cy="91.7" r="4.6" fill="#9DB0C4" stroke="#111" stroke-width="0.8"/>
<circle cx="286.5" cy="92.6" r="4.6" fill="#9DB0C4" stroke="#111" stroke-width="0.8"/>
<circle cx="288.5" cy="93.4" r="4.6" fill="#9DB0C4" stroke="#111" stroke-width="0.8"/>
<circle cx="285.5" cy="94.3" r="4.6" fill="#9DB0C4" stroke="#111" stroke-width="0.8"/>
<circle cx="288.6" cy="95.1" r="4.6" fill="#9DB0C4" stroke="#111" stroke-width="0.8"/>
<circle cx="282.1" cy="96" r="4.6" fill="#9DB0C4" stroke="#111" stroke-width="0.8"/>
<circle cx="286.5" cy="96.8" r="4.6" fill="#9DB0C4" stroke="#111" stroke-width="0.8"/>
<circle cx="282.8" cy="97.7" r="4.6" fill="#9DB0C4" stroke="#111" stroke-width="0.8"/>
<circle cx="285.2" cy="98.5" r="4.6" fill="#9DB0C4" stroke="#111" stroke-width="0.8"/>
<circle cx="279.2" cy="99.4" r="4.6" fill="#9DB0C4" stroke="#111" stroke-width="0.8"/>
<circle cx="281.1" cy="100.2" r="4.6" fill="#9DB0C4" stroke="#111" stroke-width="0.8"/>
<circle cx="278.8" cy="101.1" r="4.6" fill="#9DB0C4" stroke="#111" stroke-width="0.8"/>
<circle cx="284.3" cy="101.9" r="4.6" fill="#9DB0C4" stroke="#111" stroke-width="0.8"/>
<circle cx="278.2" cy="102.8" r="4.6" fill="#9DB0C4" stroke="#111" stroke-width="0.8"/>
<circle cx="281.7" cy="103.6" r="4.6" fill="#9DB0C4" stroke="#111" stroke-width="0.8"/>
<circle cx="278.3" cy="104.5" r="4.6" fill="#9DB0C4" stroke="#111" stroke-width="0.8"/>
<circle cx="279" cy="105.3" r="4.6" fill="#9DB0C4" stroke="#111" stroke-width="0.8"/>
<circle cx="277.1" cy="106.2" r="4.6" fill="#9DB0C4" stroke="#111" stroke-width="0.8"/>
<circle cx="283.6" cy="107" r="4.6" fill="#9DB0C4" stroke="#111" stroke-width="0.8"/>
<circle cx="281.6" cy="107.9" r="4.6" fill="#9DB0C4" stroke="#111" stroke-width="0.8"/>
<circle cx="281.2" cy="108.7" r="4.6" fill="#9DB0C4" stroke="#111" stroke-width="0.8"/>
<circle cx="281.4" cy="109.6" r="4.6" fill="#9DB0C4" stroke="#111" stroke-width="0.8"/>
<circle cx="283.3" cy="110.4" r="4.6" fill="#9DB0C4" stroke="#111" stroke-width="0.8"/>
<circle cx="282.9" cy="111.3" r="4.6" fill="#9DB0C4" stroke="#111" stroke-width="0.8"/>
<circle cx="285.3" cy="112.1" r="4.6" fill="#9DB0C4" stroke="#111" stroke-width="0.8"/>
<circle cx="280.3" cy="113" r="4.6" fill="#9DB0C4" stroke="#111" stroke-width="0.8"/>
<circle cx="283.7" cy="114.7" r="4.6" fill="#9DB0C4" stroke="#111" stroke-width="0.8"/>
<circle cx="282.8" cy="116.4" r="4.6" fill="#9DB0C4" stroke="#111" stroke-width="0.8"/>
<circle cx="279.9" cy="118.1" r="4.6" fill="#9DB0C4" stroke="#111" stroke-width="0.8"/>
<circle cx="281.3" cy="119.8" r="4.6" fill="#9DB0C4" stroke="#111" stroke-width="0.8"/>
<circle cx="276" cy="101" r="4.6" fill="#9DB0C4" stroke="#111" stroke-width="0.8"/>
<circle cx="273" cy="106" r="4.6" fill="#9DB0C4" stroke="#111" stroke-width="0.8"/>
<circle cx="275" cy="112" r="4.6" fill="#9DB0C4" stroke="#111" stroke-width="0.8"/>
<circle cx="272" cy="116" r="4.6" fill="#9DB0C4" stroke="#111" stroke-width="0.8"/>
<circle cx="288" cy="112" r="4.6" fill="#9DB0C4" stroke="#111" stroke-width="0.8"/>
<circle cx="290" cy="116" r="4.6" fill="#9DB0C4" stroke="#111" stroke-width="0.8"/>
<circle cx="286" cy="108" r="4.6" fill="#9DB0C4" stroke="#111" stroke-width="0.8"/>
<circle cx="283.5" cy="14.7" r="4.75" fill="#AF5C60" fill-opacity="0.82"/>
<circle cx="279.4" cy="23.4" r="4.75" fill="#AF5C60" fill-opacity="0.82"/>
<circle cx="280" cy="26.5" r="4.75" fill="#AF5C60" fill-opacity="0.82"/>
<circle cx="282" cy="59.3" r="4.75" fill="#AF5C60" fill-opacity="0.82"/>
<circle cx="285.7" cy="122.6" r="4.75" fill="#AF5C60" fill-opacity="0.82"/>
<circle cx="303" cy="40" r="4.6" fill="#9DB0C4" stroke="#111" stroke-width="0.8"/>
<circle cx="306.5" cy="41" r="4.6" fill="#9DB0C4" stroke="#111" stroke-width="0.8"/>
<circle cx="302.5" cy="37.5" r="4.6" fill="#9DB0C4" stroke="#111" stroke-width="0.8"/>
<circle cx="305.4" cy="34.6" r="4.6" fill="#9DB0C4" stroke="#111" stroke-width="0.8"/>
<circle cx="301.4" cy="71.4" r="4.75" fill="#4D878C" fill-opacity="0.82"/>
<circle cx="277" cy="70" r="4.75" fill="#E4E1E5" fill-opacity="0.82"/>
<circle cx="276" cy="121" r="4.75" fill="#9DB0C4" fill-opacity="0.82"/>
<circle cx="280" cy="125" r="4.75" fill="#9DB0C4" fill-opacity="0.82"/>
<circle cx="275" cy="129" r="4.75" fill="#9DB0C4" fill-opacity="0.82"/>
<circle cx="281" cy="133" r="4.75" fill="#9DB0C4" fill-opacity="0.82"/>
<circle cx="277" cy="137" r="4.75" fill="#9DB0C4" fill-opacity="0.82"/>
<circle cx="283" cy="139" r="4.75" fill="#9DB0C4" fill-opacity="0.82"/>
<circle cx="272" cy="141" r="4.75" fill="#9DB0C4" fill-opacity="0.82"/>
<circle cx="278" cy="142" r="4.75" fill="#9DB0C4" fill-opacity="0.82"/>
<circle cx="288" cy="132.8" r="4.6" fill="#9DB0C4" stroke="#111" stroke-width="0.8"/>
<circle cx="291.5" cy="132" r="4.6" fill="#9DB0C4" stroke="#111" stroke-width="0.8"/>
<circle cx="263" cy="143.8" r="4.75" fill="#AF5C60" fill-opacity="0.82"/>
<circle cx="263" cy="148" r="4.75" fill="#AF5C60" fill-opacity="0.82"/>
<circle cx="270.4" cy="145" r="4.75" fill="#AF5C60" fill-opacity="0.82"/>
<circle cx="272.5" cy="147.4" r="4.75" fill="#AF5C60" fill-opacity="0.82"/>
<circle cx="255" cy="153.3" r="4.75" fill="#AF5C60" fill-opacity="0.82"/>
<circle cx="263.4" cy="150.8" r="4.75" fill="#AF5C60" fill-opacity="0.82"/>
<circle cx="233.3" cy="152.5" r="4.75" fill="#84AE8E" fill-opacity="0.82"/>
<circle cx="262" cy="152" r="4.75" fill="#84AE8E" fill-opacity="0.82"/>
<circle cx="306" cy="155" r="4.75" fill="#4D878C" fill-opacity="0.82"/>
<circle cx="304.3" cy="157.5" r="4.75" fill="#AF5C60" fill-opacity="0.82"/>
<circle cx="306.8" cy="160.9" r="4.75" fill="#84AE8E" fill-opacity="0.82"/>
<circle cx="284.3" cy="160" r="4.75" fill="#C8A9AE" fill-opacity="0.82"/>
<circle cx="280" cy="164.2" r="4.75" fill="#AF5C60" fill-opacity="0.82"/>
<circle cx="291.8" cy="168.4" r="4.75" fill="#AF5C60" fill-opacity="0.82"/>
<circle cx="298.4" cy="167.5" r="4.75" fill="#AF5C60" fill-opacity="0.82"/>
<circle cx="303.5" cy="165" r="4.75" fill="#AF5C60" fill-opacity="0.82"/>
<circle cx="310.1" cy="167.5" r="4.75" fill="#AF5C60" fill-opacity="0.82"/>
<circle cx="294.3" cy="171.7" r="4.75" fill="#AF5C60" fill-opacity="0.82"/>
<circle cx="300.1" cy="170" r="4.75" fill="#AF5C60" fill-opacity="0.82"/>
<circle cx="306" cy="170" r="4.75" fill="#AF5C60" fill-opacity="0.82"/>
<circle cx="239.2" cy="176.4" r="4.75" fill="#4E626C" fill-opacity="0.82"/>
<circle cx="256.7" cy="173.4" r="4.75" fill="#AF5C60" fill-opacity="0.82"/>
<circle cx="261.7" cy="171.7" r="4.75" fill="#AF5C60" fill-opacity="0.82"/>
<circle cx="265.9" cy="174.2" r="4.75" fill="#AF5C60" fill-opacity="0.82"/>
<circle cx="255" cy="178.4" r="4.75" fill="#AF5C60" fill-opacity="0.82"/>
<circle cx="260" cy="177" r="4.75" fill="#AF5C60" fill-opacity="0.82"/>
<circle cx="282.6" cy="180" r="4.75" fill="#C8A9AE" fill-opacity="0.82"/>
<circle cx="283.8" cy="185.4" r="4.75" fill="#AF5C60" fill-opacity="0.82"/>
<circle cx="265" cy="182.6" r="4.75" fill="#AF5C60" fill-opacity="0.82"/>
<circle cx="270" cy="182.6" r="4.75" fill="#AF5C60" fill-opacity="0.82"/>
<circle cx="260" cy="186.7" r="4.75" fill="#AF5C60" fill-opacity="0.82"/>
<circle cx="267.6" cy="190.9" r="4.75" fill="#AF5C60" fill-opacity="0.82"/>
<circle cx="255" cy="193.4" r="4.75" fill="#AF5C60" fill-opacity="0.82"/>
<circle cx="262.6" cy="193.4" r="4.75" fill="#AF5C60" fill-opacity="0.82"/>
<circle cx="258.4" cy="198.4" r="4.75" fill="#AF5C60" fill-opacity="0.82"/>
<circle cx="265.9" cy="198.4" r="4.75" fill="#AF5C60" fill-opacity="0.82"/>
<circle cx="255" cy="186" r="4.75" fill="#AF5C60" fill-opacity="0.82"/>
<circle cx="262" cy="189" r="4.75" fill="#AF5C60" fill-opacity="0.82"/>
<circle cx="288.4" cy="200" r="4.75" fill="#84AE8E" fill-opacity="0.82"/>
<circle cx="258.4" cy="205.1" r="4.75" fill="#E4E1E5" fill-opacity="0.82"/>
<circle cx="254.2" cy="204.3" r="4.75" fill="#C8A9AE" fill-opacity="0.82"/>
<circle cx="256.7" cy="211.8" r="4.75" fill="#AF5C60" fill-opacity="0.82"/>
<circle cx="262.6" cy="210.9" r="4.75" fill="#AF5C60" fill-opacity="0.82"/>
<circle cx="265.9" cy="210.4" r="4.75" fill="#4E626C" fill-opacity="0.82"/>
<circle cx="241.7" cy="209.3" r="4.75" fill="#4E626C" fill-opacity="0.82"/>
<circle cx="236.7" cy="214.3" r="4.75" fill="#4E626C" fill-opacity="0.82"/>
<circle cx="239.2" cy="219.3" r="4.75" fill="#4E626C" fill-opacity="0.82"/>
<circle cx="230.8" cy="214.5" r="4.75" fill="#C8A9AE" fill-opacity="0.82"/>
<circle cx="210" cy="216" r="4.75" fill="#4E626C" fill-opacity="0.82"/>
<circle cx="214" cy="219" r="4.75" fill="#4E626C" fill-opacity="0.82"/>
<circle cx="219" cy="216" r="4.75" fill="#4E626C" fill-opacity="0.82"/>
<circle cx="216" cy="214" r="4.75" fill="#4E626C" fill-opacity="0.82"/>
<circle cx="224.8" cy="220" r="4.75" fill="#84AE8E" fill-opacity="0.82"/>
<circle cx="303.7" cy="223.6" r="4.75" fill="#AF5C60" fill-opacity="0.82"/>
<circle cx="302.8" cy="226.2" r="4.75" fill="#AF5C60" fill-opacity="0.82"/>
<circle cx="279.6" cy="228" r="4.75" fill="#AF5C60" fill-opacity="0.82"/>
<circle cx="277.8" cy="232.5" r="4.75" fill="#AF5C60" fill-opacity="0.82"/>
<circle cx="285.8" cy="232.5" r="4.75" fill="#AF5C60" fill-opacity="0.82"/>
<circle cx="288.5" cy="230.7" r="4.75" fill="#AF5C60" fill-opacity="0.82"/>
<circle cx="292.1" cy="232.5" r="4.75" fill="#AF5C60" fill-opacity="0.82"/>
<circle cx="305.5" cy="234.3" r="4.75" fill="#4E626C" fill-opacity="0.82"/>
<circle cx="256" cy="226" r="4.75" fill="#AF5C60" fill-opacity="0.82"/>
<circle cx="262" cy="225" r="4.75" fill="#AF5C60" fill-opacity="0.82"/>
<circle cx="267" cy="229" r="4.75" fill="#AF5C60" fill-opacity="0.82"/>
<circle cx="258" cy="233" r="4.75" fill="#AF5C60" fill-opacity="0.82"/>
<circle cx="264" cy="236" r="4.75" fill="#AF5C60" fill-opacity="0.82"/>
<circle cx="256" cy="240" r="4.75" fill="#AF5C60" fill-opacity="0.82"/>
<circle cx="262" cy="242" r="4.75" fill="#AF5C60" fill-opacity="0.82"/>
<circle cx="268" cy="245" r="4.75" fill="#AF5C60" fill-opacity="0.82"/>
<circle cx="260" cy="224.3" r="4.75" fill="#AF5C60" fill-opacity="0.82"/>
<circle cx="266" cy="238" r="4.75" fill="#AF5C60" fill-opacity="0.82"/>
<circle cx="280.5" cy="242.8" r="4.75" fill="#4E626C" fill-opacity="0.82"/>
<circle cx="286.7" cy="245" r="4.75" fill="#4E626C" fill-opacity="0.82"/>
<circle cx="290.3" cy="245.8" r="4.75" fill="#4E626C" fill-opacity="0.82"/>
<circle cx="286.7" cy="250.3" r="4.75" fill="#4E626C" fill-opacity="0.82"/>
<circle cx="224.8" cy="253.5" r="4.75" fill="#4E626C" fill-opacity="0.82"/>
<circle cx="241.6" cy="246.8" r="4.75" fill="#4D878C" fill-opacity="0.82"/>
<circle cx="241.6" cy="249.5" r="4.75" fill="#AF5C60" fill-opacity="0.82"/>
<circle cx="264.5" cy="252.1" r="4.75" fill="#4E626C" fill-opacity="0.82"/>
<circle cx="266.2" cy="255.7" r="4.75" fill="#4E626C" fill-opacity="0.82"/>
<circle cx="241.2" cy="250.9" r="4.75" fill="#AF5C60" fill-opacity="0.82"/>
<circle cx="255.5" cy="252.7" r="4.75" fill="#AF5C60" fill-opacity="0.82"/>
<circle cx="286.4" cy="256.5" r="4.75" fill="#AF5C60" fill-opacity="0.82"/>
<circle cx="311.7" cy="256.5" r="4.75" fill="#C8A9AE" fill-opacity="0.82"/>
<circle cx="307.2" cy="261" r="4.75" fill="#4E626C" fill-opacity="0.82"/>
<circle cx="311.7" cy="262.8" r="4.75" fill="#4E626C" fill-opacity="0.82"/>
<circle cx="319.7" cy="261.9" r="4.75" fill="#4E626C" fill-opacity="0.82"/>
<circle cx="295.7" cy="262.8" r="4.75" fill="#AF5C60" fill-opacity="0.82"/>
<circle cx="295.3" cy="268.5" r="4.75" fill="#AF5C60" fill-opacity="0.82"/>
<circle cx="276.9" cy="270.8" r="4.75" fill="#4E626C" fill-opacity="0.82"/>
<circle cx="288.5" cy="269.9" r="4.75" fill="#4E626C" fill-opacity="0.82"/>
<circle cx="266.2" cy="272.6" r="4.75" fill="#AF5C60" fill-opacity="0.82"/>
<circle cx="263.6" cy="278.8" r="4.75" fill="#AF5C60" fill-opacity="0.82"/>
<circle cx="270.7" cy="277.9" r="4.75" fill="#4E626C" fill-opacity="0.82"/>
<circle cx="266.2" cy="284.2" r="4.75" fill="#4E626C" fill-opacity="0.82"/>
<circle cx="275.2" cy="284.2" r="4.75" fill="#4E626C" fill-opacity="0.82"/>
<circle cx="294.8" cy="282.4" r="4.75" fill="#4E626C" fill-opacity="0.82"/>
<circle cx="262.7" cy="263.7" r="4.75" fill="#4D878C" fill-opacity="0.82"/>
<circle cx="259.9" cy="259.8" r="4.75" fill="#AF5C60" fill-opacity="0.82"/>
<circle cx="259" cy="266" r="4.75" fill="#AF5C60" fill-opacity="0.82"/>
<circle cx="239.4" cy="267.8" r="4.75" fill="#AF5C60" fill-opacity="0.82"/>
<circle cx="243" cy="269.6" r="4.75" fill="#4E626C" fill-opacity="0.82"/>
<circle cx="257.2" cy="274.9" r="4.75" fill="#4E626C" fill-opacity="0.82"/>
<circle cx="239.4" cy="280.3" r="4.75" fill="#4E626C" fill-opacity="0.82"/>
<circle cx="225.2" cy="254.5" r="4.75" fill="#4E626C" fill-opacity="0.82"/>
<circle cx="222.5" cy="289.2" r="4.75" fill="#4E626C" fill-opacity="0.82"/>
<circle cx="227" cy="288.3" r="4.75" fill="#4E626C" fill-opacity="0.82"/>
<circle cx="217.2" cy="296.3" r="4.75" fill="#C8A9AE" fill-opacity="0.82"/>
<circle cx="219.8" cy="301.6" r="4.75" fill="#4E626C" fill-opacity="0.82"/>
<circle cx="225.2" cy="302.5" r="4.75" fill="#4E626C" fill-opacity="0.82"/>
<circle cx="227.9" cy="300.7" r="4.75" fill="#4E626C" fill-opacity="0.82"/>
<circle cx="238.5" cy="298.1" r="4.75" fill="#4E626C" fill-opacity="0.82"/>
<circle cx="236.8" cy="306.1" r="4.75" fill="#4E626C" fill-opacity="0.82"/>
<circle cx="256.3" cy="306.1" r="4.75" fill="#AF5C60" fill-opacity="0.82"/>
<circle cx="212.7" cy="311.4" r="4.75" fill="#4D878C" fill-opacity="0.82"/>
<circle cx="205.6" cy="319.4" r="4.75" fill="#AF5C60" fill-opacity="0.82"/>
<circle cx="201.2" cy="323.9" r="4.75" fill="#AF5C60" fill-opacity="0.82"/>
<circle cx="211" cy="321.2" r="4.75" fill="#AF5C60" fill-opacity="0.82"/>
<circle cx="217.2" cy="318.5" r="4.75" fill="#AF5C60" fill-opacity="0.82"/>
<circle cx="216.3" cy="322.1" r="4.75" fill="#AF5C60" fill-opacity="0.82"/>
<circle cx="208" cy="317" r="4.75" fill="#AF5C60" fill-opacity="0.82"/>
<circle cx="215.4" cy="326.6" r="4.75" fill="#4D878C" fill-opacity="0.82"/>
<circle cx="234.1" cy="319.4" r="4.75" fill="#AF5C60" fill-opacity="0.82"/>
<circle cx="236.8" cy="326.6" r="4.75" fill="#AF5C60" fill-opacity="0.82"/>
<circle cx="163" cy="285" r="4.75" fill="#AF5C60" fill-opacity="0.82"/>
<circle cx="168" cy="284" r="4.75" fill="#AF5C60" fill-opacity="0.82"/>
<circle cx="173" cy="287" r="4.75" fill="#AF5C60" fill-opacity="0.82"/>
<circle cx="165" cy="291" r="4.75" fill="#AF5C60" fill-opacity="0.82"/>
<circle cx="170" cy="293" r="4.75" fill="#AF5C60" fill-opacity="0.82"/>
<circle cx="176" cy="290" r="4.75" fill="#AF5C60" fill-opacity="0.82"/>
<circle cx="166" cy="297" r="4.75" fill="#AF5C60" fill-opacity="0.82"/>
<circle cx="172.7" cy="285.6" r="4.75" fill="#AF5C60" fill-opacity="0.82"/>
<circle cx="175.3" cy="291" r="4.75" fill="#AF5C60" fill-opacity="0.82"/>
<circle cx="182.5" cy="287.4" r="4.75" fill="#4E626C" fill-opacity="0.82"/>
<circle cx="177.1" cy="296.3" r="4.75" fill="#4E626C" fill-opacity="0.82"/>
<circle cx="176.5" cy="296.7" r="4.75" fill="#4E626C" fill-opacity="0.82"/>
<circle cx="171.8" cy="303.4" r="4.75" fill="#4E626C" fill-opacity="0.82"/>
<circle cx="169.3" cy="303.3" r="4.75" fill="#4E626C" fill-opacity="0.82"/>
<circle cx="170.9" cy="310.5" r="4.75" fill="#AF5C60" fill-opacity="0.82"/>
<circle cx="164.9" cy="308.6" r="4.75" fill="#AF5C60" fill-opacity="0.82"/>
<circle cx="168.4" cy="313" r="4.75" fill="#AF5C60" fill-opacity="0.82"/>
<circle cx="168.4" cy="316.6" r="4.75" fill="#4D878C" fill-opacity="0.82"/>
<circle cx="171.8" cy="316.8" r="4.75" fill="#4D878C" fill-opacity="0.82"/>
<circle cx="168.2" cy="316" r="4.75" fill="#AF5C60" fill-opacity="0.82"/>
<circle cx="200.2" cy="324" r="4.75" fill="#AF5C60" fill-opacity="0.82"/>
<circle cx="206.2" cy="320" r="4.75" fill="#AF5C60" fill-opacity="0.82"/>
<circle cx="143" cy="331" r="4.75" fill="#AF5C60" fill-opacity="0.82"/>
<circle cx="147" cy="330" r="4.75" fill="#AF5C60" fill-opacity="0.82"/>
<circle cx="141" cy="337" r="4.75" fill="#AF5C60" fill-opacity="0.82"/>
<circle cx="148" cy="336" r="4.75" fill="#AF5C60" fill-opacity="0.82"/>
<circle cx="145" cy="333" r="4.75" fill="#AF5C60" fill-opacity="0.82"/>
<circle cx="172.2" cy="329" r="4.75" fill="#AF5C60" fill-opacity="0.82"/>
<circle cx="96" cy="341" r="4.75" fill="#AF5C60" fill-opacity="0.82"/>
<circle cx="105" cy="341" r="4.75" fill="#AF5C60" fill-opacity="0.82"/>
<circle cx="113" cy="340" r="4.75" fill="#AF5C60" fill-opacity="0.82"/>
<circle cx="119" cy="343" r="4.75" fill="#AF5C60" fill-opacity="0.82"/>
<circle cx="100" cy="339" r="4.75" fill="#AF5C60" fill-opacity="0.82"/>
<circle cx="94" cy="345" r="4.75" fill="#4E626C" fill-opacity="0.82"/>
<circle cx="118" cy="348" r="4.75" fill="#84AE8E" fill-opacity="0.82"/>
<circle cx="118" cy="354" r="4.75" fill="#84AE8E" fill-opacity="0.82"/>
<circle cx="119" cy="358" r="4.75" fill="#84AE8E" fill-opacity="0.82"/>
<circle cx="121" cy="351" r="4.75" fill="#84AE8E" fill-opacity="0.82"/>
<circle cx="120" cy="346" r="4.75" fill="#84AE8E" fill-opacity="0.82"/>
<circle cx="138" cy="352" r="4.75" fill="#84AE8E" fill-opacity="0.82"/>
<circle cx="165.8" cy="349.5" r="4.75" fill="#4D878C" fill-opacity="0.82"/>
<circle cx="141" cy="360" r="4.75" fill="#C8A9AE" fill-opacity="0.82"/>
<circle cx="148" cy="360" r="4.75" fill="#C8A9AE" fill-opacity="0.82"/>
<circle cx="145" cy="362" r="4.75" fill="#C8A9AE" fill-opacity="0.82"/>
<circle cx="118" cy="366" r="4.75" fill="#C8A9AE" fill-opacity="0.82"/>
<circle cx="114" cy="368" r="4.75" fill="#C8A9AE" fill-opacity="0.82"/>
<circle cx="97.2" cy="368.5" r="4.75" fill="#4E626C" fill-opacity="0.82"/>
<circle cx="102.3" cy="364" r="4.75" fill="#4E626C" fill-opacity="0.82"/>
<circle cx="105.9" cy="363.4" r="4.75" fill="#84AE8E" fill-opacity="0.82"/>
<circle cx="80" cy="371" r="4.75" fill="#4E626C" fill-opacity="0.82"/>
<circle cx="84" cy="371" r="4.75" fill="#4E626C" fill-opacity="0.82"/>
<circle cx="80" cy="375" r="4.75" fill="#4E626C" fill-opacity="0.82"/>
<circle cx="77" cy="369" r="4.75" fill="#4E626C" fill-opacity="0.82"/>
<circle cx="143" cy="376" r="4.75" fill="#AF5C60" fill-opacity="0.82"/>
<circle cx="162" cy="375" r="4.75" fill="#AF5C60" fill-opacity="0.82"/>
<circle cx="170" cy="375" r="4.75" fill="#AF5C60" fill-opacity="0.82"/>
<circle cx="122.7" cy="378" r="4.75" fill="#4D878C" fill-opacity="0.82"/>
<circle cx="117.6" cy="379.4" r="4.75" fill="#84AE8E" fill-opacity="0.82"/>
<circle cx="111" cy="378.7" r="4.75" fill="#4E626C" fill-opacity="0.82"/>
<circle cx="94.2" cy="382.3" r="4.75" fill="#4E626C" fill-opacity="0.82"/>
<circle cx="101.5" cy="377.2" r="4.75" fill="#4E626C" fill-opacity="0.82"/>
<circle cx="106.6" cy="386" r="4.75" fill="#4E626C" fill-opacity="0.82"/>
<circle cx="94" cy="383" r="4.75" fill="#4E626C" fill-opacity="0.82"/>
<circle cx="53.4" cy="391" r="4.75" fill="#4E626C" fill-opacity="0.82"/>
<circle cx="59.2" cy="389" r="4.75" fill="#4E626C" fill-opacity="0.82"/>
<circle cx="62.8" cy="386.7" r="4.75" fill="#4E626C" fill-opacity="0.82"/>
<circle cx="58.5" cy="393.3" r="4.75" fill="#4E626C" fill-opacity="0.82"/>
<circle cx="54.1" cy="402" r="4.75" fill="#4E626C" fill-opacity="0.82"/>
<circle cx="90" cy="395" r="4.75" fill="#4E626C" fill-opacity="0.82"/>
<circle cx="95" cy="398" r="4.75" fill="#4E626C" fill-opacity="0.82"/>
<circle cx="92" cy="401" r="4.75" fill="#4E626C" fill-opacity="0.82"/>
<circle cx="98" cy="394" r="4.75" fill="#4E626C" fill-opacity="0.82"/>
<circle cx="100" cy="400" r="4.75" fill="#4E626C" fill-opacity="0.82"/>
<circle cx="104.5" cy="399.1" r="4.75" fill="#4E626C" fill-opacity="0.82"/>
<circle cx="94" cy="391" r="4.75" fill="#84AE8E" fill-opacity="0.82"/>
<path d="M382.9 0.5H684.5" stroke="#2a2a2a" stroke-width="1.2" fill="none" stroke-dasharray="4.4 2.5"/>
<path d="M383.2 3.1V187.4" stroke="#444" stroke-width="1.2" fill="none" stroke-dasharray="3.6 3.3"/>
<path d="M385.4 187.4H684.5" stroke="#444" stroke-width="1.2" fill="none" stroke-dasharray="3.5 3.435"/>
<path d="M684.3 4V187.4" stroke="#2a2a2a" stroke-width="1.2" fill="none" stroke-dasharray="4 2.95"/>
<path d="M414.8 4.3V163.6" stroke="#555" stroke-width="0.9" fill="none"/>
<path d="M413.3 20.5H414.8" stroke="#444" stroke-width="0.8" fill="none"/>
<text x="410.8" y="23.4" font-size="8.1" textLength="18.4" lengthAdjust="spacingAndGlyphs" text-anchor="end" fill="#1a1a1a" stroke="#1a1a1a" stroke-width="0.25">2021</text>
<path d="M413.3 53.5H414.8" stroke="#444" stroke-width="0.8" fill="none"/>
<text x="410.8" y="56.4" font-size="8.1" textLength="18.4" lengthAdjust="spacingAndGlyphs" text-anchor="end" fill="#1a1a1a" stroke="#1a1a1a" stroke-width="0.25">2022</text>
<path d="M413.3 85.5H414.8" stroke="#444" stroke-width="0.8" fill="none"/>
<text x="410.8" y="88.4" font-size="8.1" textLength="18.4" lengthAdjust="spacingAndGlyphs" text-anchor="end" fill="#1a1a1a" stroke="#1a1a1a" stroke-width="0.25">2023</text>
<path d="M413.3 117.5H414.8" stroke="#444" stroke-width="0.8" fill="none"/>
<text x="410.8" y="120.4" font-size="8.1" textLength="18.4" lengthAdjust="spacingAndGlyphs" text-anchor="end" fill="#1a1a1a" stroke="#1a1a1a" stroke-width="0.25">2024</text>
<path d="M413.3 149.3H414.8" stroke="#444" stroke-width="0.8" fill="none"/>
<text x="410.8" y="152.2" font-size="8.1" textLength="18.4" lengthAdjust="spacingAndGlyphs" text-anchor="end" fill="#1a1a1a" stroke="#1a1a1a" stroke-width="0.25">2025</text>
<rect x="415.4" y="167.2" width="189.3" height="14.8" fill="#98A8B8"/>
<rect x="439.8" y="167.2" width="3.9" height="14.8" fill="#98BF9D"/>
<rect x="463.8" y="167.2" width="4.6" height="14.8" fill="#C49FA3"/>
<rect x="468.4" y="167.2" width="1.2" height="14.8" fill="#98BF9D"/>
<rect x="469.6" y="167.2" width="1.2" height="14.8" fill="#C49FA3"/>
<rect x="470.8" y="167.2" width="1.1" height="14.8" fill="#98BF9D"/>
<rect x="471.9" y="167.2" width="5.3" height="14.8" fill="#C49FA3"/>
<rect x="477.2" y="167.2" width="0.9" height="14.8" fill="#98BF9D"/>
<rect x="478.1" y="167.2" width="9" height="14.8" fill="#C49FA3"/>
<rect x="487.1" y="167.2" width="0.8" height="14.8" fill="#4E616B"/>
<rect x="487.9" y="167.2" width="1.6" height="14.8" fill="#C49FA3"/>
<rect x="489.5" y="167.2" width="0.5" height="14.8" fill="#98BF9D"/>
<rect x="492.4" y="167.2" width="1.7" height="14.8" fill="#C49FA3"/>
<rect x="494.1" y="167.2" width="0.6" height="14.8" fill="#98BF9D"/>
<rect x="494.7" y="167.2" width="1.3" height="14.8" fill="#C49FA3"/>
<rect x="497.6" y="167.2" width="3.3" height="14.8" fill="#C49FA3"/>
<rect x="500.9" y="167.2" width="1.4" height="14.8" fill="#98BF9D"/>
<rect x="502.3" y="167.2" width="1.7" height="14.8" fill="#C49FA3"/>
<rect x="504" y="167.2" width="2" height="14.8" fill="#98BF9D"/>
<rect x="506" y="167.2" width="1.3" height="14.8" fill="#C49FA3"/>
<rect x="507.3" y="167.2" width="1.4" height="14.8" fill="#98BF9D"/>
<rect x="508.7" y="167.2" width="1.8" height="14.8" fill="#C49FA3"/>
<rect x="510.5" y="167.2" width="0.6" height="14.8" fill="#98BF9D"/>
<rect x="511.1" y="167.2" width="1.7" height="14.8" fill="#C49FA3"/>
<rect x="512.8" y="167.2" width="0.6" height="14.8" fill="#98BF9D"/>
<rect x="515.1" y="167.2" width="1.8" height="14.8" fill="#C49FA3"/>
<rect x="516.9" y="167.2" width="5.8" height="14.8" fill="#C49FA3"/>
<rect x="522.7" y="167.2" width="2.1" height="14.8" fill="#98BF9D"/>
<rect x="529.2" y="167.2" width="0.8" height="14.8" fill="#C49FA3"/>
<rect x="530" y="167.2" width="1" height="14.8" fill="#98BF9D"/>
<text x="608.7" y="176.7" font-size="7.9" textLength="17" lengthAdjust="spacingAndGlyphs" fill="#111">Host</text>
<text x="609.1" y="10.7" font-size="6.8" textLength="25.7" lengthAdjust="spacingAndGlyphs" fill="#222">Location</text>
<circle cx="612" cy="16.7" r="2.1" fill="#AF5C60"/>
<text x="616.1" y="18.8" font-size="5.8" textLength="22.8" lengthAdjust="spacingAndGlyphs" fill="#111" stroke="#111" stroke-width="0.12">S&#227;o Paulo</text>
<circle cx="612" cy="23.9" r="2.1" fill="#4E626C"/>
<text x="616.1" y="26" font-size="5.8" textLength="30.4" lengthAdjust="spacingAndGlyphs" fill="#111" stroke="#111" stroke-width="0.12">Minas Gerais</text>
<circle cx="612" cy="31.1" r="2.1" fill="#9DB0C4"/>
<text x="616.1" y="33.2" font-size="5.8" textLength="13.4" lengthAdjust="spacingAndGlyphs" fill="#111" stroke="#111" stroke-width="0.12">SJdRP</text>
<circle cx="612" cy="38.5" r="2.1" fill="#E4E1E5"/>
<text x="616.1" y="40.6" font-size="5.8" textLength="18.1" lengthAdjust="spacingAndGlyphs" fill="#111" stroke="#111" stroke-width="0.12">RHD XV</text>
<circle cx="612" cy="45.9" r="2.1" fill="#4D878C"/>
<text x="616.1" y="48" font-size="5.8" textLength="15.8" lengthAdjust="spacingAndGlyphs" fill="#111" stroke="#111" stroke-width="0.12">Paran&#225;</text>
<circle cx="612" cy="53.6" r="2.1" fill="#84AE8E"/>
<text x="616.1" y="55.7" font-size="5.8" textLength="21.4" lengthAdjust="spacingAndGlyphs" fill="#111" stroke="#111" stroke-width="0.12">Tocantins</text>
<circle cx="612" cy="61.6" r="1.8" fill="none" stroke="#111" stroke-width="0.6"/>
<text x="616.1" y="63.7" font-size="5.8" textLength="59.4" lengthAdjust="spacingAndGlyphs" fill="#111" stroke="#111" stroke-width="0.12">Genomes from this study</text>
<text x="609.9" y="74" font-size="6.5" textLength="13.5" lengthAdjust="spacingAndGlyphs" fill="#222">Host</text>
<rect x="610.1" y="78.5" width="5" height="4.5" fill="#C49FA3"/>
<text x="616.8" y="82.8" font-size="5.8" textLength="35.2" lengthAdjust="spacingAndGlyphs" font-style="italic" fill="#111" stroke="#111" stroke-width="0.12">Aedes aegypti</text>
<rect x="610.1" y="85.4" width="5" height="4.5" fill="#4E616B"/>
<text x="616.8" y="89.7" font-size="5.8" textLength="41.2" lengthAdjust="spacingAndGlyphs" font-style="italic" fill="#111" stroke="#111" stroke-width="0.12">Aedes albopictus</text>
<rect x="610.1" y="92.7" width="5" height="4.5" fill="#98BF9D"/>
<text x="616.8" y="97" font-size="5.8" textLength="24.9" lengthAdjust="spacingAndGlyphs" font-style="italic" fill="#111" stroke="#111" stroke-width="0.12">Culex spp.</text>
<rect x="610.1" y="99.7" width="5" height="4.5" fill="#98A8B8"/>
<text x="616.8" y="104" font-size="5.8" textLength="17.3" lengthAdjust="spacingAndGlyphs" fill="#111" stroke="#111" stroke-width="0.12">Human</text>
<text x="459" y="66.3" font-size="5.4" textLength="16.5" lengthAdjust="spacingAndGlyphs" fill="#111" stroke="#111" stroke-width="0.15">99.1/98</text>
<text x="478" y="76.2" font-size="5.4" textLength="16.5" lengthAdjust="spacingAndGlyphs" fill="#111" stroke="#111" stroke-width="0.15">76.1/88</text>
<text x="533.9" y="85" font-size="5.4" textLength="16" lengthAdjust="spacingAndGlyphs" fill="#111" stroke="#111" stroke-width="0.15">97.5/87</text>
<path d="M416.9 52.2V94.2M417 52.2V90M416.9 52.2H417M416 52V87.5M417 52V52.2M416 52H417M415.8 51.8V52.7M416.5 51.8V52M415.8 51.8H416.5M416.1 51.6V51.8M417.6 51.6V86.7M416.1 51.6H417.6M415.7 51.4V96.4M416.9 51.4V51.6M415.7 51.4H416.9M418 51.4V94M418.3 51.4V96.5M418 51.4H418.3M416.3 51.2V51.4M418.1 51.2V51.4M416.3 51.2H418.1M415.5 51V91.1M417.2 51V51.2M415.5 51H417.2M415.3 50.8V94.7M416.4 50.8V51M415.3 50.8H416.4M415.2 50.6V88.4M415.8 50.6V50.8M415.2 50.6H415.8M421.6 54.7V92.4M422.5 54.7V94.5M421.6 54.7H422.5M423.4 56.9V88.7M424 56.9V95.8M423.4 56.9H424M422.5 54.7V106.6M423.7 54.7V56.9M422.5 54.7H423.7M422 54.5V54.7M423.1 54.5V54.7M422 54.5H423.1M424.7 58.9V101.6M424.7 58.9V93.5M424.7 58.9H424.7M424.4 58.7V94.5M424.7 58.7V58.9M424.4 58.7H424.7M422.6 54.3V54.5M424.6 54.3V58.7M422.6 54.3H424.6M426.1 61.2V87.4M426.2 61.2V94.2M426.1 61.2H426.2M425 59.5V93.5M426.2 59.5V61.2M425 59.5H426.2M424.8 59.3V92.3M425.6 59.3V59.5M424.8 59.3H425.6M423.6 54V54.3M425.2 54V59.3M423.6 54H425.2M421.5 53.6V87.8M424.4 53.6V54M421.5 53.6H424.4M421.2 53.4V89.9M422.9 53.4V53.6M421.2 53.4H422.9M421.1 53.2V89.4M422.1 53.2V53.4M421.1 53.2H422.1M421 53V95M421.6 53V53.2M421 53H421.6M428.3 63.8V96.1M428.5 63.8V95.3M428.3 63.8H428.5M427.7 63.2V86.6M428.4 63.2V63.8M427.7 63.2H428.4M427.4 63V96.6M428 63V63.2M427.4 63H428M427 62.8V95.5M427.7 62.8V63M427 62.8H427.7M421.3 52.8V53M427.4 52.8V62.8M421.3 52.8H427.4M428.5 64.8V94M428.8 64.8V87.8M428.5 64.8H428.8M424.3 52.6V52.8M428.6 52.6V64.8M424.3 52.6H428.6M429.4 67.6V95.5M429.7 67.6V91.3M429.4 67.6H429.7M429.3 67.4V87.5M429.5 67.4V67.6M429.3 67.4H429.5M429.3 66.6V96.4M429.4 66.6V67.4M429.3 66.6H429.4M426.5 52.4V52.6M429.4 52.4V66.6M426.5 52.4H429.4M420.7 52.2V91.3M427.9 52.2V52.4M420.7 52.2H427.9M420.4 52V92.6M424.3 52V52.2M420.4 52H424.3M420.2 51.8V96.6M422.4 51.8V52M420.2 51.8H422.4M420 51.6V96.1M421.3 51.6V51.8M420 51.6H421.3M419 51.4V92M420.7 51.4V51.6M419 51.4H420.7M432 72.2V94.3M432.6 72.2V86.3M432 72.2H432.6M432 72V93.1M432.3 72V72.2M432 72H432.3M431.7 71.2V96.4M432.1 71.2V72M431.7 71.2H432.1M431.6 71V114.5M431.9 71V71.2M431.6 71H431.9M431.2 70.7V87.2M431.8 70.7V71M431.2 70.7H431.8M431.1 69.4V89.3M431.5 69.4V70.7M431.1 69.4H431.5M431 68V106.1M431.3 68V69.4M431 68H431.3M430 66.5V94.8M431.1 66.5V68M430 66.5H431.1M419.8 51.2V51.4M430.6 51.2V66.5M419.8 51.2H430.6M418.8 51V88.4M425.2 51V51.2M418.8 51H425.2M418.7 50.8V96.4M422 50.8V51M418.7 50.8H422M418.5 50.6V94.3M420.3 50.6V50.8M418.5 50.6H420.3M415.5 50.4V50.6M419.4 50.4V50.6M415.5 50.4H419.4M415.2 50.2V86.5M417.5 50.2V50.4M415.2 50.2H417.5M415.1 50V93.5M416.3 50V50.2M415.1 50H416.3M415.7 49.8V50M432.7 49.8V95.6M415.7 49.8H432.7M415 47.7V95.6M424.2 47.7V49.8M415 47.7H424.2M421 45H419.6M419.6 45V47.7M434.4 110.6V116.6M434.4 110.6V113.6M434.4 110.6H434.4M434.8 112.3V123.8M435 112.3V116.4M434.8 112.3H435M434.4 109.1V110.6M434.9 109.1V112.3M434.4 109.1H434.9M434.2 108.6V109.8M434.6 108.6V109.1M434.2 108.6H434.6M434.4 107.8V108.6M435.6 107.8V118.3M434.4 107.8H435.6M434.2 106.9V112.6M435 106.9V107.8M434.2 106.9H435M436 107.7V112.5M436.1 107.7V109.9M436 107.7H436.1M434.6 106.3V106.9M436 106.3V107.7M434.6 106.3H436M434.1 105.7V108.7M435.3 105.7V106.3M434.1 105.7H435.3M434.7 104.6V105.7M436.8 104.6V116.9M434.7 104.6H436.8M433.7 104V119.2M435.8 104V104.6M433.7 104H435.8M433 103.7V118M434.7 103.7V104M433 103.7H434.7M432.1 100.8V108.6M433.9 100.8V103.7M432.1 100.8H433.9M437.8 104.1V113.1M438.1 104.1V123.6M437.8 104.1H438.1M437.6 97.8V109.4M437.9 97.8V104.1M437.6 97.8H437.9M433 96.7V100.8M437.8 96.7V97.8M433 96.7H437.8M432 93V94.3M435.4 93V96.7M432 93H435.4M431.8 92.7V115.5M433.7 92.7V93M431.8 92.7H433.7M439.1 100.6V119.6M439.1 100.6V116.2M439.1 100.6H439.1M439 98.9V123.4M439.1 98.9V100.6M439 98.9H439.1M443 107.6V133.7M443.4 107.6V108.5M443 107.6H443.4M442.1 107.3V121M443.2 107.3V107.6M442.1 107.3H443.2M442.7 107.1V107.3M443.4 107.1V109.7M442.7 107.1H443.4M442 106.1V111.5M443 106.1V107.1M442 106.1H443M441.8 105.6V123.2M442.5 105.6V106.1M441.8 105.6H442.5M441.8 104.9V105.4M442.1 104.9V105.6M441.8 104.9H442.1M441.6 104.5V105.1M442 104.5V104.9M441.6 104.5H442M445.2 108.4V109.7M445.4 108.4V112.3M445.2 108.4H445.4M445.2 107.5V122.8M445.3 107.5V108.4M445.2 107.5H445.3M445 107V112.5M445.2 107V107.5M445 107H445.2M444.8 105.4V106.4M445.1 105.4V107M444.8 105.4H445.1M444.7 104.7V116.9M445 104.7V105.4M444.7 104.7H445M441.8 104.3V104.5M444.8 104.3V104.7M441.8 104.3H444.8M441.5 104.3V118.7M443.3 104.3V104.3M441.5 104.3H443.3M441.2 104V118.9M442.4 104V104.3M441.2 104H442.4M441 103.9V127.6M441.8 103.9V104M441 103.9H441.8M441.4 103.5V103.9M446.4 103.5V113.3M441.4 103.5H446.4M440.4 102.9V109.9M443.9 102.9V103.5M440.4 102.9H443.9M440.3 102.7V107.1M442.2 102.7V102.9M440.3 102.7H442.2M440 102.1V130.5M441.2 102.1V102.7M440 102.1H441.2M448.3 104.3V104.7M448.7 104.3V118.9M448.3 104.3H448.7M448.2 104.1V120.2M448.5 104.1V104.3M448.2 104.1H448.5M448 103.8V113.5M448.3 103.8V104.1M448 103.8H448.3M447.8 103.2V118.2M448.2 103.2V103.8M447.8 103.2H448.2M447.5 102.8V116.3M448 102.8V103.2M447.5 102.8H448M447.1 102.4V109.1M447.8 102.4V102.8M447.1 102.4H447.8M447 102.2V114M447.4 102.2V102.4M447 102.2H447.4M446.9 101.8V104.3M447.2 101.8V102.2M446.9 101.8H447.2M446.5 101.6V109.5M447.1 101.6V101.8M446.5 101.6H447.1M440.6 101.3V102.1M446.8 101.3V101.6M440.6 101.3H446.8M439.9 100.5V123.7M443.7 100.5V101.3M439.9 100.5H443.7M439.8 99.4V116M441.8 99.4V100.5M439.8 99.4H441.8M439.3 98.4V114.7M440.8 98.4V99.4M439.3 98.4H440.8M439.1 96.1V98.9M440 96.1V98.4M439.1 96.1H440M439 95.2V120.5M439.6 95.2V96.1M439 95.2H439.6M432.7 92.4V92.7M439.3 92.4V95.2M432.7 92.4H439.3M431.6 92.2V114.5M436 92.2V92.4M431.6 92.2H436M433.8 91.9V92.2M448.9 91.9V112.3M433.8 91.9H448.9M431.5 91.3V120.8M441.4 91.3V91.9M431.5 91.3H441.4M431.4 90.3V106.2M436.4 90.3V91.3M431.4 90.3H436.4M431 89.6V106.1M433.9 89.6V90.3M431 89.6H433.9M454.1 106.2V112.6M454.2 106.2V122.2M454.1 106.2H454.2M455.4 104V119.8M455.6 104V104.3M455.4 104H455.6M455 103.9V124.2M455.5 103.9V104M455 103.9H455.5M454.2 103.7V106.2M455.3 103.7V103.9M454.2 103.7H455.3M454 103.5V111M454.7 103.5V103.7M454 103.5H454.7M453.3 103.1V114.3M454.4 103.1V103.5M453.3 103.1H454.4M457 109.1V126.5M457.6 109.1V111.5M457 109.1H457.6M456.3 107.6V125.9M457.3 107.6V109.1M456.3 107.6H457.3M455.9 106.8V117.9M456.8 106.8V107.6M455.9 106.8H456.8M458.2 109.8V115.1M458.3 109.8V111.7M458.2 109.8H458.3M458.2 109.3V109.8M458.3 109.3V115.9M458.2 109.3H458.3M458.3 107.7V109.3M458.4 107.7V121.8M458.3 107.7H458.4M456.4 105.3V106.8M458.3 105.3V107.7M456.4 105.3H458.3M455.7 103.5V105.3M457.4 103.5V105.3M455.7 103.5H457.4M453.8 102.5V103.1M456.5 102.5V103.5M453.8 102.5H456.5M453 102.3V121.6M455.2 102.3V102.5M453 102.3H455.2M454.1 102V102.3M458.5 102V107M454.1 102H458.5M452.4 101.3V123.6M456.3 101.3V102M452.4 101.3H456.3M451.6 101V107M454.3 101V101.3M451.6 101H454.3M459.5 111.3V118.2M460.9 111.3V118M459.5 111.3H460.9M459 106.1V112.5M460.2 106.1V111.3M459 106.1H460.2M459 105.2V119.6M459.6 105.2V106.1M459 105.2H459.6M453 100.8V101M459.3 100.8V105.2M453 100.8H459.3M450.6 99.5V104.5M456.1 99.5V100.8M450.6 99.5H456.1M450.5 99.2V114.5M453.4 99.2V99.5M450.5 99.2H453.4M449.6 97.5V113.6M451.9 97.5V99.2M449.6 97.5H451.9M449.6 95.5V114.1M450.8 95.5V97.5M449.6 95.5H450.8M449.3 95V112.9M450.2 95V95.5M449.3 95H450.2M449.2 91.8V109.3M449.7 91.8V95M449.2 91.8H449.7M432.4 88.1V89.6M449.5 88.1V91.8M432.4 88.1H449.5M430 87.6V106.2M441 87.6V88.1M430 87.6H441M430 87.3V94.8M435.5 87.3V87.6M430 87.3H435.5M441 86H432.7M432.7 86V87.3M464.1 108.8V115.3M464.5 108.8V112.9M464.1 108.8H464.5M463.9 106.2V116M464.3 106.2V108.8M463.9 106.2H464.3M464.1 104V106.2M464.6 104V111.5M464.1 104H464.6M463.3 102.5V113.1M464.4 102.5V104M463.3 102.5H464.4M463.8 99.9V102.5M464.7 99.9V121.4M463.8 99.9H464.7M466.5 108V111.4M466.9 108V119.5M466.5 108H466.9M466.3 107.7V119.2M466.7 107.7V108M466.3 107.7H466.7M466.3 107.1V124.5M466.5 107.1V107.7M466.3 107.1H466.5M465.1 106.7V119M466.4 106.7V107.1M465.1 106.7H466.4M467.4 109.7V112.9M467.5 109.7V115.8M467.4 109.7H467.5M467.5 107.2V109.7M467.7 107.2V119.2M467.5 107.2H467.7M469.7 109.8V117.9M470.8 109.8V119.1M469.7 109.8H470.8M470.9 108.5V111.2M471 108.5V109.2M470.9 108.5H471M471.7 113.4V125.2M471.9 113.4V115.7M471.7 113.4H471.9M471.7 111.7V114M471.8 111.7V113.4M471.7 111.7H471.8M471.4 110.1V115.1M471.8 110.1V111.7M471.4 110.1H471.8M471.4 109.6V111.8M471.6 109.6V110.1M471.4 109.6H471.6M471 108.3V108.5M471.5 108.3V109.6M471 108.3H471.5M470.3 108.1V109.8M471.2 108.1V108.3M470.3 108.1H471.2M469 108V120.5M470.7 108V108.1M469 108H470.7M468.3 107.4V117.8M469.9 107.4V108M468.3 107.4H469.9M474.1 108.8V116.9M474.2 108.8V110.2M474.1 108.8H474.2M474.1 108.7V120.3M474.1 108.7V108.8M474.1 108.7H474.1M473.7 108.6V111.2M474.1 108.6V108.7M473.7 108.6H474.1M473.7 108.2V118.9M473.9 108.2V108.6M473.7 108.2H473.9M472.4 107.9V113.5M473.8 107.9V108.2M472.4 107.9H473.8M472.1 107.7V122.8M473.1 107.7V107.9M472.1 107.7H473.1M472.1 107.1V110.4M472.6 107.1V107.7M472.1 107.1H472.6M469.1 106.8V107.4M472.4 106.8V107.1M469.1 106.8H472.4M467.6 106.7V107.2M470.7 106.7V106.8M467.6 106.7H470.7M465.8 105.8V106.7M469.2 105.8V106.7M465.8 105.8H469.2M467.5 104.7V105.8M474.4 104.7V114.4M467.5 104.7H474.4M474.8 108.5V110M475 108.5V124.7M474.8 108.5H475M474.7 107.9V112.7M474.9 107.9V108.5M474.7 107.9H474.9M474.8 107.7V107.9M475 107.7V120.5M474.8 107.7H475M475.9 114.3V117.9M477 114.3V125.2M475.9 114.3H477M475.7 111.8V117.9M476.4 111.8V114.3M475.7 111.8H476.4M474.9 107.2V107.7M476.1 107.2V111.8M474.9 107.2H476.1M474.5 105.4V111.6M475.5 105.4V107.2M474.5 105.4H475.5M475 104.3V105.4M477.7 104.3V120.6M475 104.3H477.7M470.9 102.9V104.7M476.3 102.9V104.3M470.9 102.9H476.3M465 101.8V121.2M473.6 101.8V102.9M465 101.8H473.6M477.8 104.4V115.3M478.3 104.4V124.4M477.8 104.4H478.3M469.3 101.5V101.8M478.1 101.5V104.4M469.3 101.5H478.1M464.2 99V99.9M473.7 99V101.5M464.2 99H473.7M463.2 95.4V118.5M469 95.4V99M463.2 95.4H469M482.8 119.8V122M482.9 119.8V124.5M482.8 119.8H482.9M482.8 118.9V123.5M482.8 118.9V119.8M482.8 118.9H482.8M482.4 118.6V125.2M482.8 118.6V118.9M482.4 118.6H482.8M481.8 117V119.7M482.6 117V118.6M481.8 117H482.6M481.3 116.5V121.4M482.2 116.5V117M481.3 116.5H482.2M480.7 115.1V119.1M481.8 115.1V116.5M480.7 115.1H481.8M481.2 114.8V115.1M483.6 114.8V123.9M481.2 114.8H483.6M480.4 112.6V118.5M482.4 112.6V114.8M480.4 112.6H482.4M480 110.8V115.6M481.4 110.8V112.6M480 110.8H481.4M483.9 113.8V123.5M484.8 113.8V117.8M483.9 113.8H484.8M484.3 113.2V113.8M484.8 113.2V121.1M484.3 113.2H484.8M480.7 110.2V110.8M484.6 110.2V113.2M480.7 110.2H484.6M482.6 107.5V110.2M484.9 107.5V122.9M482.6 107.5H484.9M479.8 104.5V122M483.8 104.5V107.5M479.8 104.5H483.8M479.7 103V125.2M481.8 103V104.5M479.7 103H481.8M478.9 101.8V118.8M480.7 101.8V103M478.9 101.8H480.7M486.5 114.1V116.3M486.8 114.1V122.2M486.5 114.1H486.8M486.4 112.5V117.9M486.6 112.5V114.1M486.4 112.5H486.6M486.1 110.6V111.1M486.5 110.6V112.5M486.1 110.6H486.5M486 110.4V115.6M486.3 110.4V110.6M486 110.4H486.3M486 110V114.6M486.2 110V110.4M486 110H486.2M485.2 109.6V120.1M486.1 109.6V110M485.2 109.6H486.1M485.2 109.1V120.9M485.7 109.1V109.6M485.2 109.1H485.7M485.4 108.8V109.1M486.8 108.8V123.8M485.4 108.8H486.8M485.1 108.1V118.3M486.1 108.1V108.8M485.1 108.1H486.1M485.6 107.5V108.1M486.9 107.5V119.2M485.6 107.5H486.9M486.2 107.1V107.5M487.4 107.1V120M486.2 107.1H487.4M485.1 106.2V122.6M486.8 106.2V107.1M485.1 106.2H486.8M485.9 104.6V106.2M487.6 104.6V120.8M485.9 104.6H487.6M489.5 119.2V123.9M489.7 119.2V127.9M489.5 119.2H489.7M489.7 118.8V127.9M490.1 118.8V123.2M489.7 118.8H490.1M489.6 117.9V119.2M489.9 117.9V118.8M489.6 117.9H489.9M489.1 114.1V120.7M489.8 114.1V117.9M489.1 114.1H489.8M490.4 114.1V117.2M490.7 114.1V117.8M490.4 114.1H490.7M490.2 113.3V124.4M490.6 113.3V114.1M490.2 113.3H490.6M489.4 112.8V114.1M490.4 112.8V113.3M489.4 112.8H490.4M489 111.8V118.5M489.9 111.8V112.8M489 111.8H489.9M492.4 111.7V113.6M492.4 111.7V133.2M492.4 111.7H492.4M492 111.2V113.2M492.4 111.2V111.7M492 111.2H492.4M491 111V121.2M492.2 111V111.2M491 111H492.2M489.5 110.5V111.8M491.6 110.5V111M489.5 110.5H491.6M488.9 109.1V114.9M490.5 109.1V110.5M488.9 109.1H490.5M494.1 111V111.1M494.5 111V123.5M494.1 111H494.5M493.5 110.8V114.1M494.3 110.8V111M493.5 110.8H494.3M493.9 110.8V110.8M494.8 110.8V112.8M493.9 110.8H494.8M493.3 110.7V124.4M494.4 110.7V110.8M493.3 110.7H494.4M492.9 110.7V119.2M493.9 110.7V110.7M492.9 110.7H493.9M492.7 110.4V114.5M493.4 110.4V110.7M492.7 110.4H493.4M492.6 110V127.9M493 110V110.4M492.6 110H493M492.5 109.6V127.9M492.8 109.6V110M492.5 109.6H492.8M489.7 108.8V109.1M492.7 108.8V109.6M489.7 108.8H492.7M488.6 108.4V118.6M491.2 108.4V108.8M488.6 108.4H491.2M489.9 107.4V108.4M495 107.4V124.5M489.9 107.4H495M487.8 106.2V113.4M492.4 106.2V107.4M487.8 106.2H492.4M487.7 105V113.2M490.1 105V106.2M487.7 105H490.1M486.8 103V104.6M488.9 103V105M486.8 103H488.9M485 102.1V125.2M487.8 102.1V103M485 102.1H487.8M486.4 100.6V102.1M495 100.6V128.5M486.4 100.6H495M485 97.6V113.9M490.7 97.6V100.6M485 97.6H490.7M479.8 96.2V101.8M487.9 96.2V97.6M479.8 96.2H487.9M478.5 95.2V120.5M483.8 95.2V96.2M478.5 95.2H483.8M478.4 94.4V117.9M481.1 94.4V95.2M478.4 94.4H481.1M466.1 91.4V95.4M479.8 91.4V94.4M466.1 91.4H479.8M463.1 90.8V117.3M472.9 90.8V91.4M463.1 90.8H472.9M468 90V90.8M495.1 90V118.2M468 90H495.1M481.6 87.3V90M495.5 87.3V127.9M481.6 87.3H495.5M463 86.2V119.2M488.5 86.2V87.3M463 86.2H488.5M462.1 82.3V111.7M475.8 82.3V86.2M462.1 82.3H475.8M471 81.3H468.9M468.9 81.3V82.3M489.3 113V115.8M489.4 113V127.6M489.3 113H489.4M489.3 112.1V121.3M489.4 112.1V113M489.3 112.1H489.4M491.4 119.2V121.3M491.8 119.2V122.2M491.4 119.2H491.8M492.1 118.8V120.4M492.2 118.8V119.2M492.1 118.8H492.2M491.6 118.7V119.2M492.1 118.7V118.8M491.6 118.7H492.1M491.3 118.5V123.5M491.9 118.5V118.7M491.3 118.5H491.9M491.6 118.3V118.5M492.4 118.3V121.7M491.6 118.3H492.4M491 118.2V121.2M492 118.2V118.3M491 118.2H492M492.6 122.8V127.9M494.4 122.8V127.5M492.6 122.8H494.4M492.6 119.1V120M493.5 119.1V122.8M492.6 119.1H493.5M492.5 118.7V127.9M493 118.7V119.1M492.5 118.7H493M492.4 118.5V133.2M492.8 118.5V118.7M492.4 118.5H492.8M491.5 118V118.2M492.6 118V118.5M491.5 118H492.6M491 117.3V125M492 117.3V118M491 117.3H492M489.7 116.4V127.9M491.5 116.4V117.3M489.7 116.4H491.5M489.7 115.9V127.9M490.6 115.9V116.4M489.7 115.9H490.6M494.8 116.7V121.6M494.9 116.7V120.1M494.8 116.7H494.9M494.4 116.1V123.2M494.9 116.1V116.7M494.4 116.1H494.9M494.4 115.5V123.1M494.7 115.5V116.1M494.4 115.5H494.7M490.2 114.5V115.9M494.5 114.5V115.5M490.2 114.5H494.5M495.3 120V122.1M495.5 120V127.9M495.3 120H495.5M495 118.8V128.5M495.4 118.8V120M495 118.8H495.4M495 118V124.5M495.2 118V118.8M495 118H495.2M495.1 114.7V118M495.5 114.7V126.3M495.1 114.7H495.5M492.3 112.5V114.5M495.3 112.5V114.7M492.3 112.5H495.3M489.7 110.9V123.2M493.8 110.9V112.5M489.7 110.9H493.8M489.3 109.4V112.1M491.7 109.4V110.9M489.3 109.4H491.7M489 107.3V118.5M490.5 107.3V109.4M489 107.3H490.5M488.7 104.7V121.2M489.8 104.7V107.3M488.7 104.7H489.8M488.6 102.1V122.5M489.2 102.1V104.7M488.6 102.1H489.2M488.9 100.2V102.1M495.5 100.2V116.7M488.9 100.2H495.5M497.4 113.7V115.9M497.7 113.7V133.2M497.4 113.7H497.7M497.3 113.2V120.5M497.6 113.2V113.7M497.3 113.2H497.6M497.4 112.1V113.2M498 112.1V123.4M497.4 112.1H498M501 115.6V117.3M501.2 115.6V127.6M501 115.6H501.2M502.9 117.4V118M503.1 117.4V120.4M502.9 117.4H503.1M502.7 117.2V127.8M503 117.2V117.4M502.7 117.2H503M502.4 117V133.2M502.8 117V117.2M502.4 117H502.8M502 116.9V125M502.6 116.9V117M502 116.9H502.6M501.3 116.2V127.9M502.3 116.2V116.9M501.3 116.2H502.3M501.1 115.4V115.6M501.8 115.4V116.2M501.1 115.4H501.8M500.6 115.2V116.1M501.4 115.2V115.4M500.6 115.2H501.4M500.4 114.9V121M501 114.9V115.2M500.4 114.9H501M504.2 117.4V127.9M504.5 117.4V120.1M504.2 117.4H504.5M503.7 115.7V125M504.3 115.7V117.4M503.7 115.7H504.3M505 116.6V127.8M505.8 116.6V118M505 116.6H505.8M504.7 116.4V118.7M505.4 116.4V116.6M504.7 116.4H505.4M506.4 116.7V126.9M506.5 116.7V117.5M506.4 116.7H506.5M505 116.1V116.4M506.5 116.1V116.7M505 116.1H506.5M504 115.4V115.7M505.8 115.4V116.1M504 115.4H505.8M500.7 114.7V114.9M504.9 114.7V115.4M500.7 114.7H504.9M500.2 114.6V120.5M502.8 114.6V114.7M500.2 114.6H502.8M509 117.5V117.6M509.4 117.5V126.5M509 117.5H509.4M509 117.5V119.3M509.2 117.5V117.5M509 117.5H509.2M508.9 117.5V122.9M509.1 117.5V117.5M508.9 117.5H509.1M508.1 117.4V127.6M509 117.4V117.5M508.1 117.4H509M508.5 117.3V117.4M509.7 117.3V122.2M508.5 117.3H509.7M507.3 117.2V121.1M509.1 117.2V117.3M507.3 117.2H509.1M507.1 117V127.9M508.2 117V117.2M507.1 117H508.2M507 116.9V133.2M507.7 116.9V117M507 116.9H507.7M507.3 116.7V116.9M510 116.7V127.9M507.3 116.7H510M506.8 116.5V118.8M508.7 116.5V116.7M506.8 116.5H508.7M506.7 116.1V125.8M507.7 116.1V116.5M506.7 116.1H507.7M506.6 115.3V123M507.2 115.3V116.1M506.6 115.3H507.2M506.6 115V123.8M506.9 115V115.3M506.6 115H506.9M501.5 114.3V114.6M506.7 114.3V115M501.5 114.3H506.7M499.9 113.7V126.5M504.1 113.7V114.3M499.9 113.7H504.1M499.8 113.3V119.8M502 113.3V113.7M499.8 113.3H502M499.5 112.5V121.8M500.9 112.5V113.3M499.5 112.5H500.9M498.7 111.1V116.2M500.2 111.1V112.5M498.7 111.1H500.2M498.4 110.8V127.9M499.4 110.8V111.1M498.4 110.8H499.4M497.7 110.2V112.1M498.9 110.2V110.8M497.7 110.2H498.9M496.3 109.5V115.3M498.3 109.5V110.2M496.3 109.5H498.3M495.8 108V127.4M497.3 108V109.5M495.8 108H497.3M495.6 107.2V117.2M496.5 107.2V108M495.6 107.2H496.5M514.1 119.6V120.8M514.1 119.6V122M514.1 119.6H514.1M513.1 119.4V124.1M514.1 119.4V119.6M513.1 119.4H514.1M513.6 119.1V119.4M514.6 119.1V120.2M513.6 119.1H514.6M512.9 118.6V127.9M514.1 118.6V119.1M512.9 118.6H514.1M513.5 118.1V118.6M515.5 118.1V125.9M513.5 118.1H515.5M512.6 116.9V122.4M514.5 116.9V118.1M512.6 116.9H514.5M516 118.9V127.1M516.2 118.9V127.3M516 118.9H516.2M516 117.9V123M516.1 117.9V118.9M516 117.9H516.1M515.9 116.9V117.6M516 116.9V117.9M515.9 116.9H516M515.8 116.4V127.9M515.9 116.4V116.9M515.8 116.4H515.9M515.6 116.2V125.3M515.9 116.2V116.4M515.6 116.2H515.9M513.6 115.9V116.9M515.7 115.9V116.2M513.6 115.9H515.7M516.3 116.7V120.6M516.4 116.7V123.9M516.3 116.7H516.4M514.6 115.8V115.9M516.4 115.8V116.7M514.6 115.8H516.4M518.7 117.6V127.9M518.9 117.6V118.8M518.7 117.6H518.9M517.7 117.5V124.1M518.8 117.5V117.6M517.7 117.5H518.8M517.7 116.5V131.2M518.3 116.5V117.5M517.7 116.5H518.3M517.5 116.2V117.2M518 116.2V116.5M517.5 116.2H518M517.3 116.1V117.6M517.7 116.1V116.2M517.3 116.1H517.7M516.9 116V119.8M517.5 116V116.1M516.9 116H517.5M516.8 115.8V118.3M517.2 115.8V116M516.8 115.8H517.2M515.5 114.9V115.8M517 114.9V115.8M515.5 114.9H517M512.2 114.1V115.8M516.3 114.1V114.9M512.2 114.1H516.3M512.2 114V126.8M514.2 114V114.1M512.2 114H514.2M511.8 113.9V126.6M513.2 113.9V114M511.8 113.9H513.2M511.6 113.4V115.9M512.5 113.4V113.9M511.6 113.4H512.5M511.3 113.2V117.9M512 113.2V113.4M511.3 113.2H512M511.3 112.4V124.3M511.7 112.4V113.2M511.3 112.4H511.7M520.8 116.7V127.6M520.9 116.7V122.7M520.8 116.7H520.9M522.1 116.9V117.7M522.4 116.9V133.2M522.1 116.9H522.4M521.7 116.7V126.4M522.2 116.7V116.9M521.7 116.7H522.2M521.6 116.2V127.9M522 116.2V116.7M521.6 116.2H522M521.2 115.8V121.5M521.8 115.8V116.2M521.2 115.8H521.8M522.5 115.4V123.4M522.7 115.4V115.6M522.5 115.4H522.7M521.5 115.3V115.8M522.6 115.3V115.4M521.5 115.3H522.6M521 115.3V124.6M522.1 115.3V115.3M521 115.3H522.1M520.9 115.2V116.7M521.5 115.2V115.3M520.9 115.2H521.5M520.6 115.1V123.2M521.2 115.1V115.2M520.6 115.1H521.2M520.5 114.8V125.7M520.9 114.8V115.1M520.5 114.8H520.9M520.7 114.4V114.8M522.8 114.4V119.6M520.7 114.4H522.8M520.1 114.1V121.3M521.8 114.1V114.4M520.1 114.1H521.8M519.4 113.6V124.4M520.9 113.6V114.1M519.4 113.6H520.9M519.2 113.4V127.1M520.2 113.4V113.6M519.2 113.4H520.2M519.1 112.5V121.3M519.7 112.5V113.4M519.1 112.5H519.7M511.5 111.6V112.4M519.4 111.6V112.5M511.5 111.6H519.4M511.1 110.9V121.3M515.4 110.9V111.6M511.1 110.9H515.4M510.9 110V126.5M513.3 110V110.9M510.9 110H513.3M510.4 108.5V127.7M512.1 108.5V110M510.4 108.5H512.1M510 107V125.5M511.2 107V108.5M510 107H511.2M496.1 104.8V107.2M510.6 104.8V107M496.1 104.8H510.6M523.6 117.4V126.7M523.6 117.4V121.8M523.6 117.4H523.6M523.4 115.7V118.4M523.6 115.7V117.4M523.4 115.7H523.6M523.4 115.2V121.3M523.5 115.2V115.7M523.4 115.2H523.5M523.2 114.1V125.8M523.5 114.1V115.2M523.2 114.1H523.5M523.2 113.8V117.8M523.3 113.8V114.1M523.2 113.8H523.3M523.3 112.7V113.8M523.6 112.7V124.9M523.3 112.7H523.6M522.8 109.4V123.9M523.4 109.4V112.7M522.8 109.4H523.4M523.1 108V109.4M523.7 108V121.9M523.1 108H523.7M523.9 114.2V124.4M524 114.2V122.3M523.9 114.2H524M524 113.5V116.9M524.5 113.5V127.9M524 113.5H524.5M524 113.1V114.2M524.3 113.1V113.5M524 113.1H524.3M525.2 117.2V119.9M525.5 117.2V146.3M525.2 117.2H525.5M525 115.9V126.6M525.4 115.9V117.2M525 115.9H525.4M524.8 112.7V117.7M525.2 112.7V115.9M524.8 112.7H525.2M524.1 110.4V113.1M525 110.4V112.7M524.1 110.4H525M526.4 109.4V114.5M526.4 109.4V118.6M526.4 109.4H526.4M524.6 108.2V110.4M526.4 108.2V109.4M524.6 108.2H526.4M523.4 106.6V108M525.5 106.6V108.2M523.4 106.6H525.5M503.3 103.2V104.8M524.4 103.2V106.6M503.3 103.2H524.4M513.9 101.3V103.2M526.8 101.3V121.7M513.9 101.3H526.8M492.2 99V100.2M520.3 99V101.3M492.2 99H520.3M488.1 96.3V120.5M506.3 96.3V99M488.1 96.3H506.3M488.1 92.7V127.6M497.2 92.7V96.3M488.1 92.7H497.2M505 90H492.6M492.6 90V92.7M527.6 114.5V114.7M527.7 114.5V123.1M527.6 114.5H527.7M527.4 114.4V122.9M527.6 114.4V114.5M527.4 114.4H527.6M527.1 114V116.8M527.5 114V114.4M527.1 114H527.5M527 113.8V114.2M527.3 113.8V114M527 113.8H527.3M526.4 113.7V114.5M527.1 113.7V113.8M526.4 113.7H527.1M526.1 113.5V121.8M526.8 113.5V113.7M526.1 113.5H526.8M526.4 113.4V113.5M527.7 113.4V122.7M526.4 113.4H527.7M526 113.3V122.8M527.1 113.3V113.4M526 113.3H527.1M526.5 112.9V113.3M527.9 112.9V115M526.5 112.9H527.9M525.9 112.7V115.1M527.2 112.7V112.9M525.9 112.7H527.2M525.7 111.9V120M526.6 111.9V112.7M525.7 111.9H526.6M529 113.3V117.6M529.1 113.3V118.5M529 113.3H529.1M528.2 112.6V115.5M529.1 112.6V113.3M528.2 112.6H529.1M529.4 117V119.3M529.5 117V121.3M529.4 117H529.5M529.4 115.3V117M529.6 115.3V121.2M529.4 115.3H529.6M529.5 114V115.3M529.8 114V121.9M529.5 114H529.8M529.9 113.8V119.9M530.3 113.8V114.3M529.9 113.8H530.3M529.7 113.4V114M530.1 113.4V113.8M529.7 113.4H530.1M529.9 113.1V113.4M530.3 113.1V127.5M529.9 113.1H530.3M529.1 112.6V115.4M530.1 112.6V113.1M529.1 112.6H530.1M528.6 112V112.6M529.6 112V112.6M528.6 112H529.6M529.1 111.7V112M530.3 111.7V122.8M529.1 111.7H530.3M526.1 111.1V111.9M529.7 111.1V111.7M526.1 111.1H529.7M525.6 110.7V116.8M527.9 110.7V111.1M525.6 110.7H527.9M532.2 115.6V122.1M532.4 115.6V121.2M532.2 115.6H532.4M532 115V119.5M532.3 115V115.6M532 115H532.3M531.6 113.8V120.1M532.1 113.8V115M531.6 113.8H532.1M530.4 113V127.2M531.9 113V113.8M530.4 113H531.9M526.8 109.3V110.7M531.1 109.3V113M526.8 109.3H531.1M538.6 115.4V117.3M539 115.4V121M538.6 115.4H539M539.1 114.9V115.3M539.1 114.9V120.6M539.1 114.9H539.1M538.8 114.7V115.4M539.1 114.7V114.9M538.8 114.7H539.1M539.3 115.4V123.8M539.4 115.4V123M539.3 115.4H539.4M541 116.6V119.5M541.8 116.6V117.1M541 116.6H541.8M539.6 116.2V122.4M541.4 116.2V116.6M539.6 116.2H541.4M539.4 115.8V121M540.5 115.8V116.2M539.4 115.8H540.5M541.9 115.8V118.1M542.1 115.8V122.7M541.9 115.8H542.1M540 115.4V115.8M542 115.4V115.8M540 115.4H542M539.4 114.6V114.9M541 114.6V115.4M539.4 114.6H541M539.3 114.5V115.4M540.2 114.5V114.6M539.3 114.5H540.2M538.9 114.5V114.7M539.8 114.5V114.5M538.9 114.5H539.8M542.2 117.9V122.7M542.6 117.9V119.6M542.2 117.9H542.6M542.4 116.4V117.9M542.6 116.4V120.1M542.4 116.4H542.6M539.4 114.3V114.5M542.5 114.3V116.4M539.4 114.3H542.5M538.6 114.2V114.4M540.9 114.2V114.3M538.6 114.2H540.9M539.8 114.1V114.2M542.7 114.1V118.5M539.8 114.1H542.7M538.4 114V117.7M541.2 114V114.1M538.4 114H541.2M536.8 114V114.7M539.8 114V114M536.8 114H539.8M543.3 114.6V114.8M543.4 114.6V122.1M543.3 114.6H543.4M543.2 114.6V120.5M543.4 114.6V114.6M543.2 114.6H543.4M542.8 114.4V120.4M543.3 114.4V114.6M542.8 114.4H543.3M544.7 115V116M545 115V115.4M544.7 115H545M544.7 114.6V114.8M544.9 114.6V115M544.7 114.6H544.9M543.8 114.5V116.3M544.8 114.5V114.6M543.8 114.5H544.8M543 114.3V114.4M544.3 114.3V114.5M543 114.3H544.3M545.5 115.8V124M545.5 115.8V118.8M545.5 115.8H545.5M545.5 115V121.3M545.5 115V115.8M545.5 115H545.5M543.7 114.3V114.3M545.5 114.3V115M543.7 114.3H545.5M542.8 114.1V116.8M544.6 114.1V114.3M542.8 114.1H544.6M538.3 113.9V114M543.7 113.9V114.1M538.3 113.9H543.7M536.1 113.9V122.5M541 113.9V113.9M536.1 113.9H541M535.7 113.7V118.6M538.5 113.7V113.9M535.7 113.7H538.5M535.1 113.5V117.5M537.1 113.5V113.7M535.1 113.5H537.1M536.1 113.5V113.5M545.7 113.5V114.3M536.1 113.5H545.7M535.1 113.4V115.9M540.9 113.4V113.5M535.1 113.4H540.9M535 113.3V114.5M538 113.3V113.4M535 113.3H538M534.8 113V122.9M536.5 113V113.3M534.8 113H536.5M534.7 112.7V115.6M535.7 112.7V113M534.7 112.7H535.7M535.2 112.4V112.7M546.6 112.4V114.1M535.2 112.4H546.6M534.4 112.2V123.7M540.9 112.2V112.4M534.4 112.2H540.9M533.6 111.8V118M537.6 111.8V112.2M533.6 111.8H537.6M547.4 117.2V123.7M547.7 117.2V119M547.4 117.2H547.7M547.3 116.4V123M547.5 116.4V117.2M547.3 116.4H547.5M547.2 115.4V118.5M547.4 115.4V116.4M547.2 115.4H547.4M546.8 114.7V117.7M547.3 114.7V115.4M546.8 114.7H547.3M546.7 112.6V124M547 112.6V114.7M546.7 112.6H547M548 114V119.5M548.4 114V116.1M548 114H548.4M550.8 115.5V115.9M551.3 115.5V122.9M550.8 115.5H551.3M550.6 115.3V119.9M551.1 115.3V115.5M550.6 115.3H551.1M550.3 115V123.4M550.8 115V115.3M550.3 115H550.8M550.6 114.5V115M552.1 114.5V115.1M550.6 114.5H552.1M549.2 114.1V116.4M551.3 114.1V114.5M549.2 114.1H551.3M552.4 115.6V118.2M552.4 115.6V120.7M552.4 115.6H552.4M552.3 113.9V114.1M552.4 113.9V115.6M552.3 113.9H552.4M553.4 115.3V119.9M553.5 115.3V118.5M553.4 115.3H553.5M553.4 113.9V114.2M553.5 113.9V115.3M553.4 113.9H553.5M552.4 113.8V113.9M553.4 113.8V113.9M552.4 113.8H553.4M552.1 113.7V115.9M552.9 113.7V113.8M552.1 113.7H552.9M550.3 113.6V114.1M552.5 113.6V113.7M550.3 113.6H552.5M548.7 113.4V122.9M551.4 113.4V113.6M548.7 113.4H551.4M550.1 113.2V113.4M553.6 113.2V116M550.1 113.2H553.6M548.2 112.9V114M551.8 112.9V113.2M548.2 112.9H551.8M554.3 114.5V123M554.4 114.5V125.7M554.3 114.5H554.4M550 112.7V112.9M554.3 112.7V114.5M550 112.7H554.3M546.9 112.3V112.6M552.2 112.3V112.7M546.9 112.3H552.2M555.1 115.3V123.8M555.3 115.3V121.5M555.1 115.3H555.3M556.2 115.9V116.8M556.3 115.9V122.9M556.2 115.9H556.3M555.6 115.3V119.2M556.2 115.3V115.9M555.6 115.3H556.2M555.6 114.6V115.1M555.9 114.6V115.3M555.6 114.6H555.9M555.5 114.4V121.2M555.7 114.4V114.6M555.5 114.4H555.7M555.2 113.9V115.3M555.6 113.9V114.4M555.2 113.9H555.6M554.6 113.5V122.4M555.4 113.5V113.9M554.6 113.5H555.4M555 112.6V113.5M556.5 112.6V114.2M555 112.6H556.5M549.5 111.8V112.3M555.7 111.8V112.6M549.5 111.8H555.7M535.6 111.5V111.8M552.6 111.5V111.8M535.6 111.5H552.6M533.3 111.1V117.9M544.1 111.1V111.5M533.3 111.1H544.1M533.2 110.6V117.2M538.7 110.6V111.1M533.2 110.6H538.7M532.5 110V121.1M535.9 110V110.6M532.5 110H535.9M534.2 108.9V110M556.5 108.9V123.8M534.2 108.9H556.5M529 107.9V109.3M545.3 107.9V108.9M529 107.9H545.3M525.5 107.2V146.3M537.1 107.2V107.9M525.5 107.2H537.1M525.2 105.9V122M531.3 105.9V107.2M525.2 105.9H531.3M557.7 115.8V117.1M558 115.8V120.4M557.7 115.8H558M557.9 115.3V115.8M558 115.3V125.2M557.9 115.3H558M557.2 114.4V119.7M557.9 114.4V115.3M557.2 114.4H557.9M556.9 112.6V121.7M557.6 112.6V114.4M556.9 112.6H557.6M559.5 114.5V119.1M559.9 114.5V115.7M559.5 114.5H559.9M559.4 114.1V118.2M559.7 114.1V114.5M559.4 114.1H559.7M559.2 113.3V115M559.5 113.3V114.1M559.2 113.3H559.5M558.9 112.2V117.7M559.4 112.2V113.3M558.9 112.2H559.4M557.2 111V112.6M559.1 111V112.2M557.2 111H559.1M562.5 116.6V118.8M562.7 116.6V118.7M562.5 116.6H562.7M561.5 115.9V125.2M562.6 115.9V116.6M561.5 115.9H562.6M562 114.8V115.9M563.3 114.8V117.8M562 114.8H563.3M560.9 113.5V122.5M562.7 113.5V114.8M560.9 113.5H562.7M560.9 112.4V122M561.8 112.4V113.5M560.9 112.4H561.8M560.9 111.7V119M561.3 111.7V112.4M560.9 111.7H561.3M560.5 110.1V116.4M561.1 110.1V111.7M560.5 110.1H561.1M564.2 116.5V125.2M564.6 116.5V120.3M564.2 116.5H564.6M563.8 116.2V122.6M564.4 116.2V116.5M563.8 116.2H564.4M563.6 115.6V120.8M564.1 115.6V116.2M563.6 115.6H564.1M563.3 112V116.2M563.9 112V115.6M563.3 112H563.9M567.3 115V118.4M567.8 115V125.2M567.3 115H567.8M567.1 114.7V117.4M567.5 114.7V115M567.1 114.7H567.5M566.7 114.3V118.3M567.3 114.3V114.7M566.7 114.3H567.3M568.1 115.1V123.6M568.3 115.1V121.4M568.1 115.1H568.3M567.9 114.6V115.6M568.2 114.6V115.1M567.9 114.6H568.2M567.9 114.4V122.8M568.1 114.4V114.6M567.9 114.4H568.1M568 114.1V114.4M568.5 114.1V121.1M568 114.1H568.5M567 114V114.3M568.2 114V114.1M567 114H568.2M567.6 113V114M569.6 113V153.4M567.6 113H569.6M566.2 112.8V122.5M568.6 112.8V113M566.2 112.8H568.6M566 112V121.6M567.4 112V112.8M566 112H567.4M565.2 111.7V123.3M566.7 111.7V112M565.2 111.7H566.7M563.6 110.2V112M566 110.2V111.7M563.6 110.2H566M570.3 113.3V116.7M570.5 113.3V119.9M570.3 113.3H570.5M570.4 112.4V113.3M570.5 112.4V148M570.4 112.4H570.5M564.8 109.6V110.2M570.4 109.6V112.4M564.8 109.6H570.4M560.8 109.2V110.1M567.6 109.2V109.6M560.8 109.2H567.6M558.2 108.5V111M564.2 108.5V109.2M558.2 108.5H564.2M561.2 106.1V108.5M570.5 106.1V121.9M561.2 106.1H570.5M528.3 103.8V105.9M565.9 103.8V106.1M528.3 103.8H565.9M547.1 101.9V103.8M570.9 101.9V117.7M547.1 101.9H570.9M559 99.3V101.9M571 99.3V114.8M559 99.3H571M525 96.6V126.6M565 96.6V99.3M525 96.6H565M524.9 93.6V121.5M545 93.6V96.6M524.9 93.6H545M524.8 91V115.4M534.9 91V93.6M524.8 91H534.9M524.5 89.4V127.9M529.9 89.4V91M524.5 89.4H529.9M530.3 88H527.2M527.2 88V89.4M576.5 115.2V117.1M576.7 115.2V121.3M576.5 115.2H576.7M576.7 115.3V118.2M577.2 115.3V116.4M576.7 115.3H577.2M576.7 114.5V125.7M577 114.5V115.3M576.7 114.5H577M576.6 113.5V115.2M576.8 113.5V114.5M576.6 113.5H576.8M576.3 111.6V117.6M576.7 111.6V113.5M576.3 111.6H576.7M576.1 110.5V112.9M576.5 110.5V111.6M576.1 110.5H576.5M576.3 109.9V110.5M577.2 109.9V116.7M576.3 109.9H577.2M575.8 108.2V119.5M576.8 108.2V109.9M575.8 108.2H576.8M574.9 107.7V113.1M576.3 107.7V108.2M574.9 107.7H576.3M574.9 104.9V117.4M575.6 104.9V107.7M574.9 104.9H575.6M574 101.7V151.6M575.2 101.7V104.9M574 101.7H575.2M579 112.4V123M579.2 112.4V115.4M579 112.4H579.2M578.5 111.3V118.5M579.1 111.3V112.4M578.5 111.3H579.1M579.4 110.8V119.3M579.5 110.8V118.2M579.4 110.8H579.5M578.8 108.1V111.3M579.5 108.1V110.8M578.8 108.1H579.5M577.8 107.5V116.6M579.1 107.5V108.1M577.8 107.5H579.1M582.5 113.4V118.2M582.6 113.4V114.3M582.5 113.4H582.6M583.2 114.7V117.1M583.4 114.7V118.2M583.2 114.7H583.4M582.5 113V113.4M583.3 113V114.7M582.5 113H583.3M582.9 112.7V113M583.9 112.7V119.2M582.9 112.7H583.9M583.4 112V112.7M584 112V116.8M583.4 112H584M582 111.7V125.2M583.7 111.7V112M582 111.7H583.7M588.2 114.5V116.1M588.9 114.5V117M588.2 114.5H588.9M587.8 113.7V118.8M588.6 113.7V114.5M587.8 113.7H588.6M587.6 113.2V114M588.2 113.2V113.7M587.6 113.2H588.2M587.9 112.9V113.2M589 112.9V117M587.9 112.9H589M587.4 112.6V113M588.4 112.6V112.9M587.4 112.6H588.4M587.2 112.5V117.5M587.9 112.5V112.6M587.2 112.5H587.9M586.6 112.3V112.6M587.6 112.3V112.5M586.6 112.3H587.6M586.5 112.2V115.9M587.1 112.2V112.3M586.5 112.2H587.1M586.2 112.1V112.4M586.8 112.1V112.2M586.2 112.1H586.8M592.7 115.4V115.9M592.9 115.4V119.5M592.7 115.4H592.9M592.8 115.1V115.4M593 115.1V117.5M592.8 115.1H593M592.7 114.7V119.9M592.9 114.7V115.1M592.7 114.7H592.9M592.3 114.2V114.4M592.8 114.2V114.7M592.3 114.2H592.8M592 114.1V116.8M592.6 114.1V114.2M592 114.1H592.6M591.7 114V117.6M592.3 114V114.1M591.7 114H592.3M591.6 113.9V116.1M592 113.9V114M591.6 113.9H592M591.4 113.7V117.3M591.8 113.7V113.9M591.4 113.7H591.8M590.9 113.6V114.1M591.6 113.6V113.7M590.9 113.6H591.6M590.5 113.3V116.9M591.2 113.3V113.6M590.5 113.3H591.2M590 113.1V120.4M590.9 113.1V113.3M590 113.1H590.9M590.4 112.6V113.1M593.4 112.6V115.8M590.4 112.6H593.4M591.9 112.3V112.6M594.3 112.3V112.5M591.9 112.3H594.3M589.5 112.3V119.5M593.1 112.3V112.3M589.5 112.3H593.1M589.3 112.1V117.6M591.3 112.1V112.3M589.3 112.1H591.3M589.1 112.1V118.1M590.3 112.1V112.1M589.1 112.1H590.3M586.5 112V112.1M589.7 112V112.1M586.5 112H589.7M596 115.3V117.5M596.3 115.3V116.5M596 115.3H596.3M596.2 114.3V115.3M597.2 114.3V121.3M596.2 114.3H597.2M597.3 113.6V115.1M597.6 113.6V115.8M597.3 113.6H597.6M597.3 113.2V117.3M597.4 113.2V113.6M597.3 113.2H597.4M596.7 113V114.3M597.4 113V113.2M596.7 113H597.4M597.7 112.5V112.5M597.8 112.5V114.1M597.7 112.5H597.8M597.6 112.5V115M597.8 112.5V112.5M597.6 112.5H597.8M597 112.5V113M597.7 112.5V112.5M597 112.5H597.7M595.4 112.4V117.7M597.4 112.4V112.5M595.4 112.4H597.4M598 115.5V118.2M598.1 115.5V119.5M598 115.5H598.1M598 113.8V115.7M598.1 113.8V115.5M598 113.8H598.1M596.4 112.3V112.4M598 112.3V113.8M596.4 112.3H598M595.1 112.3V112.4M597.2 112.3V112.3M595.1 112.3H597.2M594.9 112.2V116.8M596.2 112.2V112.3M594.9 112.2H596.2M594.8 112.2V114.6M595.5 112.2V112.2M594.8 112.2H595.5M594.5 112.1V117M595.2 112.1V112.2M594.5 112.1H595.2M588.1 111.9V112M594.8 111.9V112.1M588.1 111.9H594.8M586 111.8V117.1M591.5 111.8V111.9M586 111.8H591.5M585.7 111.7V116.4M588.7 111.7V111.8M585.7 111.7H588.7M585.6 111.5V121.3M587.2 111.5V111.7M585.6 111.5H587.2M599.1 114.2V116.3M599.2 114.2V118.4M599.1 114.2H599.2M600.7 116V118.9M600.8 116V120.4M600.7 116H600.8M600.8 115.8V116M600.8 115.8V116.4M600.8 115.8H600.8M600.1 115.4V117.5M600.8 115.4V115.8M600.1 115.4H600.8M599.9 114.7V116.8M600.4 114.7V115.4M599.9 114.7H600.4M600.2 114.3V114.7M600.9 114.3V118.9M600.2 114.3H600.9M599.8 113.5V115.5M600.5 113.5V114.3M599.8 113.5H600.5M599.1 113.3V114.2M600.2 113.3V113.5M599.1 113.3H600.2M598.7 113.2V118.7M599.7 113.2V113.3M598.7 113.2H599.7M598.2 112.2V112.9M599.2 112.2V113.2M598.2 112.2H599.2M598.2 112V116M598.7 112V112.2M598.2 112H598.7M598.4 111.7V112M602.5 111.7V115.9M598.4 111.7H602.5M600.5 111.7V111.7M602.6 111.7V119.5M600.5 111.7H602.6M603.4 112.4V118.6M603.7 112.4V113.4M603.4 112.4H603.7M605 116.5V119.7M605.1 116.5V118.3M605 116.5H605.1M605.1 115.9V116.5M605.1 115.9V118.5M605.1 115.9H605.1M604.5 114.1V117M605.1 114.1V115.9M604.5 114.1H605.1M604.8 112.1V114.1M606.3 112.1V112.3M604.8 112.1H606.3M604.4 112V119.8M605.5 112V112.1M604.4 112H605.5M603.6 111.9V112.4M605 111.9V112M603.6 111.9H605M603.3 111.7V119.9M604.3 111.7V111.9M603.3 111.7H604.3M603.3 111.6V118.8M603.8 111.6V111.7M603.3 111.6H603.8M601.5 111.5V111.7M603.6 111.5V111.6M601.5 111.5H603.6M586.4 111.3V111.5M602.5 111.3V111.5M586.4 111.3H602.5M585.5 111V118.4M594.5 111V111.3M585.5 111H594.5M584.4 110.9V117.9M590 110.9V111M584.4 110.9H590M584.3 110.6V112.9M587.2 110.6V110.9M584.3 110.6H587.2M582.9 110.4V111.7M585.8 110.4V110.6M582.9 110.4H585.8M582 109.9V120.4M584.3 109.9V110.4M582 109.9H584.3M581.1 109.8V119.6M583.2 109.8V109.9M581.1 109.8H583.2M582.1 109.4V109.8M606.4 109.4V116.4M582.1 109.4H606.4M580.5 108.7V118.9M594.3 108.7V109.4M580.5 108.7H594.3M587.4 108.4V108.7M606.6 108.4V115.2M587.4 108.4H606.6M580.4 108V119.5M597 108V108.4M580.4 108H597M580.4 107.9V117.1M588.7 107.9V108M580.4 107.9H588.7M580.2 106.9V114M584.5 106.9V107.9M580.2 106.9H584.5M580 106.5V114.2M582.4 106.5V106.9M580 106.5H582.4M579.9 105.3V113.9M581.2 105.3V106.5M579.9 105.3H581.2M578.5 104.9V107.5M580.5 104.9V105.3M578.5 104.9H580.5M577.7 103.7V113.6M579.5 103.7V104.9M577.7 103.7H579.5M578.6 101.9V103.7M606.9 101.9V116.4M578.6 101.9H606.9M574.6 99.8V101.7M592.7 99.8V101.9M574.6 99.8H592.7M578.5 97H583.7M583.7 97V99.8M572.2 147.5V149.8M573.1 147.5V148.5M572.2 147.5H573.1M572.7 147.4V147.5M573.5 147.4V150.5M572.7 147.4H573.5M572.1 146.6V149.6M573.1 146.6V147.4M572.1 146.6H573.1M571.6 145.4V147.9M572.6 145.4V146.6M571.6 145.4H572.6M571.3 143.6V154.8M572.1 143.6V145.4M571.3 143.6H572.1M570.5 142.6V148M571.7 142.6V143.6M570.5 142.6H571.7M569.6 142.2V153.4M571.1 142.2V142.6M569.6 142.2H571.1M575.5 143.4V145.7M576 143.4V151.2M575.5 143.4H576M574 141.6V150.1M575.8 141.6V143.4M574 141.6H575.8M574 140.7V151.6M574.9 140.7V141.6M574 140.7H574.9M570.3 138.9V142.2M574.4 138.9V140.7M570.3 138.9H574.4M568.9 136V151.8M572.4 136V138.9M568.9 136H572.4M568.1 133.6V147.4M570.6 133.6V136M568.1 133.6H570.6M567.6 132.6V151M569.4 132.6V133.6M567.6 132.6H569.4M567.2 130.9V150.6M568.5 130.9V132.6M567.2 130.9H568.5M570.5 126H567.8M567.8 126V130.9" stroke="#b9b9b9" stroke-width="0.6" fill="none"/>
<path d="M414.8 11.3H429.4M416 11.3V90M429.4 11.3V15.6M421 15.6H437M421 15.6V47.5M437 15.6V31M429 31H444.5M429 31V47M418 11.3V92M421 15.6V45M444.5 31V55.9M430 55.9H458.4M430 55.9V95M458.4 55.9V66.2M440 66.2H476.7M440 66.2V86M476.7 66.2V77.6M461.7 77.6H533M471 77.6V81.3M533 77.6V85.3M530.3 85.3V88M505 77.6V90M530.3 85.3H537M537 85.3V90.7M534 90.7H548.2M548.2 90.7V94.3M540 94.3H560M560 94.3V97M555 97H578.5M525.5 128V147M570.5 97V126" stroke="#999" stroke-width="0.75" fill="none"/>
<circle cx="415.8" cy="54.2" r="2.2" fill="#84AE8E"/>
<circle cx="416" cy="89" r="2.2" fill="#84AE8E"/>
<circle cx="417" cy="91.5" r="2.2" fill="#84AE8E"/>
<circle cx="419" cy="93.5" r="2.2" fill="#84AE8E"/>
<circle cx="418" cy="95.5" r="2.2" fill="#84AE8E"/>
<circle cx="421" cy="96.5" r="2.2" fill="#AF5C60"/>
<circle cx="424" cy="97.3" r="2.2" fill="#AF5C60"/>
<circle cx="427" cy="97" r="2.2" fill="#AF5C60"/>
<circle cx="430" cy="96.3" r="2.2" fill="#AF5C60"/>
<circle cx="432" cy="95.8" r="2.2" fill="#AF5C60"/>
<circle cx="425" cy="95" r="2.2" fill="#AF5C60"/>
<circle cx="422.5" cy="96" r="2.2" fill="#AF5C60"/>
<circle cx="428.5" cy="95.5" r="2.2" fill="#AF5C60"/>
<circle cx="424.7" cy="103.1" r="2.2" fill="#AF5C60"/>
<circle cx="422.5" cy="108.1" r="2.2" fill="#AF5C60"/>
<circle cx="431" cy="107.6" r="2.2" fill="#9DB0C4"/>
<circle cx="436" cy="114" r="2.2" fill="#9DB0C4"/>
<circle cx="439" cy="122" r="2.2" fill="#9DB0C4"/>
<circle cx="445" cy="114" r="2.2" fill="#9DB0C4"/>
<circle cx="448" cy="115" r="2.2" fill="#9DB0C4"/>
<circle cx="450.5" cy="116" r="2.2" fill="#9DB0C4"/>
<circle cx="454" cy="112.5" r="2.2" fill="#9DB0C4"/>
<circle cx="459" cy="114" r="2.2" fill="#9DB0C4"/>
<circle cx="455" cy="125.7" r="2.2" fill="#9DB0C4"/>
<circle cx="442" cy="113" r="2.2" fill="#9DB0C4"/>
<circle cx="433" cy="119.5" r="2.2" fill="#84AE8E"/>
<circle cx="431.6" cy="116" r="2.2" fill="#E4E1E5"/>
<circle cx="457" cy="128" r="2.2" fill="#AF5C60"/>
<circle cx="456.3" cy="127.4" r="2.2" fill="#AF5C60"/>
<circle cx="526.4" cy="116" r="2.2" fill="#E4E1E5"/>
<circle cx="525.5" cy="147.8" r="2.2" fill="#4D878C"/>
<circle cx="441" cy="129.1" r="1.9" fill="#9DB0C4" stroke="#222" stroke-width="0.55"/>
<circle cx="440" cy="132" r="1.9" fill="#9DB0C4" stroke="#222" stroke-width="0.55"/>
<circle cx="443" cy="135.2" r="1.9" fill="#9DB0C4" stroke="#222" stroke-width="0.55"/>
<circle cx="471" cy="110.7" r="1.9" fill="#9DB0C4" stroke="#222" stroke-width="0.55"/>
<circle cx="473.7" cy="112.7" r="1.9" fill="#9DB0C4" stroke="#222" stroke-width="0.55"/>
<circle cx="472.4" cy="115" r="1.9" fill="#9DB0C4" stroke="#222" stroke-width="0.55"/>
<circle cx="463" cy="120.7" r="1.9" fill="#9DB0C4" stroke="#222" stroke-width="0.55"/>
<circle cx="465" cy="122.7" r="1.9" fill="#9DB0C4" stroke="#222" stroke-width="0.55"/>
<circle cx="467.7" cy="120.7" r="1.9" fill="#9DB0C4" stroke="#222" stroke-width="0.55"/>
<circle cx="469.7" cy="119.4" r="1.9" fill="#9DB0C4" stroke="#222" stroke-width="0.55"/>
<circle cx="466.3" cy="126" r="1.9" fill="#9DB0C4" stroke="#222" stroke-width="0.55"/>
<circle cx="471.7" cy="126.7" r="1.9" fill="#9DB0C4" stroke="#222" stroke-width="0.55"/>
<circle cx="475.7" cy="119.4" r="1.9" fill="#9DB0C4" stroke="#222" stroke-width="0.55"/>
<circle cx="478.4" cy="119.4" r="1.9" fill="#9DB0C4" stroke="#222" stroke-width="0.55"/>
<circle cx="480.4" cy="120" r="1.9" fill="#9DB0C4" stroke="#222" stroke-width="0.55"/>
<circle cx="475" cy="122" r="1.9" fill="#9DB0C4" stroke="#222" stroke-width="0.55"/>
<circle cx="477" cy="126.7" r="1.9" fill="#9DB0C4" stroke="#222" stroke-width="0.55"/>
<circle cx="479.7" cy="126.7" r="1.9" fill="#9DB0C4" stroke="#222" stroke-width="0.55"/>
<circle cx="482.4" cy="126.7" r="1.9" fill="#9DB0C4" stroke="#222" stroke-width="0.55"/>
<circle cx="485" cy="126.7" r="1.9" fill="#9DB0C4" stroke="#222" stroke-width="0.55"/>
<circle cx="485" cy="115.4" r="1.9" fill="#9DB0C4" stroke="#222" stroke-width="0.55"/>
<circle cx="487.7" cy="114.7" r="1.9" fill="#9DB0C4" stroke="#222" stroke-width="0.55"/>
<circle cx="486.4" cy="119.4" r="1.9" fill="#9DB0C4" stroke="#222" stroke-width="0.55"/>
<circle cx="489" cy="120" r="1.9" fill="#9DB0C4" stroke="#222" stroke-width="0.55"/>
<circle cx="491" cy="122.7" r="1.9" fill="#9DB0C4" stroke="#222" stroke-width="0.55"/>
<circle cx="489.7" cy="129.4" r="1.9" fill="#9DB0C4" stroke="#222" stroke-width="0.55"/>
<circle cx="492.5" cy="129.4" r="1.9" fill="#9DB0C4" stroke="#222" stroke-width="0.55"/>
<circle cx="495" cy="126" r="1.9" fill="#9DB0C4" stroke="#222" stroke-width="0.55"/>
<circle cx="495" cy="130" r="1.9" fill="#9DB0C4" stroke="#222" stroke-width="0.55"/>
<circle cx="489.7" cy="129.4" r="1.9" fill="#9DB0C4" stroke="#222" stroke-width="0.55"/>
<circle cx="492.6" cy="129.4" r="1.9" fill="#9DB0C4" stroke="#222" stroke-width="0.55"/>
<circle cx="495.5" cy="129.4" r="1.9" fill="#9DB0C4" stroke="#222" stroke-width="0.55"/>
<circle cx="498.4" cy="129.4" r="1.9" fill="#9DB0C4" stroke="#222" stroke-width="0.55"/>
<circle cx="501.3" cy="129.4" r="1.9" fill="#9DB0C4" stroke="#222" stroke-width="0.55"/>
<circle cx="504.2" cy="129.4" r="1.9" fill="#9DB0C4" stroke="#222" stroke-width="0.55"/>
<circle cx="507.1" cy="129.4" r="1.9" fill="#9DB0C4" stroke="#222" stroke-width="0.55"/>
<circle cx="510" cy="129.4" r="1.9" fill="#9DB0C4" stroke="#222" stroke-width="0.55"/>
<circle cx="512.9" cy="129.4" r="1.9" fill="#9DB0C4" stroke="#222" stroke-width="0.55"/>
<circle cx="515.8" cy="129.4" r="1.9" fill="#9DB0C4" stroke="#222" stroke-width="0.55"/>
<circle cx="518.7" cy="129.4" r="1.9" fill="#9DB0C4" stroke="#222" stroke-width="0.55"/>
<circle cx="521.6" cy="129.4" r="1.9" fill="#9DB0C4" stroke="#222" stroke-width="0.55"/>
<circle cx="524.5" cy="129.4" r="1.9" fill="#9DB0C4" stroke="#222" stroke-width="0.55"/>
<circle cx="492.4" cy="134.7" r="1.9" fill="#9DB0C4" stroke="#222" stroke-width="0.55"/>
<circle cx="497.7" cy="134.7" r="1.9" fill="#9DB0C4" stroke="#222" stroke-width="0.55"/>
<circle cx="502.4" cy="134.7" r="1.9" fill="#9DB0C4" stroke="#222" stroke-width="0.55"/>
<circle cx="507" cy="134.7" r="1.9" fill="#9DB0C4" stroke="#222" stroke-width="0.55"/>
<circle cx="517.7" cy="132.7" r="1.9" fill="#9DB0C4" stroke="#222" stroke-width="0.55"/>
<circle cx="522.4" cy="134.7" r="1.9" fill="#9DB0C4" stroke="#222" stroke-width="0.55"/>
<circle cx="516.4" cy="125.4" r="1.9" fill="#E4E1E5" stroke="#222" stroke-width="0.55"/>
<circle cx="529.8" cy="123.4" r="1.9" fill="#9DB0C4" stroke="#222" stroke-width="0.55"/>
<circle cx="532.4" cy="122.7" r="1.9" fill="#9DB0C4" stroke="#222" stroke-width="0.55"/>
<circle cx="530.4" cy="128.7" r="1.9" fill="#9DB0C4" stroke="#222" stroke-width="0.55"/>
<circle cx="529.5" cy="122.8" r="1.9" fill="#9DB0C4" stroke="#222" stroke-width="0.55"/>
<circle cx="532" cy="121" r="1.9" fill="#9DB0C4" stroke="#222" stroke-width="0.55"/>
<circle cx="535.7" cy="120.1" r="1.9" fill="#9DB0C4" stroke="#222" stroke-width="0.55"/>
<circle cx="538.4" cy="119.2" r="1.9" fill="#9DB0C4" stroke="#222" stroke-width="0.55"/>
<circle cx="541" cy="121" r="1.9" fill="#9DB0C4" stroke="#222" stroke-width="0.55"/>
<circle cx="542.8" cy="121.9" r="1.9" fill="#9DB0C4" stroke="#222" stroke-width="0.55"/>
<circle cx="545.5" cy="122.8" r="1.9" fill="#9DB0C4" stroke="#222" stroke-width="0.55"/>
<circle cx="548" cy="121" r="1.9" fill="#9DB0C4" stroke="#222" stroke-width="0.55"/>
<circle cx="550.8" cy="117.4" r="1.9" fill="#9DB0C4" stroke="#222" stroke-width="0.55"/>
<circle cx="553.5" cy="120" r="1.9" fill="#9DB0C4" stroke="#222" stroke-width="0.55"/>
<circle cx="556.2" cy="118.3" r="1.9" fill="#9DB0C4" stroke="#222" stroke-width="0.55"/>
<circle cx="558" cy="121.9" r="1.9" fill="#9DB0C4" stroke="#222" stroke-width="0.55"/>
<circle cx="545.5" cy="125.5" r="1.9" fill="#9DB0C4" stroke="#222" stroke-width="0.55"/>
<circle cx="558" cy="126.7" r="1.9" fill="#9DB0C4" stroke="#222" stroke-width="0.55"/>
<circle cx="561.5" cy="126.7" r="1.9" fill="#9DB0C4" stroke="#222" stroke-width="0.55"/>
<circle cx="564.2" cy="126.7" r="1.9" fill="#9DB0C4" stroke="#222" stroke-width="0.55"/>
<circle cx="567.8" cy="126.7" r="1.9" fill="#9DB0C4" stroke="#222" stroke-width="0.55"/>
<circle cx="525" cy="128.1" r="1.9" fill="#9DB0C4" stroke="#222" stroke-width="0.55"/>
<circle cx="530.3" cy="129" r="1.9" fill="#9DB0C4" stroke="#222" stroke-width="0.55"/>
<circle cx="542.8" cy="118.3" r="1.9" fill="#E4E1E5" stroke="#222" stroke-width="0.55"/>
<circle cx="554.4" cy="127.2" r="1.9" fill="#E4E1E5" stroke="#222" stroke-width="0.55"/>
<circle cx="575.8" cy="121" r="1.9" fill="#E4E1E5" stroke="#222" stroke-width="0.55"/>
<circle cx="578.5" cy="120" r="1.9" fill="#E4E1E5" stroke="#222" stroke-width="0.55"/>
<circle cx="582" cy="121.9" r="1.9" fill="#E4E1E5" stroke="#222" stroke-width="0.55"/>
<circle cx="576.7" cy="127.2" r="1.9" fill="#E4E1E5" stroke="#222" stroke-width="0.55"/>
<circle cx="582" cy="126.7" r="1.9" fill="#E4E1E5" stroke="#222" stroke-width="0.55"/>
<circle cx="585.6" cy="122.8" r="1.9" fill="#E4E1E5" stroke="#222" stroke-width="0.55"/>
<circle cx="590" cy="121.9" r="1.9" fill="#E4E1E5" stroke="#222" stroke-width="0.55"/>
<circle cx="579" cy="124.5" r="1.9" fill="#E4E1E5" stroke="#222" stroke-width="0.55"/>
<circle cx="586.5" cy="117.4" r="1.9" fill="#9DB0C4" stroke="#222" stroke-width="0.55"/>
<circle cx="592.7" cy="117.4" r="1.9" fill="#9DB0C4" stroke="#222" stroke-width="0.55"/>
<circle cx="595.4" cy="119.2" r="1.9" fill="#9DB0C4" stroke="#222" stroke-width="0.55"/>
<circle cx="598.1" cy="121" r="1.9" fill="#9DB0C4" stroke="#222" stroke-width="0.55"/>
<circle cx="599.9" cy="118.3" r="1.9" fill="#9DB0C4" stroke="#222" stroke-width="0.55"/>
<circle cx="602.5" cy="117.4" r="1.9" fill="#9DB0C4" stroke="#222" stroke-width="0.55"/>
<circle cx="603.4" cy="120.1" r="1.9" fill="#9DB0C4" stroke="#222" stroke-width="0.55"/>
<circle cx="600.8" cy="121.9" r="1.9" fill="#9DB0C4" stroke="#222" stroke-width="0.55"/>
<circle cx="597.2" cy="122.8" r="1.9" fill="#9DB0C4" stroke="#222" stroke-width="0.55"/>
<circle cx="576.7" cy="122.8" r="1.9" fill="#9DB0C4" stroke="#222" stroke-width="0.55"/>
<circle cx="589" cy="118.5" r="1.9" fill="#9DB0C4" stroke="#222" stroke-width="0.55"/>
<circle cx="604.5" cy="118.5" r="1.9" fill="#9DB0C4" stroke="#222" stroke-width="0.55"/>
<circle cx="570.5" cy="149.5" r="1.9" fill="#9DB0C4" stroke="#222" stroke-width="0.55"/>
<circle cx="572.2" cy="151.3" r="1.9" fill="#9DB0C4" stroke="#222" stroke-width="0.55"/>
<circle cx="574" cy="153.1" r="1.9" fill="#9DB0C4" stroke="#222" stroke-width="0.55"/>
<circle cx="569.6" cy="154.9" r="1.9" fill="#9DB0C4" stroke="#222" stroke-width="0.55"/>
<circle cx="571.3" cy="156.3" r="1.9" fill="#9DB0C4" stroke="#222" stroke-width="0.55"/>
<circle cx="573.5" cy="152" r="1.9" fill="#9DB0C4" stroke="#222" stroke-width="0.55"/>
<path d="M423.3 201.4V413.4M443.3 201.4V413.4M463.3 201.4V413.4M483.2 201.4V413.4M503.2 201.4V413.4M523.2 201.4V413.4M543.2 201.4V413.4M563.2 201.4V413.4M583.1 201.4V413.4M603.1 201.4V413.4M623.1 201.4V413.4M643.1 201.4V413.4M663.1 201.4V413.4M421.4 397.9H672.6M421.4 350.9H672.6M421.4 303.9H672.6M421.4 257H672.6M421.4 210H672.6" stroke="#f4f4f4" stroke-width="0.6" fill="none"/>
<path d="M433.3 201.4V413.4M453.3 201.4V413.4M473.3 201.4V413.4M493.2 201.4V413.4M513.2 201.4V413.4M533.2 201.4V413.4M553.2 201.4V413.4M573.2 201.4V413.4M593.1 201.4V413.4M613.1 201.4V413.4M633.1 201.4V413.4M653.1 201.4V413.4M421.4 374.4H672.6M421.4 327.4H672.6M421.4 280.5H672.6M421.4 233.5H672.6" stroke="#ededed" stroke-width="0.7" fill="none"/>
<path d="M421.5 201.5H672.5" stroke="#e6e6e6" stroke-width="1.1" fill="none"/>
<path d="M672.5 201.5V413.9" stroke="#c8c8c8" stroke-width="1.1" fill="none"/>
<path d="M421.5 413.9H672.5" stroke="#d3d3d3" stroke-width="1.6" fill="none"/>
<path d="M421.5 201.5V414" stroke="#b9b9b9" stroke-width="1.1" fill="none"/>
<text x="417.4" y="377.8" font-size="9.6" textLength="18.6" lengthAdjust="spacingAndGlyphs" text-anchor="end" fill="#1a1a1a">0.01</text>
<text x="417.4" y="330.8" font-size="9.6" textLength="18.6" lengthAdjust="spacingAndGlyphs" text-anchor="end" fill="#1a1a1a">0.02</text>
<text x="417.4" y="283.9" font-size="9.6" textLength="18.6" lengthAdjust="spacingAndGlyphs" text-anchor="end" fill="#1a1a1a">0.03</text>
<text x="417.4" y="236.9" font-size="9.6" textLength="18.6" lengthAdjust="spacingAndGlyphs" text-anchor="end" fill="#1a1a1a">0.04</text>
<text transform="translate(437.3 422.1) rotate(-35)" font-size="10.0" text-anchor="end" textLength="21.2" lengthAdjust="spacingAndGlyphs" fill="#1a1a1a" stroke="#1a1a1a" stroke-width="0.15">2014</text>
<text transform="translate(457.3 422.1) rotate(-35)" font-size="10.0" text-anchor="end" textLength="21.2" lengthAdjust="spacingAndGlyphs" fill="#1a1a1a" stroke="#1a1a1a" stroke-width="0.15">2015</text>
<text transform="translate(477.3 422.1) rotate(-35)" font-size="10.0" text-anchor="end" textLength="21.2" lengthAdjust="spacingAndGlyphs" fill="#1a1a1a" stroke="#1a1a1a" stroke-width="0.15">2016</text>
<text transform="translate(497.2 422.1) rotate(-35)" font-size="10.0" text-anchor="end" textLength="21.2" lengthAdjust="spacingAndGlyphs" fill="#1a1a1a" stroke="#1a1a1a" stroke-width="0.15">2017</text>
<text transform="translate(517.2 422.1) rotate(-35)" font-size="10.0" text-anchor="end" textLength="21.2" lengthAdjust="spacingAndGlyphs" fill="#1a1a1a" stroke="#1a1a1a" stroke-width="0.15">2018</text>
<text transform="translate(537.2 422.1) rotate(-35)" font-size="10.0" text-anchor="end" textLength="21.2" lengthAdjust="spacingAndGlyphs" fill="#1a1a1a" stroke="#1a1a1a" stroke-width="0.15">2019</text>
<text transform="translate(557.2 422.1) rotate(-35)" font-size="10.0" text-anchor="end" textLength="21.2" lengthAdjust="spacingAndGlyphs" fill="#1a1a1a" stroke="#1a1a1a" stroke-width="0.15">2020</text>
<text transform="translate(577.2 422.1) rotate(-35)" font-size="10.0" text-anchor="end" textLength="21.2" lengthAdjust="spacingAndGlyphs" fill="#1a1a1a" stroke="#1a1a1a" stroke-width="0.15">2021</text>
<text transform="translate(597.1 422.1) rotate(-35)" font-size="10.0" text-anchor="end" textLength="21.2" lengthAdjust="spacingAndGlyphs" fill="#1a1a1a" stroke="#1a1a1a" stroke-width="0.15">2022</text>
<text transform="translate(617.1 422.1) rotate(-35)" font-size="10.0" text-anchor="end" textLength="21.2" lengthAdjust="spacingAndGlyphs" fill="#1a1a1a" stroke="#1a1a1a" stroke-width="0.15">2023</text>
<text transform="translate(637.1 422.1) rotate(-35)" font-size="10.0" text-anchor="end" textLength="21.2" lengthAdjust="spacingAndGlyphs" fill="#1a1a1a" stroke="#1a1a1a" stroke-width="0.15">2024</text>
<text transform="translate(657.1 422.1) rotate(-35)" font-size="10.0" text-anchor="end" textLength="21.2" lengthAdjust="spacingAndGlyphs" fill="#1a1a1a" stroke="#1a1a1a" stroke-width="0.15">2025</text>
<path d="M419.8 374.4H421M419.8 327.4H421M419.8 280.5H421M419.8 233.5H421M433.3 414.2V415.2M453.3 414.2V415.2M473.3 414.2V415.2M493.2 414.2V415.2M513.2 414.2V415.2M533.2 414.2V415.2M553.2 414.2V415.2M573.2 414.2V415.2M593.1 414.2V415.2M613.1 414.2V415.2M633.1 414.2V415.2M653.1 414.2V415.2" stroke="#777" stroke-width="0.8" fill="none"/>
<text x="508.2" y="446.9" font-size="9.1" textLength="53.7" lengthAdjust="spacingAndGlyphs" fill="#1a1a1a">Time (years)</text>
<text transform="translate(392 345.6) rotate(-90)" font-size="9.8" textLength="90.1" lengthAdjust="spacingAndGlyphs" fill="#1a1a1a">Root-to-tip divergence</text>
<text x="431" y="221" font-size="7.0" textLength="84.7" lengthAdjust="spacingAndGlyphs" fill="#1a1a1a">Correlation coefficient = 0.73</text>
<text x="431" y="228.8" font-size="6.6" fill="#1a1a1a">R<tspan font-size="4.3" dy="-2.6">2</tspan><tspan dy="2.6">= 0.53</tspan></text>
<circle cx="441.7" cy="369.2" r="1.9" fill="#4E626C" fill-opacity="0.85"/>
<circle cx="445.8" cy="368.5" r="1.9" fill="#4E626C" fill-opacity="0.85"/>
<circle cx="447.5" cy="367.7" r="1.9" fill="#4E626C" fill-opacity="0.85"/>
<circle cx="449" cy="369.3" r="1.9" fill="#4E626C" fill-opacity="0.85"/>
<circle cx="450.3" cy="368.4" r="1.9" fill="#4E626C" fill-opacity="0.85"/>
<circle cx="446.5" cy="369.8" r="1.9" fill="#4E626C" fill-opacity="0.85"/>
<circle cx="463.7" cy="358.8" r="1.9" fill="#4E626C" fill-opacity="0.85"/>
<circle cx="463.7" cy="364.5" r="1.9" fill="#4E626C" fill-opacity="0.85"/>
<circle cx="463.7" cy="366.8" r="1.9" fill="#4E626C" fill-opacity="0.85"/>
<circle cx="463.8" cy="386" r="1.9" fill="#4E626C" fill-opacity="0.85"/>
<circle cx="463.8" cy="389.5" r="1.9" fill="#4E626C" fill-opacity="0.85"/>
<circle cx="466.2" cy="395.3" r="1.9" fill="#4E626C" fill-opacity="0.85"/>
<circle cx="463.8" cy="404.2" r="1.9" fill="#4E626C" fill-opacity="0.85"/>
<circle cx="473.5" cy="353.5" r="1.9" fill="#4E626C" fill-opacity="0.85"/>
<circle cx="475.5" cy="355" r="1.9" fill="#4E626C" fill-opacity="0.85"/>
<circle cx="477.5" cy="354" r="1.9" fill="#4E626C" fill-opacity="0.85"/>
<circle cx="479.5" cy="356" r="1.9" fill="#4E626C" fill-opacity="0.85"/>
<circle cx="481.5" cy="357.5" r="1.9" fill="#4E626C" fill-opacity="0.85"/>
<circle cx="474.5" cy="357.5" r="1.9" fill="#4E626C" fill-opacity="0.85"/>
<circle cx="476.5" cy="359.5" r="1.9" fill="#4E626C" fill-opacity="0.85"/>
<circle cx="478.5" cy="358" r="1.9" fill="#4E626C" fill-opacity="0.85"/>
<circle cx="482.4" cy="360.6" r="1.9" fill="#4E626C" fill-opacity="0.85"/>
<circle cx="475.6" cy="348" r="1.9" fill="#4E626C" fill-opacity="0.85"/>
<circle cx="480" cy="352" r="1.9" fill="#4E626C" fill-opacity="0.85"/>
<circle cx="477" cy="360.6" r="1.9" fill="#AF5C60" fill-opacity="0.85"/>
<circle cx="479.7" cy="363.3" r="1.9" fill="#AF5C60" fill-opacity="0.85"/>
<circle cx="484.2" cy="358" r="1.9" fill="#AF5C60" fill-opacity="0.85"/>
<circle cx="486" cy="360.6" r="1.9" fill="#AF5C60" fill-opacity="0.85"/>
<circle cx="490.4" cy="358.8" r="1.9" fill="#4E626C" fill-opacity="0.85"/>
<circle cx="492.2" cy="356.1" r="1.9" fill="#AF5C60" fill-opacity="0.85"/>
<circle cx="495.8" cy="335.6" r="1.9" fill="#84AE8E" fill-opacity="0.85"/>
<circle cx="499.3" cy="344.6" r="1.9" fill="#4D878C" fill-opacity="0.85"/>
<circle cx="495.8" cy="346.3" r="1.9" fill="#84AE8E" fill-opacity="0.85"/>
<circle cx="496.5" cy="350" r="1.9" fill="#84AE8E" fill-opacity="0.85"/>
<circle cx="497.2" cy="353.5" r="1.9" fill="#84AE8E" fill-opacity="0.85"/>
<circle cx="498.4" cy="356.5" r="1.9" fill="#84AE8E" fill-opacity="0.85"/>
<circle cx="496.8" cy="358.8" r="1.9" fill="#84AE8E" fill-opacity="0.85"/>
<circle cx="497.5" cy="349" r="1.9" fill="#AF5C60" fill-opacity="0.85"/>
<circle cx="497.5" cy="353.5" r="1.9" fill="#AF5C60" fill-opacity="0.85"/>
<circle cx="496.2" cy="359.5" r="1.9" fill="#AF5C60" fill-opacity="0.85"/>
<circle cx="512.7" cy="346.3" r="1.9" fill="#84AE8E" fill-opacity="0.85"/>
<circle cx="516" cy="340" r="1.9" fill="#AF5C60" fill-opacity="0.85"/>
<circle cx="517.5" cy="343" r="1.9" fill="#AF5C60" fill-opacity="0.85"/>
<circle cx="519" cy="346" r="1.9" fill="#AF5C60" fill-opacity="0.85"/>
<circle cx="520" cy="349" r="1.9" fill="#AF5C60" fill-opacity="0.85"/>
<circle cx="516.8" cy="351" r="1.9" fill="#AF5C60" fill-opacity="0.85"/>
<circle cx="518.5" cy="352.6" r="1.9" fill="#AF5C60" fill-opacity="0.85"/>
<circle cx="515.5" cy="347" r="1.9" fill="#AF5C60" fill-opacity="0.85"/>
<circle cx="516.5" cy="317.6" r="1.9" fill="#C8A9AE" fill-opacity="0.85"/>
<circle cx="514.8" cy="324.2" r="1.9" fill="#C8A9AE" fill-opacity="0.85"/>
<circle cx="518" cy="318" r="1.9" fill="#C8A9AE" fill-opacity="0.85"/>
<circle cx="518.3" cy="333.1" r="1.9" fill="#AF5C60" fill-opacity="0.85"/>
<circle cx="518.3" cy="339.3" r="1.9" fill="#AF5C60" fill-opacity="0.85"/>
<circle cx="515" cy="345.5" r="1.9" fill="#C8A9AE" fill-opacity="0.85"/>
<circle cx="545" cy="262.1" r="1.9" fill="#AF5C60" fill-opacity="0.85"/>
<circle cx="542.4" cy="267.1" r="1.9" fill="#AF5C60" fill-opacity="0.85"/>
<circle cx="540.6" cy="269.8" r="1.9" fill="#AF5C60" fill-opacity="0.85"/>
<circle cx="534.3" cy="273.9" r="1.9" fill="#AF5C60" fill-opacity="0.85"/>
<circle cx="537" cy="273.4" r="1.9" fill="#AF5C60" fill-opacity="0.85"/>
<circle cx="538.8" cy="277.8" r="1.9" fill="#AF5C60" fill-opacity="0.85"/>
<circle cx="541.5" cy="277" r="1.9" fill="#AF5C60" fill-opacity="0.85"/>
<circle cx="535.2" cy="289.4" r="1.9" fill="#AF5C60" fill-opacity="0.85"/>
<circle cx="537" cy="289.4" r="1.9" fill="#AF5C60" fill-opacity="0.85"/>
<circle cx="539.7" cy="288.5" r="1.9" fill="#AF5C60" fill-opacity="0.85"/>
<circle cx="538.8" cy="293.9" r="1.9" fill="#AF5C60" fill-opacity="0.85"/>
<circle cx="542.7" cy="292.4" r="1.9" fill="#AF5C60" fill-opacity="0.85"/>
<circle cx="534.3" cy="310.8" r="1.9" fill="#AF5C60" fill-opacity="0.85"/>
<circle cx="539.7" cy="308.5" r="1.9" fill="#AF5C60" fill-opacity="0.85"/>
<circle cx="538.8" cy="311.7" r="1.9" fill="#AF5C60" fill-opacity="0.85"/>
<circle cx="541.8" cy="287.8" r="1.9" fill="#AF5C60" fill-opacity="0.85"/>
<circle cx="543.2" cy="292.3" r="1.9" fill="#AF5C60" fill-opacity="0.85"/>
<circle cx="540.9" cy="308.3" r="1.9" fill="#AF5C60" fill-opacity="0.85"/>
<circle cx="541.8" cy="332" r="1.9" fill="#AF5C60" fill-opacity="0.85"/>
<circle cx="538.8" cy="276" r="1.9" fill="#4E626C" fill-opacity="0.85"/>
<circle cx="545.4" cy="282.3" r="1.9" fill="#4E626C" fill-opacity="0.85"/>
<circle cx="541.5" cy="289.4" r="1.9" fill="#4E626C" fill-opacity="0.85"/>
<circle cx="537.4" cy="301" r="1.9" fill="#4E626C" fill-opacity="0.85"/>
<circle cx="537.4" cy="308.5" r="1.9" fill="#4E626C" fill-opacity="0.85"/>
<circle cx="537.4" cy="313.5" r="1.9" fill="#4E626C" fill-opacity="0.85"/>
<circle cx="538" cy="315.6" r="1.9" fill="#4E626C" fill-opacity="0.85"/>
<circle cx="540.2" cy="318.4" r="1.9" fill="#4E626C" fill-opacity="0.85"/>
<circle cx="537" cy="322.4" r="1.9" fill="#4E626C" fill-opacity="0.85"/>
<circle cx="537.4" cy="325.6" r="1.9" fill="#4E626C" fill-opacity="0.85"/>
<circle cx="549.3" cy="244.5" r="1.9" fill="#4E626C" fill-opacity="0.85"/>
<circle cx="549.8" cy="246.7" r="1.9" fill="#4E626C" fill-opacity="0.85"/>
<circle cx="551" cy="256.1" r="1.9" fill="#4E626C" fill-opacity="0.85"/>
<circle cx="545.3" cy="282.1" r="1.9" fill="#4E626C" fill-opacity="0.85"/>
<circle cx="540.9" cy="318.1" r="1.9" fill="#4E626C" fill-opacity="0.85"/>
<circle cx="536.7" cy="332.7" r="1.9" fill="#4D878C" fill-opacity="0.85"/>
<circle cx="542.4" cy="330.4" r="1.9" fill="#4D878C" fill-opacity="0.85"/>
<circle cx="540.6" cy="338" r="1.9" fill="#4D878C" fill-opacity="0.85"/>
<circle cx="541.8" cy="330.2" r="1.9" fill="#4D878C" fill-opacity="0.85"/>
<circle cx="540.9" cy="337.7" r="1.9" fill="#4D878C" fill-opacity="0.85"/>
<circle cx="536.3" cy="333" r="1.9" fill="#4D878C" fill-opacity="0.85"/>
<circle cx="545.3" cy="262.4" r="1.9" fill="#AF5C60" fill-opacity="0.85"/>
<circle cx="542.7" cy="267.7" r="1.9" fill="#AF5C60" fill-opacity="0.85"/>
<circle cx="540.3" cy="270.2" r="1.9" fill="#AF5C60" fill-opacity="0.85"/>
<circle cx="597" cy="210.7" r="1.9" fill="#4E626C" fill-opacity="0.85"/>
<circle cx="597.4" cy="212.8" r="1.9" fill="#4E626C" fill-opacity="0.85"/>
<circle cx="595.2" cy="215.7" r="1.9" fill="#4E626C" fill-opacity="0.85"/>
<circle cx="601.1" cy="219" r="1.9" fill="#4E626C" fill-opacity="0.85"/>
<circle cx="586.7" cy="216.9" r="1.9" fill="#4E626C" fill-opacity="0.85"/>
<circle cx="586.3" cy="224" r="1.9" fill="#4E626C" fill-opacity="0.85"/>
<circle cx="585.4" cy="227.3" r="1.9" fill="#4E626C" fill-opacity="0.85"/>
<circle cx="597.9" cy="228" r="1.9" fill="#4E626C" fill-opacity="0.85"/>
<circle cx="606.5" cy="227.6" r="1.9" fill="#4E626C" fill-opacity="0.85"/>
<circle cx="581.5" cy="235.3" r="1.9" fill="#4E626C" fill-opacity="0.85"/>
<circle cx="588.5" cy="233.3" r="1.9" fill="#4E626C" fill-opacity="0.85"/>
<circle cx="602" cy="235.3" r="1.9" fill="#4E626C" fill-opacity="0.85"/>
<circle cx="598.8" cy="274" r="1.9" fill="#4E626C" fill-opacity="0.85"/>
<circle cx="598.8" cy="274.5" r="1.9" fill="#4E626C" fill-opacity="0.85"/>
<circle cx="598.8" cy="279.8" r="1.9" fill="#4E626C" fill-opacity="0.85"/>
<circle cx="598.4" cy="283.4" r="1.9" fill="#4E626C" fill-opacity="0.85"/>
<circle cx="581.9" cy="291.7" r="1.9" fill="#4E626C" fill-opacity="0.85"/>
<circle cx="589" cy="290" r="1.9" fill="#4E626C" fill-opacity="0.85"/>
<circle cx="599.7" cy="291.7" r="1.9" fill="#4E626C" fill-opacity="0.85"/>
<circle cx="601.5" cy="298.2" r="1.9" fill="#4E626C" fill-opacity="0.85"/>
<circle cx="597" cy="295" r="1.9" fill="#4E626C" fill-opacity="0.85"/>
<circle cx="587.2" cy="300.3" r="1.9" fill="#4E626C" fill-opacity="0.85"/>
<circle cx="587.2" cy="304.7" r="1.9" fill="#4E626C" fill-opacity="0.85"/>
<circle cx="587.8" cy="308.3" r="1.9" fill="#4E626C" fill-opacity="0.85"/>
<circle cx="589" cy="315.4" r="1.9" fill="#4E626C" fill-opacity="0.85"/>
<circle cx="601.8" cy="218.7" r="1.9" fill="#4E626C" fill-opacity="0.85"/>
<circle cx="606.6" cy="227.6" r="1.9" fill="#4E626C" fill-opacity="0.85"/>
<circle cx="602.1" cy="235.3" r="1.9" fill="#4E626C" fill-opacity="0.85"/>
<circle cx="594.3" cy="220.5" r="1.9" fill="#AF5C60" fill-opacity="0.85"/>
<circle cx="599.3" cy="239.2" r="1.9" fill="#AF5C60" fill-opacity="0.85"/>
<circle cx="601.5" cy="281" r="1.9" fill="#AF5C60" fill-opacity="0.85"/>
<circle cx="581" cy="273.2" r="1.9" fill="#C8A9AE" fill-opacity="0.85"/>
<circle cx="580.6" cy="280.7" r="1.9" fill="#C8A9AE" fill-opacity="0.85"/>
<circle cx="593.5" cy="292.3" r="1.9" fill="#C8A9AE" fill-opacity="0.85"/>
<circle cx="581" cy="273" r="1.9" fill="#C8A9AE" fill-opacity="0.85"/>
<circle cx="601.5" cy="276.2" r="1.9" fill="#4D878C" fill-opacity="0.85"/>
<circle cx="579.2" cy="292.3" r="1.9" fill="#4D878C" fill-opacity="0.85"/>
<circle cx="575.6" cy="295.8" r="1.9" fill="#4D878C" fill-opacity="0.85"/>
<circle cx="577.5" cy="297.5" r="1.9" fill="#4D878C" fill-opacity="0.85"/>
<circle cx="579.5" cy="299" r="1.9" fill="#4D878C" fill-opacity="0.85"/>
<circle cx="581.9" cy="300.3" r="1.9" fill="#4D878C" fill-opacity="0.85"/>
<circle cx="576.5" cy="299.5" r="1.9" fill="#4D878C" fill-opacity="0.85"/>
<circle cx="570.3" cy="304.7" r="1.9" fill="#AF5C60" fill-opacity="0.85"/>
<circle cx="572" cy="303.5" r="1.9" fill="#AF5C60" fill-opacity="0.85"/>
<circle cx="578.3" cy="303" r="1.9" fill="#AF5C60" fill-opacity="0.85"/>
<circle cx="580.1" cy="308.3" r="1.9" fill="#AF5C60" fill-opacity="0.85"/>
<circle cx="573" cy="311" r="1.9" fill="#AF5C60" fill-opacity="0.85"/>
<circle cx="575" cy="311.5" r="1.9" fill="#AF5C60" fill-opacity="0.85"/>
<circle cx="566.4" cy="315.4" r="1.9" fill="#AF5C60" fill-opacity="0.85"/>
<circle cx="591.7" cy="297.6" r="1.9" fill="#AF5C60" fill-opacity="0.85"/>
<circle cx="593.5" cy="296.5" r="1.9" fill="#AF5C60" fill-opacity="0.85"/>
<circle cx="595.2" cy="301.2" r="1.9" fill="#AF5C60" fill-opacity="0.85"/>
<circle cx="597" cy="303.9" r="1.9" fill="#AF5C60" fill-opacity="0.85"/>
<circle cx="596.7" cy="318.1" r="1.9" fill="#AF5C60" fill-opacity="0.85"/>
<circle cx="576.5" cy="312.8" r="1.9" fill="#4D878C" fill-opacity="0.85"/>
<circle cx="618.4" cy="212.8" r="1.9" fill="#AF5C60" fill-opacity="0.85"/>
<circle cx="617.5" cy="219.2" r="1.9" fill="#AF5C60" fill-opacity="0.85"/>
<circle cx="622.3" cy="221.4" r="1.9" fill="#AF5C60" fill-opacity="0.85"/>
<circle cx="619.2" cy="212.8" r="1.9" fill="#AF5C60" fill-opacity="0.85"/>
<circle cx="618.7" cy="237.4" r="1.9" fill="#AF5C60" fill-opacity="0.85"/>
<circle cx="620" cy="243.7" r="1.9" fill="#AF5C60" fill-opacity="0.85"/>
<circle cx="622.3" cy="246.9" r="1.9" fill="#AF5C60" fill-opacity="0.85"/>
<circle cx="617.8" cy="250.2" r="1.9" fill="#AF5C60" fill-opacity="0.85"/>
<circle cx="620.5" cy="251.7" r="1.9" fill="#AF5C60" fill-opacity="0.85"/>
<circle cx="619.3" cy="244.5" r="1.9" fill="#AF5C60" fill-opacity="0.85"/>
<circle cx="618.4" cy="250.8" r="1.9" fill="#AF5C60" fill-opacity="0.85"/>
<circle cx="621.4" cy="238" r="1.9" fill="#4E626C" fill-opacity="0.85"/>
<circle cx="619.2" cy="241" r="1.9" fill="#4E626C" fill-opacity="0.85"/>
<circle cx="614.3" cy="249" r="1.9" fill="#4E626C" fill-opacity="0.85"/>
<circle cx="625" cy="252.6" r="1.9" fill="#4E626C" fill-opacity="0.85"/>
<circle cx="614" cy="249.5" r="1.9" fill="#4E626C" fill-opacity="0.85"/>
<circle cx="619.3" cy="241" r="1.9" fill="#4E626C" fill-opacity="0.85"/>
<circle cx="614.3" cy="229" r="1.9" fill="#4D878C" fill-opacity="0.85"/>
<circle cx="616" cy="231.5" r="1.9" fill="#4D878C" fill-opacity="0.85"/>
<circle cx="618.7" cy="233.9" r="1.9" fill="#4D878C" fill-opacity="0.85"/>
<circle cx="615.5" cy="227.6" r="1.9" fill="#4D878C" fill-opacity="0.85"/>
<circle cx="617" cy="228" r="1.9" fill="#AF5C60" fill-opacity="0.85"/>
<circle cx="619" cy="230" r="1.9" fill="#AF5C60" fill-opacity="0.85"/>
<circle cx="617.5" cy="232.5" r="1.9" fill="#AF5C60" fill-opacity="0.85"/>
<circle cx="632.1" cy="212.1" r="1.9" fill="#C8A9AE" fill-opacity="0.85"/>
<circle cx="637.8" cy="246" r="1.9" fill="#C8A9AE" fill-opacity="0.85"/>
<circle cx="637.8" cy="249" r="1.9" fill="#C8A9AE" fill-opacity="0.85"/>
<circle cx="632.4" cy="243.7" r="1.9" fill="#E4E1E5" fill-opacity="0.85"/>
<circle cx="632.4" cy="246.7" r="1.9" fill="#E4E1E5" fill-opacity="0.85"/>
<circle cx="632.4" cy="252.6" r="1.9" fill="#E4E1E5" fill-opacity="0.85"/>
<circle cx="612.9" cy="282" r="1.9" fill="#AF5C60" fill-opacity="0.85"/>
<circle cx="614.4" cy="283.3" r="1.9" fill="#AF5C60" fill-opacity="0.85"/>
<circle cx="617.5" cy="271.4" r="1.9" fill="#AF5C60" fill-opacity="0.85"/>
<circle cx="610.2" cy="288.4" r="1.9" fill="#AF5C60" fill-opacity="0.85"/>
<circle cx="613.1" cy="275.2" r="1.9" fill="#AF5C60" fill-opacity="0.85"/>
<circle cx="621.9" cy="280.3" r="1.9" fill="#AF5C60" fill-opacity="0.85"/>
<circle cx="620" cy="280.5" r="1.9" fill="#AF5C60" fill-opacity="0.85"/>
<circle cx="617.7" cy="273.3" r="1.9" fill="#AF5C60" fill-opacity="0.85"/>
<circle cx="617.6" cy="289.1" r="1.9" fill="#AF5C60" fill-opacity="0.85"/>
<circle cx="616.3" cy="286.3" r="1.9" fill="#AF5C60" fill-opacity="0.85"/>
<circle cx="618.1" cy="271.4" r="1.9" fill="#AF5C60" fill-opacity="0.85"/>
<circle cx="619.1" cy="283" r="1.9" fill="#AF5C60" fill-opacity="0.85"/>
<circle cx="613.6" cy="270.7" r="1.9" fill="#AF5C60" fill-opacity="0.85"/>
<circle cx="620.4" cy="280.4" r="1.9" fill="#AF5C60" fill-opacity="0.85"/>
<circle cx="618.6" cy="289.3" r="1.9" fill="#AF5C60" fill-opacity="0.85"/>
<circle cx="618.6" cy="290.3" r="1.9" fill="#AF5C60" fill-opacity="0.85"/>
<circle cx="614.7" cy="287.6" r="1.9" fill="#AF5C60" fill-opacity="0.85"/>
<circle cx="615.3" cy="290.6" r="1.9" fill="#AF5C60" fill-opacity="0.85"/>
<circle cx="620.5" cy="272.1" r="1.9" fill="#AF5C60" fill-opacity="0.85"/>
<circle cx="611.6" cy="274.8" r="1.9" fill="#AF5C60" fill-opacity="0.85"/>
<circle cx="621.6" cy="279.6" r="1.9" fill="#AF5C60" fill-opacity="0.85"/>
<circle cx="617.5" cy="276.6" r="1.9" fill="#AF5C60" fill-opacity="0.85"/>
<circle cx="616.1" cy="278.5" r="1.9" fill="#AF5C60" fill-opacity="0.85"/>
<circle cx="614.2" cy="282.9" r="1.9" fill="#AF5C60" fill-opacity="0.85"/>
<circle cx="617" cy="289.9" r="1.9" fill="#AF5C60" fill-opacity="0.85"/>
<circle cx="618.2" cy="290.4" r="1.9" fill="#AF5C60" fill-opacity="0.85"/>
<circle cx="620.3" cy="291.8" r="1.9" fill="#AF5C60" fill-opacity="0.85"/>
<circle cx="618.1" cy="273.6" r="1.9" fill="#AF5C60" fill-opacity="0.85"/>
<circle cx="623.6" cy="313.5" r="1.9" fill="#AF5C60" fill-opacity="0.85"/>
<circle cx="617.7" cy="314.6" r="1.9" fill="#AF5C60" fill-opacity="0.85"/>
<circle cx="614" cy="309.8" r="1.9" fill="#AF5C60" fill-opacity="0.85"/>
<circle cx="618.6" cy="312.8" r="1.9" fill="#AF5C60" fill-opacity="0.85"/>
<circle cx="611.6" cy="299.1" r="1.9" fill="#AF5C60" fill-opacity="0.85"/>
<circle cx="624.1" cy="313.3" r="1.9" fill="#AF5C60" fill-opacity="0.85"/>
<circle cx="624.9" cy="294.2" r="1.9" fill="#AF5C60" fill-opacity="0.85"/>
<circle cx="613.2" cy="302.3" r="1.9" fill="#AF5C60" fill-opacity="0.85"/>
<circle cx="624.3" cy="299.3" r="1.9" fill="#AF5C60" fill-opacity="0.85"/>
<circle cx="611.1" cy="313.8" r="1.9" fill="#AF5C60" fill-opacity="0.85"/>
<circle cx="611.3" cy="307.4" r="1.9" fill="#AF5C60" fill-opacity="0.85"/>
<circle cx="615.9" cy="310" r="1.9" fill="#AF5C60" fill-opacity="0.85"/>
<circle cx="623.4" cy="314" r="1.9" fill="#AF5C60" fill-opacity="0.85"/>
<circle cx="628.5" cy="304.6" r="1.9" fill="#AF5C60" fill-opacity="0.85"/>
<circle cx="611.9" cy="299.7" r="1.9" fill="#AF5C60" fill-opacity="0.85"/>
<circle cx="611.1" cy="307" r="1.9" fill="#AF5C60" fill-opacity="0.85"/>
<circle cx="617.8" cy="296.9" r="1.9" fill="#AF5C60" fill-opacity="0.85"/>
<circle cx="613.3" cy="307.3" r="1.9" fill="#AF5C60" fill-opacity="0.85"/>
<circle cx="626.1" cy="293.1" r="1.9" fill="#AF5C60" fill-opacity="0.85"/>
<circle cx="627.8" cy="299.8" r="1.9" fill="#AF5C60" fill-opacity="0.85"/>
<circle cx="615.4" cy="314.4" r="1.9" fill="#AF5C60" fill-opacity="0.85"/>
<circle cx="619.9" cy="303.5" r="1.9" fill="#AF5C60" fill-opacity="0.85"/>
<circle cx="621.2" cy="308.1" r="1.9" fill="#AF5C60" fill-opacity="0.85"/>
<circle cx="621.7" cy="306" r="1.9" fill="#AF5C60" fill-opacity="0.85"/>
<circle cx="616.6" cy="315.5" r="1.9" fill="#AF5C60" fill-opacity="0.85"/>
<circle cx="623.5" cy="302.8" r="1.9" fill="#AF5C60" fill-opacity="0.85"/>
<circle cx="615.9" cy="297.9" r="1.9" fill="#AF5C60" fill-opacity="0.85"/>
<circle cx="616.4" cy="316.4" r="1.9" fill="#AF5C60" fill-opacity="0.85"/>
<circle cx="610.7" cy="305.7" r="1.9" fill="#AF5C60" fill-opacity="0.85"/>
<circle cx="620.9" cy="302.4" r="1.9" fill="#AF5C60" fill-opacity="0.85"/>
<circle cx="621.6" cy="292.5" r="1.9" fill="#AF5C60" fill-opacity="0.85"/>
<circle cx="611.6" cy="307.8" r="1.9" fill="#AF5C60" fill-opacity="0.85"/>
<circle cx="618.9" cy="307.7" r="1.9" fill="#AF5C60" fill-opacity="0.85"/>
<circle cx="616.6" cy="309" r="1.9" fill="#AF5C60" fill-opacity="0.85"/>
<circle cx="622.8" cy="309.7" r="1.9" fill="#AF5C60" fill-opacity="0.85"/>
<circle cx="611.6" cy="292.6" r="1.9" fill="#AF5C60" fill-opacity="0.85"/>
<circle cx="627.1" cy="308.9" r="1.9" fill="#AF5C60" fill-opacity="0.85"/>
<circle cx="618.7" cy="298.3" r="1.9" fill="#AF5C60" fill-opacity="0.85"/>
<circle cx="616.3" cy="306.8" r="1.9" fill="#AF5C60" fill-opacity="0.85"/>
<circle cx="616.1" cy="301.1" r="1.9" fill="#AF5C60" fill-opacity="0.85"/>
<circle cx="621.2" cy="301.2" r="1.9" fill="#AF5C60" fill-opacity="0.85"/>
<circle cx="617.3" cy="299.5" r="1.9" fill="#AF5C60" fill-opacity="0.85"/>
<circle cx="610.9" cy="311.3" r="1.9" fill="#AF5C60" fill-opacity="0.85"/>
<circle cx="623.7" cy="306.2" r="1.9" fill="#AF5C60" fill-opacity="0.85"/>
<circle cx="614.5" cy="299.8" r="1.9" fill="#AF5C60" fill-opacity="0.85"/>
<circle cx="614" cy="312.1" r="1.9" fill="#AF5C60" fill-opacity="0.85"/>
<circle cx="618.3" cy="296.7" r="1.9" fill="#AF5C60" fill-opacity="0.85"/>
<circle cx="612.2" cy="309.5" r="1.9" fill="#AF5C60" fill-opacity="0.85"/>
<circle cx="616.5" cy="300" r="1.9" fill="#AF5C60" fill-opacity="0.85"/>
<circle cx="616.7" cy="312.8" r="1.9" fill="#AF5C60" fill-opacity="0.85"/>
<circle cx="612.8" cy="313.4" r="1.9" fill="#AF5C60" fill-opacity="0.85"/>
<circle cx="622.2" cy="300.4" r="1.9" fill="#AF5C60" fill-opacity="0.85"/>
<circle cx="616.4" cy="314.1" r="1.9" fill="#AF5C60" fill-opacity="0.85"/>
<circle cx="612.7" cy="297.6" r="1.9" fill="#AF5C60" fill-opacity="0.85"/>
<circle cx="613.9" cy="305.2" r="1.9" fill="#AF5C60" fill-opacity="0.85"/>
<circle cx="623.3" cy="310.2" r="1.9" fill="#4E626C" fill-opacity="0.85"/>
<circle cx="624.1" cy="295.2" r="1.9" fill="#C8A9AE" fill-opacity="0.85"/>
<circle cx="613.2" cy="303.6" r="1.9" fill="#C8A9AE" fill-opacity="0.85"/>
<circle cx="613.8" cy="293.8" r="1.9" fill="#4D878C" fill-opacity="0.85"/>
<circle cx="618.5" cy="304" r="1.9" fill="#4D878C" fill-opacity="0.85"/>
<circle cx="617.9" cy="297.3" r="1.9" fill="#4D878C" fill-opacity="0.85"/>
<circle cx="614.2" cy="285.1" r="1.9" fill="#C8A9AE" fill-opacity="0.85"/>
<circle cx="625.8" cy="298" r="1.9" fill="#C8A9AE" fill-opacity="0.85"/>
<circle cx="615.1" cy="307.4" r="1.9" fill="#C8A9AE" fill-opacity="0.85"/>
<circle cx="622.5" cy="313.9" r="1.9" fill="#C8A9AE" fill-opacity="0.85"/>
<circle cx="613.4" cy="324.3" r="1.9" fill="#AF5C60" fill-opacity="0.85"/>
<circle cx="613.6" cy="324.1" r="1.9" fill="#AF5C60" fill-opacity="0.85"/>
<circle cx="612.8" cy="269.5" r="1.9" fill="#AF5C60" fill-opacity="0.85"/>
<circle cx="612.8" cy="272.5" r="1.9" fill="#AF5C60" fill-opacity="0.85"/>
<circle cx="633" cy="314.3" r="1.9" fill="#AF5C60" fill-opacity="0.85"/>
<circle cx="629.4" cy="299" r="1.9" fill="#9DB0C4" fill-opacity="0.85"/>
<circle cx="631" cy="301.5" r="1.9" fill="#9DB0C4" fill-opacity="0.85"/>
<circle cx="632.5" cy="304" r="1.9" fill="#9DB0C4" fill-opacity="0.85"/>
<circle cx="634" cy="306" r="1.9" fill="#9DB0C4" fill-opacity="0.85"/>
<circle cx="630.5" cy="306.5" r="1.9" fill="#9DB0C4" fill-opacity="0.85"/>
<circle cx="633.5" cy="298.3" r="1.9" fill="#9DB0C4" fill-opacity="0.85"/>
<circle cx="635.6" cy="302" r="1.9" fill="#9DB0C4" fill-opacity="0.85"/>
<circle cx="629" cy="296" r="1.9" fill="#9DB0C4" fill-opacity="0.85"/>
<circle cx="648.1" cy="277" r="1.9" fill="#AF5C60" fill-opacity="0.85"/>
<circle cx="653.5" cy="277.8" r="1.9" fill="#AF5C60" fill-opacity="0.85"/>
<circle cx="655.2" cy="279.6" r="1.9" fill="#AF5C60" fill-opacity="0.85"/>
<circle cx="653.5" cy="288.5" r="1.9" fill="#AF5C60" fill-opacity="0.85"/>
<circle cx="654.3" cy="293" r="1.9" fill="#AF5C60" fill-opacity="0.85"/>
<circle cx="646.3" cy="279.6" r="1.9" fill="#AF5C60" fill-opacity="0.85"/>
<circle cx="648.1" cy="283.2" r="1.9" fill="#AF5C60" fill-opacity="0.85"/>
<circle cx="650" cy="286.5" r="1.9" fill="#AF5C60" fill-opacity="0.85"/>
<circle cx="659.7" cy="271.6" r="1.9" fill="#AF5C60" fill-opacity="0.85"/>
<circle cx="660.6" cy="271.3" r="1.9" fill="#AF5C60" fill-opacity="0.85"/>
<circle cx="654.3" cy="269.5" r="1.9" fill="#AF5C60" fill-opacity="0.85"/>
<circle cx="656.1" cy="282.3" r="1.9" fill="#4D878C" fill-opacity="0.85"/>
<circle cx="656.7" cy="286.7" r="1.9" fill="#4D878C" fill-opacity="0.85"/>
<circle cx="652" cy="266.3" r="1.9" fill="#4D878C" fill-opacity="0.85"/>
<circle cx="651.7" cy="266.2" r="1.9" fill="#4D878C" fill-opacity="0.85"/>
<circle cx="655.6" cy="298.3" r="1.9" fill="#4E626C" fill-opacity="0.85"/>
<path d="M442.2 359.5 L453.1 355.1 L463.9 350.7 L474.8 346.2 L485.6 341.8 L496.5 337.4 L507.3 332.9 L518.2 328.5 L529 324.1 L539.9 319.6 L550.8 315.1 L561.6 310.7 L572.5 306.2 L583.3 301.6 L594.2 297 L605 292.3 L615.9 287.4 L626.7 282.5 L637.6 277.5 L648.4 272.5 L659.3 267.5 L659.3 271.5 L648.4 276 L637.6 280.5 L626.7 285 L615.9 289.6 L605 294.3 L594.2 299.1 L583.3 304 L572.5 308.9 L561.6 313.9 L550.8 319 L539.9 324 L529 329.1 L518.2 334.1 L507.3 339.2 L496.5 344.3 L485.6 349.4 L474.8 354.4 L463.9 359.5 L453.1 364.6 L442.2 369.7 Z" fill="#bdbdbd" fill-opacity="0.6"/>
<circle cx="635.1" cy="269.3" r="2.2" fill="#9DB0C4" stroke="#222" stroke-width="0.55"/>
<circle cx="631" cy="284.1" r="2.2" fill="#9DB0C4" stroke="#222" stroke-width="0.55"/>
<circle cx="634.3" cy="293.2" r="2.2" fill="#9DB0C4" stroke="#222" stroke-width="0.55"/>
<circle cx="630.7" cy="297" r="2.2" fill="#9DB0C4" stroke="#222" stroke-width="0.55"/>
<circle cx="640.4" cy="297.9" r="2.2" fill="#9DB0C4" stroke="#222" stroke-width="0.55"/>
<circle cx="643.4" cy="296.9" r="2.2" fill="#9DB0C4" stroke="#222" stroke-width="0.55"/>
<circle cx="638.7" cy="260.5" r="2.2" fill="#9DB0C4" stroke="#222" stroke-width="0.55"/>
<circle cx="641.2" cy="267" r="2.2" fill="#9DB0C4" stroke="#222" stroke-width="0.55"/>
<circle cx="634.5" cy="287.2" r="2.2" fill="#9DB0C4" stroke="#222" stroke-width="0.55"/>
<circle cx="637.9" cy="277" r="2.2" fill="#9DB0C4" stroke="#222" stroke-width="0.55"/>
<circle cx="644.1" cy="285.1" r="2.2" fill="#9DB0C4" stroke="#222" stroke-width="0.55"/>
<circle cx="635.1" cy="270.4" r="2.2" fill="#9DB0C4" stroke="#222" stroke-width="0.55"/>
<circle cx="642.9" cy="279.6" r="2.2" fill="#9DB0C4" stroke="#222" stroke-width="0.55"/>
<circle cx="641.7" cy="274.4" r="2.2" fill="#9DB0C4" stroke="#222" stroke-width="0.55"/>
<circle cx="633" cy="281.9" r="2.2" fill="#9DB0C4" stroke="#222" stroke-width="0.55"/>
<circle cx="642.3" cy="267" r="2.2" fill="#9DB0C4" stroke="#222" stroke-width="0.55"/>
<circle cx="641.9" cy="297.8" r="2.2" fill="#9DB0C4" stroke="#222" stroke-width="0.55"/>
<circle cx="642.1" cy="293.8" r="2.2" fill="#9DB0C4" stroke="#222" stroke-width="0.55"/>
<circle cx="630.1" cy="285.8" r="2.2" fill="#9DB0C4" stroke="#222" stroke-width="0.55"/>
<circle cx="634.1" cy="271" r="2.2" fill="#9DB0C4" stroke="#222" stroke-width="0.55"/>
<circle cx="637.9" cy="277.3" r="2.2" fill="#9DB0C4" stroke="#222" stroke-width="0.55"/>
<circle cx="637.1" cy="291.8" r="2.2" fill="#9DB0C4" stroke="#222" stroke-width="0.55"/>
<circle cx="630" cy="262.2" r="2.2" fill="#9DB0C4" stroke="#222" stroke-width="0.55"/>
<circle cx="631.9" cy="265.1" r="2.2" fill="#9DB0C4" stroke="#222" stroke-width="0.55"/>
<circle cx="631" cy="300" r="2.2" fill="#9DB0C4" stroke="#222" stroke-width="0.55"/>
<circle cx="637.5" cy="273" r="2.2" fill="#9DB0C4" stroke="#222" stroke-width="0.55"/>
<circle cx="634.7" cy="274.4" r="2.2" fill="#9DB0C4" stroke="#222" stroke-width="0.55"/>
<circle cx="639.7" cy="284.1" r="2.2" fill="#9DB0C4" stroke="#222" stroke-width="0.55"/>
<circle cx="635.4" cy="267.8" r="2.2" fill="#9DB0C4" stroke="#222" stroke-width="0.55"/>
<circle cx="634.9" cy="265.1" r="2.2" fill="#9DB0C4" stroke="#222" stroke-width="0.55"/>
<circle cx="638.3" cy="289.4" r="2.2" fill="#9DB0C4" stroke="#222" stroke-width="0.55"/>
<circle cx="635.7" cy="263.3" r="2.2" fill="#9DB0C4" stroke="#222" stroke-width="0.55"/>
<circle cx="632.7" cy="275.3" r="2.2" fill="#9DB0C4" stroke="#222" stroke-width="0.55"/>
<circle cx="639.1" cy="292.1" r="2.2" fill="#9DB0C4" stroke="#222" stroke-width="0.55"/>
<circle cx="635.7" cy="292.8" r="2.2" fill="#9DB0C4" stroke="#222" stroke-width="0.55"/>
<circle cx="639.3" cy="277.7" r="2.2" fill="#9DB0C4" stroke="#222" stroke-width="0.55"/>
<circle cx="635.6" cy="280.3" r="2.2" fill="#9DB0C4" stroke="#222" stroke-width="0.55"/>
<circle cx="640.5" cy="277.2" r="2.2" fill="#9DB0C4" stroke="#222" stroke-width="0.55"/>
<circle cx="640.4" cy="278.9" r="2.2" fill="#9DB0C4" stroke="#222" stroke-width="0.55"/>
<circle cx="633.7" cy="282" r="2.2" fill="#9DB0C4" stroke="#222" stroke-width="0.55"/>
<circle cx="636.4" cy="277.5" r="2.2" fill="#9DB0C4" stroke="#222" stroke-width="0.55"/>
<circle cx="643.2" cy="298.4" r="2.2" fill="#9DB0C4" stroke="#222" stroke-width="0.55"/>
<circle cx="635.6" cy="296.8" r="2.2" fill="#9DB0C4" stroke="#222" stroke-width="0.55"/>
<circle cx="641.9" cy="270.7" r="2.2" fill="#9DB0C4" stroke="#222" stroke-width="0.55"/>
<circle cx="637" cy="265" r="2.2" fill="#9DB0C4" stroke="#222" stroke-width="0.55"/>
<circle cx="642.2" cy="287.2" r="2.2" fill="#9DB0C4" stroke="#222" stroke-width="0.55"/>
<circle cx="643.3" cy="292.5" r="2.2" fill="#9DB0C4" stroke="#222" stroke-width="0.55"/>
<circle cx="640" cy="290.1" r="2.2" fill="#9DB0C4" stroke="#222" stroke-width="0.55"/>
<circle cx="638.5" cy="264.2" r="2.2" fill="#9DB0C4" stroke="#222" stroke-width="0.55"/>
<circle cx="638.8" cy="260.2" r="2.2" fill="#9DB0C4" stroke="#222" stroke-width="0.55"/>
<circle cx="632.2" cy="291.7" r="2.2" fill="#9DB0C4" stroke="#222" stroke-width="0.55"/>
<circle cx="630.7" cy="263.8" r="2.2" fill="#9DB0C4" stroke="#222" stroke-width="0.55"/>
<circle cx="631.5" cy="296.1" r="2.2" fill="#9DB0C4" stroke="#222" stroke-width="0.55"/>
<circle cx="632.7" cy="261" r="2.2" fill="#9DB0C4" stroke="#222" stroke-width="0.55"/>
<circle cx="642.7" cy="287.6" r="2.2" fill="#9DB0C4" stroke="#222" stroke-width="0.55"/>
<circle cx="642.5" cy="299" r="2.2" fill="#9DB0C4" stroke="#222" stroke-width="0.55"/>
<circle cx="638.7" cy="292.7" r="2.2" fill="#9DB0C4" stroke="#222" stroke-width="0.55"/>
<circle cx="630.5" cy="291.5" r="2.2" fill="#9DB0C4" stroke="#222" stroke-width="0.55"/>
<circle cx="637.7" cy="289.3" r="2.2" fill="#9DB0C4" stroke="#222" stroke-width="0.55"/>
<circle cx="631.6" cy="290.7" r="2.2" fill="#9DB0C4" stroke="#222" stroke-width="0.55"/>
<circle cx="634.9" cy="283.1" r="2.2" fill="#9DB0C4" stroke="#222" stroke-width="0.55"/>
<circle cx="642.4" cy="269.9" r="2.2" fill="#9DB0C4" stroke="#222" stroke-width="0.55"/>
<circle cx="632.7" cy="270.2" r="2.2" fill="#9DB0C4" stroke="#222" stroke-width="0.55"/>
<circle cx="639.2" cy="290.9" r="2.2" fill="#9DB0C4" stroke="#222" stroke-width="0.55"/>
<circle cx="635.9" cy="275.1" r="2.2" fill="#9DB0C4" stroke="#222" stroke-width="0.55"/>
<circle cx="635.9" cy="274.4" r="2.2" fill="#9DB0C4" stroke="#222" stroke-width="0.55"/>
<circle cx="636.3" cy="263.4" r="2.2" fill="#9DB0C4" stroke="#222" stroke-width="0.55"/>
<circle cx="637.5" cy="299.9" r="2.2" fill="#9DB0C4" stroke="#222" stroke-width="0.55"/>
<circle cx="636.2" cy="290.6" r="2.2" fill="#9DB0C4" stroke="#222" stroke-width="0.55"/>
<circle cx="632.4" cy="288.3" r="2.2" fill="#9DB0C4" stroke="#222" stroke-width="0.55"/>
<circle cx="631.2" cy="258.8" r="2.2" fill="#9DB0C4" stroke="#222" stroke-width="0.55"/>
<circle cx="634" cy="257.5" r="2.2" fill="#9DB0C4" stroke="#222" stroke-width="0.55"/>
<circle cx="636.5" cy="260" r="2.2" fill="#9DB0C4" stroke="#222" stroke-width="0.55"/>
<circle cx="655.6" cy="253.5" r="2.2" fill="#9DB0C4" stroke="#222" stroke-width="0.55"/>
<circle cx="654.9" cy="259.2" r="2.2" fill="#9DB0C4" stroke="#222" stroke-width="0.55"/>
<circle cx="653.5" cy="262.4" r="2.2" fill="#9DB0C4" stroke="#222" stroke-width="0.55"/>
<circle cx="657" cy="265" r="2.2" fill="#9DB0C4" stroke="#222" stroke-width="0.55"/>
<circle cx="653.5" cy="262.7" r="2.2" fill="#9DB0C4" stroke="#222" stroke-width="0.55"/>
<circle cx="657" cy="265.3" r="2.2" fill="#9DB0C4" stroke="#222" stroke-width="0.55"/>
<circle cx="639.2" cy="270.5" r="2.2" fill="#E4E1E5" stroke="#222" stroke-width="0.55"/>
<path d="M442.2 364.6L659.3 269.5" stroke="#111" stroke-width="1.2" fill="none"/>
</svg></body></html>
